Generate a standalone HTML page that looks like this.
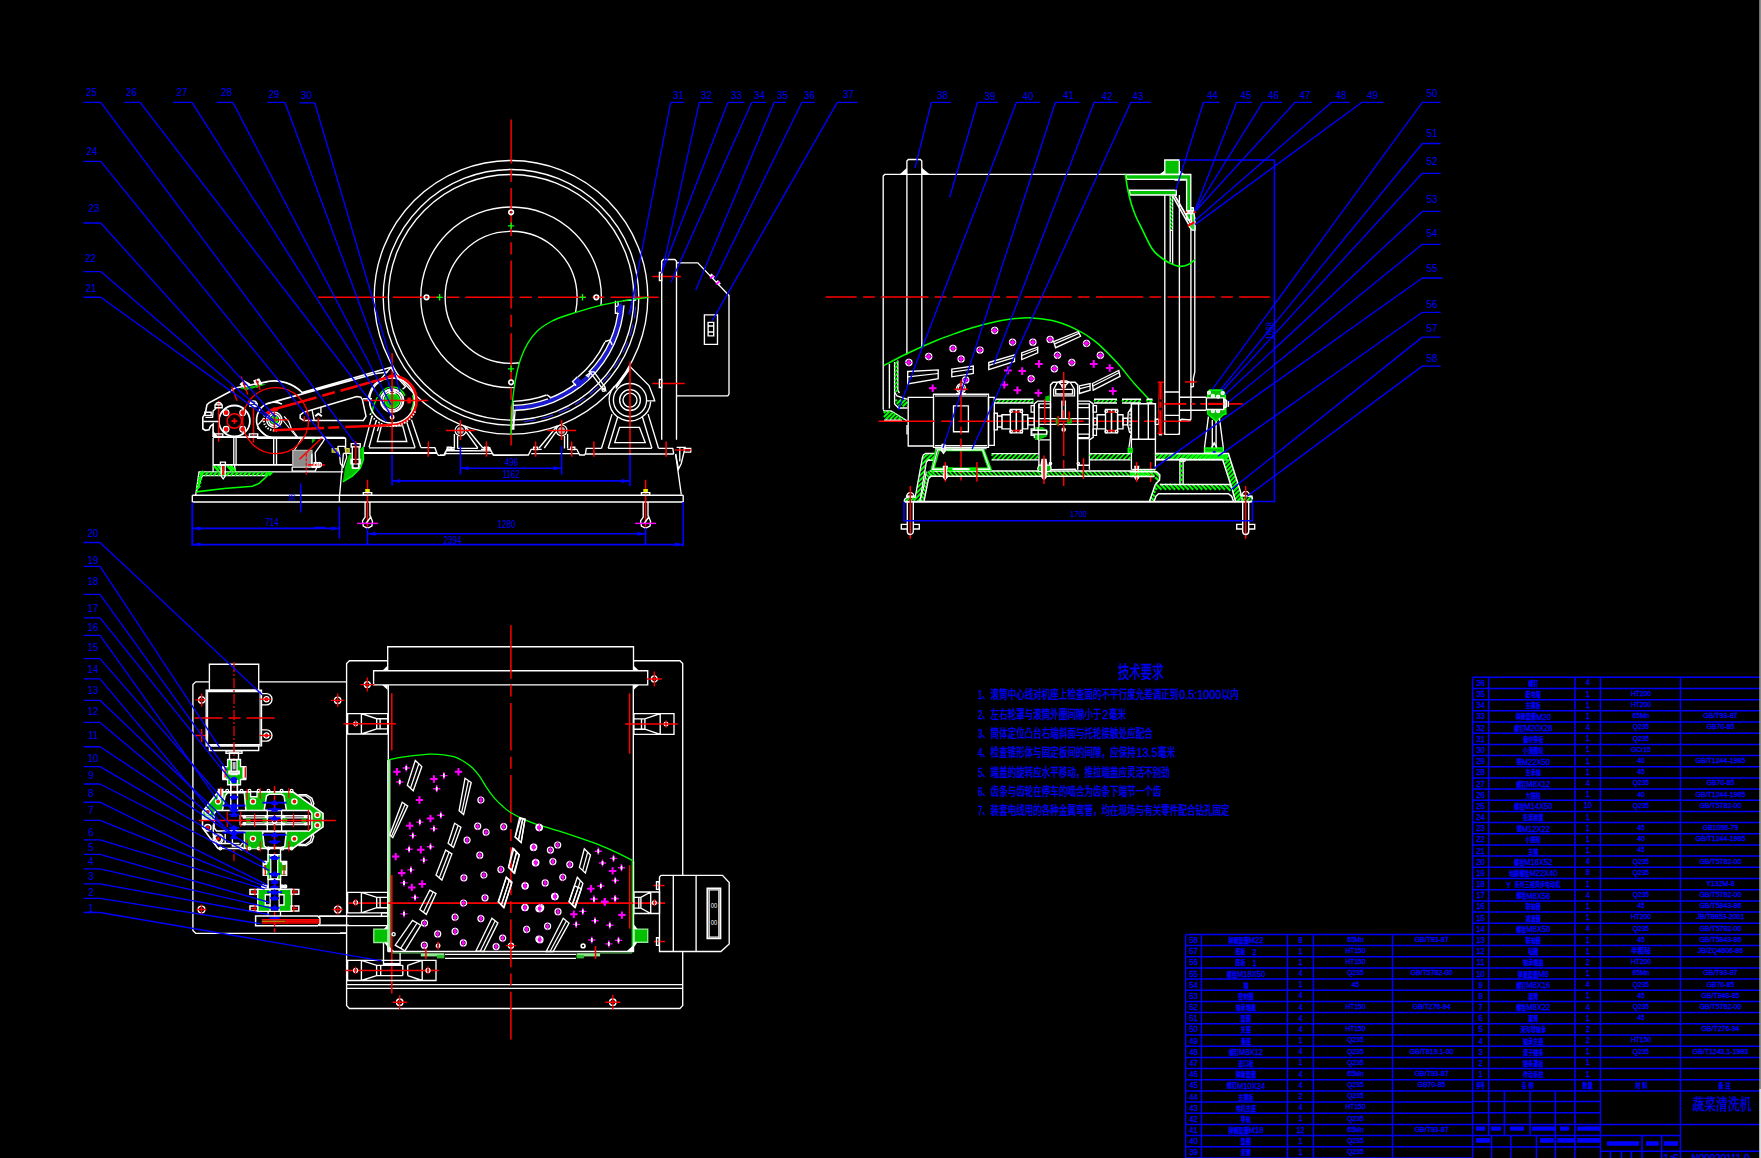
<!DOCTYPE html>
<html lang="zh"><head><meta charset="utf-8"><title>蔬菜清洗机 装配图</title>
<style>
html,body{margin:0;padding:0;background:#000;overflow:hidden}
svg{display:block}
text{font-family:"Liberation Sans","Noto Sans CJK SC",sans-serif}
text.m{font-family:"Liberation Mono","Noto Sans CJK SC",monospace}
text.f{font-family:"Liberation Serif","Noto Serif CJK SC",serif}
text.b{stroke:#00f;stroke-width:.3px}
</style></head>
<body>
<svg width="1761" height="1158" viewBox="0 0 1761 1158">
<rect width="1761" height="1158" fill="#000"/>
<g fill="none">
<path stroke="#ffffff" stroke-width="1.35" d="M374.2 297.3a136.8 136.8 0 1 0 273.6 0a136.8 136.8 0 1 0 -273.6 0M383.2 297.3a127.8 127.8 0 1 0 255.6 0a127.8 127.8 0 1 0 -255.6 0M388.4 297.3a122.7 122.7 0 1 0 245.4 0a122.7 122.7 0 1 0 -245.4 0M420.8 297.3a90.3 90.3 0 1 0 180.6 0a90.3 90.3 0 1 0 -180.6 0M445.1 297.3a66 66 0 1 0 132 0a66 66 0 1 0 -132 0"/>
<path stroke="#ff0000" stroke-width="1.49" d="M318.2 297.3L386.7 297.3"/>
<path stroke="#ff0000" stroke-width="1.49" stroke-dasharray="48 6.2 12.3 6.1" d="M392.8 297.3L658.6 297.3"/>
<path stroke="#ff0000" stroke-width="1.49" d="M511.1 119.5L511.1 163.5"/>
<path stroke="#ff0000" stroke-width="1.49" stroke-dasharray="12.3 6.1 48 6.2" d="M511.1 169.6L511.1 445.5"/>
<path stroke="#ffffff" stroke-width="1.62" d="M508.8 212.3a2.3 2.3 0 1 0 4.6 0a2.3 2.3 0 1 0 -4.6 0M508.8 382.3a2.3 2.3 0 1 0 4.6 0a2.3 2.3 0 1 0 -4.6 0M424.2 297.3a2.3 2.3 0 1 0 4.6 0a2.3 2.3 0 1 0 -4.6 0M594 297.3a2.3 2.3 0 1 0 4.6 0a2.3 2.3 0 1 0 -4.6 0"/>
<path stroke="#00ff00" stroke-width="1.35" d="M507.9 225.8L514.2 225.8M511.1 222.6L511.1 229M507.9 368.8L514.2 368.8M511.1 365.6L511.1 372M436.4 297.3L442.8 297.3M439.6 294.1L439.6 300.5M579.3 297.3L585.8 297.3M582.5 294.1L582.5 300.5"/>
<path stroke-width="1.35" fill="#000" d="M624.4 300.7L596.7 306.3L569.1 314.5L551.1 321.5L537.3 331.1L527.6 343.6L520.7 358.8L516.6 374L513.8 390.5L512.2 404.4L511.4 420L511.1 433.4L511.1 418.7L521.6 418.2L532.1 416.9L542.5 414.6L552.6 411.4L562.4 407.3L571.8 402.4L580.7 396.7L589.1 390.3L596.9 383.1L604 375.3L610.5 366.9L616.2 358L621.1 348.6L625.1 338.8L628.3 328.7L630.6 318.4L632 307.9L632.5 297.3Z"/>
<path stroke-width="1.35" fill="#1a1ad0" d="M623.6 305.2L623 311L622.1 316.9L621 322.7L619.5 328.4L617.7 334L615.6 339.6L613.3 345L610.6 350.3L607.7 355.4L604.6 360.4L601.1 365.2L597.5 369.8L593.5 374.2L589.4 378.4L585.1 382.4L580.5 386.2L575.7 389.7L570.8 393L565.7 396L560.5 398.7L555.1 401.1L549.6 403.3L544 405.2L538.3 406.7L532.6 408L526.7 409L520.9 409.7L515 410L514.8 405.8L520.5 405.5L526.2 404.8L531.8 403.9L537.3 402.7L542.8 401.2L548.2 399.4L553.5 397.3L558.7 394.9L563.7 392.3L568.6 389.4L573.3 386.3L577.9 382.9L582.3 379.3L586.5 375.4L590.5 371.4L594.2 367.1L597.8 362.7L601.1 358L604.1 353.2L606.9 348.3L609.5 343.2L611.7 338L613.7 332.7L615.4 327.2L616.9 321.7L618 316.2L618.8 310.5L619.4 304.9Z"/>
<path stroke="#ffffff" stroke-width="1.35" d="M624 305.2A113.2 113.2 0 0 1 514 410.5M618.8 304.8A108 108 0 0 1 588.7 372.3M577.5 382.4A108 108 0 0 1 549.8 398.1M604.9 342.1A104 104 0 0 1 577.9 377M546.6 395A104 104 0 0 1 512.9 401.3M548 398.8A108 108 0 0 1 512.9 405.3"/>
<path stroke="#2828f0" stroke-width="1.08" stroke-dasharray="12 6" d="M635.7 288.6A125 125 0 0 1 519.8 422"/>
<path stroke="#ffffff" stroke-width="1.35" d="M605 341.5L609.8 340.1L612.2 344.9M547 394.7L550.4 397.4M615.4 300.7L615.4 313.2L619.1 313.2M615.4 306.3L618.1 306.3L618.1 300.7"/>
<path stroke-width="1.35" fill="#1a1ad0" d="M616.8 307.6L621.6 302.1L621.6 314.5L617.4 312.5ZM572.5 381.6L577.4 376.7L581.5 380.9L586.4 376.7L588.4 379.5L579.4 387.1Z"/>
<path stroke="#ffffff" stroke-width="1.35" d="M577.4 376.7L572.5 381.6L576 385.7M589.8 371.9L602.9 389.2L605.7 390.5L605 387.1L594 371.9ZM586.4 375.3L590.5 372.6L588.4 376.7ZM602 389.8a1.6 1.6 0 1 0 3.2 0a1.6 1.6 0 1 0 -3.2 0M513.1 402.3L513.1 428.5L511.3 429.2M515.2 409.9L513.8 425.1M511.6 425.1L513.8 425.1L513.8 429.1L511.6 429.1ZM623 300.7L636.1 300"/>
<path stroke="#3030ff" stroke-width="1.35" d="M632.6 300.7L629.2 314.5"/>
<path stroke="#00ff00" stroke-width="1.35" d="M648.5 297.3C644.5 297.9 633 299.2 624.4 300.7C615.8 302.2 605.9 304 596.7 306.3C587.5 308.6 576.7 312 569.1 314.5C561.5 317 556.4 318.7 551.1 321.5C545.8 324.3 541.2 327.4 537.3 331.1C533.4 334.8 530.4 339 527.6 343.6C524.8 348.2 522.5 353.7 520.7 358.8C518.9 363.9 517.8 368.7 516.6 374C515.5 379.3 514.5 385.4 513.8 390.5C513.1 395.6 512.6 399.5 512.2 404.4C511.8 409.3 511.6 415.2 511.4 420C511.2 424.8 511.1 431.2 511.1 433.4"/>
<path stroke="#00ff00" stroke-width="1.62" d="M511.1 433L511.1 434.8"/>
<path stroke="#ffffff" stroke-width="1.35" d="M623 400.1a7 7 0 1 0 14 0a7 7 0 1 0 -14 0M619.6 400.1a10.4 10.4 0 1 0 20.8 0a10.4 10.4 0 1 0 -20.8 0M613.4 400.1a16.6 16.6 0 1 0 33.2 0a16.6 16.6 0 1 0 -33.2 0M650.7 401.9A20.8 20.8 0 1 1 614.5 386.2M615.8 386.6L630 366.6L649 385.6L653.8 398L654.7 400.8L646.2 400.8M630 368.5L615.8 388.5"/>
<path stroke="#ff0000" stroke-width="1.49" d="M630 361.5L630 455"/>
<path stroke="#ffffff" stroke-width="1.35" d="M612 414.1L601.5 448.3M617.7 417L608.2 448.3M642.4 417L651.9 448.3M648.1 414.1L658.5 448.3M619.6 427.4L639.5 427.4L645.2 442.6L614.8 442.6ZM585.4 454L586.3 448.3L601.5 448.3M608.2 448.3L651.9 448.3M658.5 448.3L672.8 448.3L673.7 454"/>
<path stroke="#00ff00" stroke-width="1.35" fill="#00c000" d="M384.9 400.5a7.2 7.2 0 1 0 14.4 0a7.2 7.2 0 1 0 -14.4 0"/>
<path stroke="#ffffff" stroke-width="1.35" d="M382.9 400.5a9.2 9.2 0 1 0 18.4 0a9.2 9.2 0 1 0 -18.4 0"/>
<path stroke="#ffffff" stroke-width="1.89" d="M380.8 400.5a11.3 11.3 0 1 0 22.6 0a11.3 11.3 0 1 0 -22.6 0"/>
<path stroke="#00ff00" stroke-width="1.35" d="M379 397A13.6 13.6 0 0 1 404.9 395.8M412.7 395A21.3 21.3 0 0 1 411.1 410.2M371.8 413.6L373.6 405.5L377.4 396.9"/>
<path stroke="#ffffff" stroke-width="1.62" d="M369.5 400.5a22.6 22.6 0 1 0 45.2 0a22.6 22.6 0 1 0 -45.2 0"/>
<path stroke="#ff0000" stroke-width="2.56" d="M388.7 376A24.7 24.7 0 1 1 389.9 425.1"/>
<path stroke="#ffffff" stroke-width="1.76" stroke-dasharray="1.5 1.5" d="M415.3 411.3A25.6 25.6 0 0 1 369.9 413.3"/>
<path stroke="#ffffff" stroke-width="1.35" d="M389.3 389.8L394.9 389.8L394.9 393.6L389.3 393.6ZM390.3 417.2a1.8 1.8 0 1 0 3.6 0a1.8 1.8 0 1 0 -3.6 0"/>
<path stroke="#ff0000" stroke-width="1.49" d="M363.8 400.5L427.8 400.5M392.1 353.2L392.1 453"/>
<path stroke="#ff0000" stroke-width="1.35" fill="#ff0000" d="M408 398.2L410.2 398.2L410.2 402.8L408 402.8Z"/>
<path stroke="#ffffff" stroke-width="1.35" d="M368.4 401.3A23.7 23.7 0 0 1 379.5 380.4M379.8 380.2L391 367.3L396.5 376.5L405.6 386.7L402.5 389.3M372 398.7L363 398.7M372.1 415.5L363.8 447.2M376.2 420.7L369 447.2M406.8 422.3L415.1 447.7M411.5 419.7L420.8 447.2M381.4 425.9L402.7 425.9L406.8 441.5L377.3 441.5ZM369 447.9L415.1 447.9M420.8 447.5L434.8 447.7L436.9 453.1M379.9 423.6L377.3 431.1M343.3 453.4L436.9 453.4L438.4 455.4L443.6 455.4L446.2 450.5L448.3 447.7L454.5 447.7M362.8 452.6L436.5 452.6M457.6 448.3L477.8 448.3M483 447.7L489.7 447.7L490.8 450.8L493.9 455.4L528.4 455L531.2 449.3L541.7 449.3M446.2 450.5L490.8 450.8M531.2 453.6L579.7 453.6M567.3 449.3L576.8 449.3L579.7 455L584.4 455L585.4 454L673.7 454M440 455L444.8 455L446.7 449.3L454.8 449.3M480.9 449.3L490.4 449.3L493.2 455L528.4 455M445.7 453.6L492.3 453.6"/>
<path stroke="#ffffff" stroke-width="1.22" d="M455.1 430.4a5.4 5.4 0 1 0 10.8 0a5.4 5.4 0 1 0 -10.8 0"/>
<path stroke-width="1.35" fill="#b4bcbc" d="M456.9 430.4a3.5 3.5 0 1 0 7 0a3.5 3.5 0 1 0 -7 0"/>
<path stroke="#ffffff" stroke-width="1.35" d="M454.4 433.9L454.4 448.5M457.6 435.9L457.6 448.5M464.8 426L482.9 448M466.3 432.2L477.8 448"/>
<path stroke="#ff0000" stroke-width="1.49" d="M445.9 430.4L474.9 430.4M460.4 419.9L460.4 439.9"/>
<path stroke="#ffffff" stroke-width="1.35" d="M447.2 447.2L451.2 447.2L451.2 449.6L447.2 449.6ZM484.4 447.2L488.4 447.2L488.4 449.6L484.4 449.6Z"/>
<path stroke="#ffffff" stroke-width="1.22" d="M556.2 430.4a5.4 5.4 0 1 0 10.8 0a5.4 5.4 0 1 0 -10.8 0"/>
<path stroke-width="1.35" fill="#b4bcbc" d="M558.1 430.4a3.5 3.5 0 1 0 7 0a3.5 3.5 0 1 0 -7 0"/>
<path stroke="#ffffff" stroke-width="1.35" d="M567.6 433.9L567.6 448.5M564.5 435.9L564.5 448.5M557.2 426L539.1 448M555.7 432.2L544.3 448"/>
<path stroke="#ff0000" stroke-width="1.49" d="M547.1 430.4L576.1 430.4M561.6 419.9L561.6 439.9"/>
<path stroke="#ffffff" stroke-width="1.35" d="M574.8 447.2L570.8 447.2L570.8 449.6L574.8 449.6ZM537.6 447.2L533.6 447.2L533.6 449.6L537.6 449.6Z"/>
<path stroke="#ff0000" stroke-width="1.49" d="M428.3 441.5L428.3 456.8M486.4 441.5L486.4 456.8M535.6 441.5L535.6 456.8M571.7 441.5L571.7 456.8M593.9 441.5L593.9 456.8M666.1 441.5L666.1 456.8"/>
<path stroke="#ffffff" stroke-width="1.62" d="M192.3 495.3L683.2 495.3M192.3 502L683.2 502"/>
<path stroke="#ffffff" stroke-width="1.35" d="M192.3 495.3L192.3 502M683.2 495.3L683.2 502M339.4 495.3L339.4 502M339.6 495.3L343.4 453.4M675.6 454L681.3 494.5M661.7 439.7L661.7 261.2L663.3 259.5L674.8 259.5L676.5 261.2L676.5 439.7M676.5 262.8L697.8 262.8L729 295.6L729 394.1L727.8 395.8L676.5 395.8M704.4 314.8L717.5 314.8L717.5 344.4L704.4 344.4ZM708.1 322.4L713.7 322.4L713.7 335.9L708.1 335.9ZM708.1 326L713.7 326M708.1 332L713.7 332"/>
<path stroke="#ff0000" stroke-width="1.49" d="M652.3 276.4L680.9 276.4M652.3 383.5L684.7 383.5"/>
<path stroke="#ffffff" stroke-width="1.35" d="M659.4 272.5L661.7 272.5L661.7 280.5L659.4 280.5ZM659.4 379.5L661.7 379.5L661.7 387.5L659.4 387.5Z"/>
<path stroke="#ffffff" stroke-width="3.24" d="M710.4 274.6L713.7 277.9M716.7 280.9L719.6 284.5"/>
<path stroke="#ff00ff" stroke-width="1.76" d="M710.1 278.4L713.7 275.6M716 284.2L719.6 281.4"/>
<path stroke="#ffffff" stroke-width="1.35" d="M676.6 447.4L685.1 447.4L681.3 463.5L678.5 469.2L675.6 454M679.8 448.3L679.8 461.6M684.2 448.3L690.7 448.3L690.7 452.1L684.2 452.1Z"/>
<path stroke="#ff0000" stroke-width="1.35" d="M674.7 450L691.2 450"/>
<path stroke="#ff0000" stroke-width="1.49" d="M367.5 479.8L367.5 528"/>
<path stroke-width="1.35" fill="#e8e800" d="M365.2 489L369.8 489L369.8 492.9L365.2 492.9Z"/>
<path stroke="#ffffff" stroke-width="1.35" d="M363.3 492.6L371.7 492.6L371.7 495.2L363.3 495.2ZM365.1 502L365.1 517L362.5 521L363.3 526L367.5 528.3L371.9 526L372.5 521.5L370.7 517L366 523.5M369.9 502L369.9 516.5"/>
<path stroke="#ff00ff" stroke-width="1.49" d="M357.1 523.4L377.9 523.4"/>
<path stroke="#ff0000" stroke-width="1.49" d="M645.6 479.8L645.6 528"/>
<path stroke-width="1.35" fill="#e8e800" d="M643.3 489L647.9 489L647.9 492.9L643.3 492.9Z"/>
<path stroke="#ffffff" stroke-width="1.35" d="M641.4 492.6L649.8 492.6L649.8 495.2L641.4 495.2ZM643.2 502L643.2 517L640.6 521L641.4 526L645.6 528.3L650 526L650.6 521.5L648.8 517L644.1 523.5M648 502L648 516.5"/>
<path stroke="#ff00ff" stroke-width="1.49" d="M635.2 523.4L656 523.4"/>
<path stroke="#ffffff" stroke-width="1.35" d="M195.7 495L199 471.9L343.3 471.9M196.2 491.9L202.4 475.6L268.1 475.6"/>
<path stroke="#00ff00" stroke-width="2.16" d="M200.7 475.5L204.1 472M205 475.5L208.4 472M209.3 475.5L212.6 472M213.5 475.5L216.9 472M217.8 475.5L221.2 472M222.1 475.5L225.4 472M226.3 475.5L229.7 472M230.6 475.5L234 472M234.9 475.5L238.2 472M239.1 475.5L242.5 472M243.4 475.5L246.8 472M247.7 475.5L251 472M251.9 475.5L255.3 472M256.2 475.5L259.6 472M260.5 475.5L263.8 472M264.7 475.5L268.1 472M269 475.5L272.4 472M196.2 489.6L200.2 485.7M197 485.9L200.9 482M197.8 482.2L201.7 478.3M198.6 478.5L202.5 474.6M199.4 474.8L203.3 470.9"/>
<path stroke="#00ff00" stroke-width="1.62" d="M196.2 491.9L224.3 488.5L252.4 486.2L259.1 483.4L265.8 477.3L270.3 471.9"/>
<path stroke="#ffffff" stroke-width="1.35" d="M213.1 464.9L213.1 471.7M234.4 464.9L235.5 471.7"/>
<path stroke="#00ff00" stroke-width="2.43" d="M213.6 465.5L218.7 471.1M217.6 465.5L222.6 471.1M227.1 465.5L232.2 471.1M230.5 465.5L235.5 471.1"/>
<path stroke="#ffffff" stroke-width="1.35" d="M220.4 462.1L225.4 462.1L225.4 465.1L220.4 465.1ZM221.2 464.9L221.2 476.1L223.2 478.9L225.2 476.1L225.2 464.9"/>
<path stroke="#ff0000" stroke-width="1.89" d="M223.2 466L223.2 475"/>
<path stroke="#ffffff" stroke-width="1.35" d="M213.1 438L213.1 464.9"/>
<path stroke="#ffffff" stroke-width="1.89" d="M213.1 464.9L292.2 464.9"/>
<path stroke="#ffffff" stroke-width="1.35" d="M233.8 438L233.8 464.9M236.1 438L236.1 464.9M273.7 438L273.7 464.9M276.5 438L276.5 464.9"/>
<path stroke="#ffffff" stroke-width="1.76" d="M256.9 438L345.6 438"/>
<path stroke="#ffffff" stroke-width="1.35" d="M345.6 438L345.6 452.6"/>
<path stroke="#ffffff" stroke-width="1.08" d="M282.7 420L297.3 438M301.8 438L294.5 450.3"/>
<path stroke="#bbbbbb" stroke-width="1.35" fill="#8c8c8c" d="M292.8 450.3L311.9 450.3L311.9 467.2L292.8 467.2Z"/>
<path stroke="#ffffff" stroke-width="1.35" d="M292.2 467.2L292.2 471.1L315.2 471.1L316.9 467.2L311.9 467.2M311.9 453.7L311.9 466L315.8 466L315.2 452.6L322.5 442.5L324.8 438.5L321.4 436.8"/>
<path stroke="#ff0000" stroke-width="1.55" d="M299.5 459.3L323.1 436.8"/>
<path stroke-width="1.35" fill="#00c000" d="M311.9 439.1L311.9 443.6L315.8 439.6Z"/>
<path stroke="#ff0000" stroke-width="1.22" stroke-dasharray="3 1.5" d="M306.3 453.7L306.3 476.1"/>
<path stroke="#ff0000" stroke-width="1.62" d="M308 464.9L324.8 464.9"/>
<path stroke="#ffffff" stroke-width="1.35" d="M314.1 462.7L319.1 462.7L319.1 467.2L314.1 467.2ZM317 464.7a2.2 2.2 0 1 0 4.4 0a2.2 2.2 0 1 0 -4.4 0M337.7 446.4L345 446.4L346.7 457.1L343.3 467.2L340.5 463.8L339.4 453.7L337.7 446.4"/>
<path stroke="#d8d860" stroke-width="1.08" fill="#909000" d="M332.1 448.6L337.7 448.6L337.7 452.2L332.1 452.2ZM345.6 448.6L349.2 448.6L349.2 452.2L345.6 452.2Z"/>
<path stroke-width="1.35" fill="#00c000" d="M348.9 454.8L363 446.9L363.5 459.3L360.2 468.3L352.3 476.1L342.8 481.8L345 467.2Z"/>
<path stroke="#00ff00" stroke-width="1.49" d="M363 446.9L363.5 459.3L360.2 468.3L352.3 476.1L342.8 481.8"/>
<path stroke="#ffffff" stroke-width="1.35" d="M351.2 443.6L360.2 443.6L360.2 447.1L351.2 447.1Z"/>
<path stroke="#ffffff" stroke-width="1.35" fill="#000" d="M352.3 446.9L359.1 446.9L359.1 467.9L352.3 467.9ZM351 459.3L360.4 459.3L360.4 463.8L351 463.8ZM352.9 463.8L358.5 463.8L358.5 468.3L352.9 468.3Z"/>
<path stroke="#d00000" stroke-width="1.89" d="M355.7 441.3L355.7 463.8"/>
<path stroke="#ffffff" stroke-width="1.76" d="M218.9 421a15.5 15.5 0 1 0 31 0a15.5 15.5 0 1 0 -31 0"/>
<path stroke="#ff0000" stroke-width="1.55" d="M227.1 421a7.3 7.3 0 1 0 14.6 0a7.3 7.3 0 1 0 -14.6 0"/>
<path stroke="#ff0000" stroke-width="1.76" d="M231.6 421L237.2 421M234.4 418.2L234.4 423.8"/>
<path stroke="#ff0000" stroke-width="1.62" fill="#ff0000" d="M224.5 412.7a1.6 1.6 0 1 0 3.2 0a1.6 1.6 0 1 0 -3.2 0"/>
<path stroke="#ffffff" stroke-width="1.08" d="M223.2 412.7a2.9 2.9 0 1 0 5.8 0a2.9 2.9 0 1 0 -5.8 0"/>
<path stroke="#ff0000" stroke-width="1.62" fill="#ff0000" d="M224.5 429.3a1.6 1.6 0 1 0 3.2 0a1.6 1.6 0 1 0 -3.2 0"/>
<path stroke="#ffffff" stroke-width="1.08" d="M223.2 429.3a2.9 2.9 0 1 0 5.8 0a2.9 2.9 0 1 0 -5.8 0"/>
<path stroke="#ff0000" stroke-width="1.62" fill="#ff0000" d="M241.1 412.7a1.6 1.6 0 1 0 3.2 0a1.6 1.6 0 1 0 -3.2 0"/>
<path stroke="#ffffff" stroke-width="1.08" d="M239.8 412.7a2.9 2.9 0 1 0 5.8 0a2.9 2.9 0 1 0 -5.8 0"/>
<path stroke="#ff0000" stroke-width="1.62" fill="#ff0000" d="M241.1 429.3a1.6 1.6 0 1 0 3.2 0a1.6 1.6 0 1 0 -3.2 0"/>
<path stroke="#ffffff" stroke-width="1.08" d="M239.8 429.3a2.9 2.9 0 1 0 5.8 0a2.9 2.9 0 1 0 -5.8 0"/>
<path stroke="#ff0000" stroke-width="1.49" d="M218.6 400.8L218.6 441.7M253.5 404.9L253.5 442.7"/>
<path stroke="#ffffff" stroke-width="1.62" d="M230.2 391.5L209 402.8L206.9 404.9L205.4 413.2L202.8 417.4L202.8 428.8L205.4 430.3L209 429.8L210.5 426.2L213.1 424.1L213.1 437"/>
<path stroke="#ffffff" stroke-width="1.35" d="M205.4 417.4L212.6 417.4L213.1 411.1L216.2 408M203.3 421.5L218.3 421.5"/>
<path stroke="#ffffff" stroke-width="1.76" d="M213.1 437L344.2 437.6"/>
<path stroke="#ffffff" stroke-width="1.35" d="M213.1 431.9L217.3 437M215 404.9L222.2 404.9L222.2 407.7L215 407.7ZM215.6 405.5A3 3 0 0 1 221.6 405.5M249.9 403.4L257.1 403.4L257.1 406.2L249.9 406.2ZM250.5 403.9A3 3 0 0 1 256.5 403.9M214.5 433.9L222.8 433.9L222.8 436.5L214.5 436.5ZM249.4 433.9L257.7 433.9L257.7 436.5L249.4 436.5ZM204.8 412.2L211.2 412.2L211.2 415.4L204.8 415.4Z"/>
<path stroke="#ffffff" stroke-width="1.62" d="M230.2 391.5L234.4 388.3L267.5 381.6"/>
<path stroke="#ffffff" stroke-width="2.16" d="M241.1 384.2L244.2 381.6L248.9 384.2L245.8 388.9ZM254.6 381.1L258.7 379.5L261.3 384.2L257.2 386.3Z"/>
<path stroke-width="1.35" fill="#00c000" d="M239.6 388.3L266.5 383.7L262.4 385.8L246.8 389.9Z"/>
<path stroke="#ff0000" stroke-width="1.35" d="M241.1 376.4L247.8 394.6M231.8 386.8L237 400.8M256.1 379.5L260.3 389.9"/>
<path stroke="#ffffff" stroke-width="1.62" d="M266.2 381.8A39 39 0 0 1 302.4 392.8M271.2 437.2A17.6 17.6 0 1 1 282 404.1M302.2 392.5L391 367.3M266.5 403.9L375 373.8L387.4 372"/>
<path stroke="#ffffff" stroke-width="1.35" d="M257.2 427.7L267.5 437"/>
<path stroke="#ffffff" stroke-width="1.49" d="M303.8 412.2L356.7 396.6L360.8 397.2L362.4 399.7L366 416.3L363.4 420.5L303.8 420.5L300.2 418.4L300.2 414.8Z"/>
<path stroke="#ffffff" stroke-width="1.35" d="M312.1 410.1L314.2 420.5M320.9 407.5L320.9 413.2"/>
<path stroke="#ffffff" stroke-width="2.03" d="M315.2 416.3L318.3 413.7L321.9 416.3"/>
<path stroke="#ff0000" stroke-width="1.49" d="M304.3 416.3L304.3 421.5M318.3 417.4L318.3 427.7"/>
<path stroke="#ffffff" stroke-width="1.35" d="M258.2 424.6L263.4 418.9"/>
<path stroke="#ffffff" stroke-width="1.22" d="M284.1 416.3L288.8 421.5L291.4 428.8L297.6 437"/>
<path stroke="#ffffff" stroke-width="2.43" d="M251 406L257.2 406"/>
<path stroke="#ff0000" stroke-width="1.35" d="M242.6 420.6a33 33 0 1 0 66 0a33 33 0 1 0 -66 0"/>
<path stroke="#00ff00" stroke-width="1.35" fill="#00c000" d="M270.9 419.9a3.4 3.4 0 1 0 6.8 0a3.4 3.4 0 1 0 -6.8 0"/>
<path stroke="#ffffff" stroke-width="1.49" d="M268.7 419.9a5.6 5.6 0 1 0 11.2 0a5.6 5.6 0 1 0 -11.2 0M266.7 419.9a7.6 7.6 0 1 0 15.2 0a7.6 7.6 0 1 0 -15.2 0"/>
<path stroke="#ffffff" stroke-width="2.16" stroke-dasharray="1.4 1.4" d="M277 430.1A10.6 10.6 0 0 1 265.6 413.8"/>
<path stroke="#ff0000" stroke-width="2.29" d="M265.9 414A10.3 10.3 0 0 1 277.8 410.2"/>
<path stroke="#ff0000" stroke-width="1.35" d="M262.8 419.9L288.8 419.9M274.3 406.9L274.3 431.9"/>
<path stroke="#ff0000" stroke-width="2.56" d="M268 414.3L271.2 410.1"/>
<path stroke="#ff0000" stroke-width="2.56" stroke-dasharray="47 6 13 6 200" d="M271.2 410.1L393 376"/>
<path stroke="#ff0000" stroke-width="2.56" stroke-dasharray="50 4 11 6 200" d="M274.3 430.2L392 425"/>
<path stroke="#0000ff" stroke-width="1.62" d="M460.4 446.2L460.4 474.5M561.6 446.2L561.6 474.5M460.4 468.2L561.6 468.2"/>
<path stroke-width="1.35" fill="#0000ff" d="M460.4 468.2L468.6 466.2L468.6 470.2ZM561.6 468.2L553.4 470.2L553.4 466.2Z"/>
<text transform="translate(511.5 466) scale(0.8 1)" text-anchor="middle" font-size="10" fill="#0000ff">496</text>
<path stroke="#0000ff" stroke-width="1.62" d="M392.1 455L392.1 485.5M630 455L630 486.3M392.1 480.9L630 480.9"/>
<path stroke-width="1.35" fill="#0000ff" d="M392.1 480.9L400.3 478.9L400.3 482.9ZM630 480.9L621.8 482.9L621.8 478.9Z"/>
<text transform="translate(511 478.2) scale(0.8 1)" text-anchor="middle" font-size="10" fill="#0000ff">1162</text>
<path stroke="#0000ff" stroke-width="1.89" d="M192.3 502.5L192.3 546"/>
<path stroke="#0000ff" stroke-width="1.62" d="M339.4 506.5L339.4 538.5M192.3 528.4L339.4 528.4"/>
<path stroke-width="1.35" fill="#0000ff" d="M192.3 528.4L200.5 526.4L200.5 530.4ZM339.4 528.4L331.2 530.4L331.2 526.4Z"/>
<text transform="translate(272 526) scale(0.8 1)" text-anchor="middle" font-size="10" fill="#0000ff">714</text>
<path stroke="#0000ff" stroke-width="1.62" d="M314 527.6L325 527.6M367.5 533.8L645.6 533.8"/>
<path stroke-width="1.35" fill="#0000ff" d="M367.5 533.8L375.7 531.8L375.7 535.8ZM645.6 533.8L637.4 535.8L637.4 531.8Z"/>
<text transform="translate(506.5 528.2) scale(0.8 1)" text-anchor="middle" font-size="10" fill="#0000ff">1280</text>
<path stroke="#0000ff" stroke-width="1.62" d="M367.5 528L367.5 544.6M645.6 528L645.6 544.6M192.3 544.6L683.2 544.6"/>
<path stroke-width="1.35" fill="#0000ff" d="M192.3 544.6L200.5 542.6L200.5 546.6ZM683.2 544.6L675 546.6L675 542.6Z"/>
<text transform="translate(452.5 544) scale(0.8 1)" text-anchor="middle" font-size="10" fill="#0000ff">2394</text>
<path stroke="#0000ff" stroke-width="1.62" d="M683.2 502L683.2 546.2"/>
<path stroke="#0000ff" stroke-width="1.49" d="M300.7 483.4L300.7 512.6"/>
<path stroke-width="1.35" fill="#0000ff" d="M300.7 495.3L299.5 490.8L301.9 490.8ZM300.7 502L301.9 506.5L299.5 506.5Z"/>
<text transform="translate(294.6 501.6) rotate(-90) scale(0.78 1)" font-size="8.6" fill="#0000ff">38</text>
<path stroke="#ffffff" stroke-width="1.35" d="M883.2 409.5L883.2 176L884.8 174.4L1125.3 174.4M906.9 354.5L906.9 161L908.3 159.5L920.4 159.5L921.8 161L921.8 348.2"/>
<path stroke-width="1.35" fill="#ffffff" d="M899.8 174.3L906.9 167.8L906.9 174.3ZM921.8 167.8L929.6 174.3L921.8 174.3Z"/>
<path stroke="#ff0000" stroke-width="1.49" d="M825.7 297L856.6 297"/>
<path stroke="#ff0000" stroke-width="1.49" stroke-dasharray="11.7 6.4 47.3 6.2" d="M863.1 297L1269.8 297"/>
<path stroke="#ffffff" stroke-width="1.35" fill="#00c000" d="M1164.8 160L1179.3 160L1179.3 174.5L1164.8 174.5Z"/>
<path stroke-width="1.35" fill="#ffffff" d="M1159.3 174.5L1164.8 170.2L1164.8 174.5ZM1179.3 170.2L1184.7 174.5L1179.3 174.5Z"/>
<path stroke="#ffffff" stroke-width="1.35" fill="#00c000" d="M1125.3 174.5L1190.8 174.5L1190.8 219.8L1186.6 219.8L1186.6 179.3L1127 179.3ZM1129.2 190.2L1176.3 190.2L1176.3 195L1130.2 195Z"/>
<path stroke="#ffffff" stroke-width="1.35" d="M1174.5 180L1186 180M1164.8 195L1164.8 434.7M1179.4 195L1179.4 434.7M1170.2 195.6L1170.2 262M1172.6 195.6L1172.6 264"/>
<path stroke="#00ff00" stroke-width="1.22" d="M1170.2 197.9L1171.5 196M1170.2 201.8L1172.6 198.3M1170.2 205.6L1172.6 202.2M1170.2 209.4L1172.6 206M1170.2 213.3L1172.6 209.8M1170.2 217.1L1172.6 213.7M1170.2 220.9L1172.6 217.5M1170.2 224.8L1172.6 221.3M1170.2 228.6L1172.6 225.2M1171.9 230L1172.6 229"/>
<path stroke="#ffffff" stroke-width="1.35" d="M1170.2 230.3L1172.6 230.3M1190.9 229L1190.9 419.8M1194.8 224.5L1194.8 372L1193.4 378L1193.4 386.5L1191.2 387.2M1179.4 419.8L1190.9 419.8"/>
<path stroke="#ff0000" stroke-width="1.49" d="M1185 381.9L1196.7 381.9"/>
<path stroke="#ffffff" stroke-width="1.62" d="M1172.6 195.9L1191.4 229.2M1174.5 195L1193.2 227.7"/>
<path stroke="#ffffff" stroke-width="1.35" fill="#30d030" d="M1190.8 207.7L1193.2 207.7L1195 219.8L1195 230.1L1192 230.1L1189 226.5L1191.4 223.4Z"/>
<path stroke="#ff0000" stroke-width="1.62" d="M1185.3 212.2L1196.2 212.2"/>
<path stroke="#ff0000" stroke-width="2.16" d="M1187.8 225.9L1194.4 222.2"/>
<path stroke="#ffffff" stroke-width="1.35" fill="#ddd" d="M1187.8 210.7L1192.6 210.7L1192.6 213.6L1187.8 213.6Z"/>
<path stroke="#00ff00" stroke-width="1.62" d="M1125.3 174.4C1125.7 176.7 1126.6 183.3 1127.5 188C1128.4 192.7 1129.6 197.9 1130.9 202.5C1132.2 207.1 1133.7 211.2 1135.5 215.5C1137.3 219.8 1138.9 222.8 1141.7 228.4C1144.5 234 1148.9 244 1152.1 248.8C1155.3 253.7 1158 255.1 1161 257.5C1164 259.9 1167 261.8 1170.2 263.3C1173.4 264.8 1176.9 266.2 1179.9 266.4C1182.9 266.6 1185.9 265.6 1188.4 264.5C1190.9 263.4 1193.9 260.5 1195 259.7"/>
<path stroke="#0000ff" stroke-width="1.62" d="M1179.3 160L1274.4 160L1274.4 501.5L1251.8 501.5"/>
<text transform="translate(1273.6 339.8) rotate(-90) scale(0.8 1)" font-size="10" fill="#0000ff">1668</text>
<path stroke="#00ff00" stroke-width="1.49" d="M883.8 365.6C886.7 364.1 895 359.5 901 356.5C907 353.5 913.6 350.4 919.6 347.7C925.6 345 931 342.6 937 340.2C943 337.8 949.4 335.5 955.4 333.4C961.4 331.3 967 329.3 973 327.5C979 325.7 986.2 323.9 991.2 322.7C996.2 321.5 999 320.9 1003 320.2C1007 319.5 1010.2 319 1015 318.6C1019.8 318.2 1025.7 317.6 1031.7 317.9C1037.7 318.2 1045.6 319.3 1050.8 320.3C1056 321.3 1059 322.4 1063 323.8C1067 325.2 1070.6 326.7 1074.6 328.6C1078.6 330.6 1083 332.9 1087 335.5C1091 338.1 1093.4 339.5 1098.5 344.1C1103.6 348.7 1111.6 356.6 1117.6 363.2C1123.6 369.8 1128.5 376.9 1134.3 383.5C1140.1 390.1 1149.2 399.4 1152.2 402.6"/>
<path stroke="#ffffff" stroke-width="1.22" d="M991.6 330.5a3.1 3.1 0 1 0 6.2 0a3.1 3.1 0 1 0 -6.2 0"/>
<path stroke-width="1.35" fill="#ff00ff" d="M992.8 330.5a1.9 1.9 0 1 0 3.8 0a1.9 1.9 0 1 0 -3.8 0"/>
<path stroke="#ff00ff" stroke-width="0.945" d="M990.7 330.5L998.7 330.5M994.7 326.5L994.7 334.5"/>
<path stroke="#ffffff" stroke-width="1.22" d="M1009.5 342.2a3.1 3.1 0 1 0 6.2 0a3.1 3.1 0 1 0 -6.2 0"/>
<path stroke-width="1.35" fill="#ff00ff" d="M1010.7 342.2a1.9 1.9 0 1 0 3.8 0a1.9 1.9 0 1 0 -3.8 0"/>
<path stroke="#ff00ff" stroke-width="0.945" d="M1008.6 342.2L1016.6 342.2M1012.6 338.2L1012.6 346.2"/>
<path stroke="#ffffff" stroke-width="1.22" d="M1029.8 342.2a3.1 3.1 0 1 0 6.2 0a3.1 3.1 0 1 0 -6.2 0"/>
<path stroke-width="1.35" fill="#ff00ff" d="M1031 342.2a1.9 1.9 0 1 0 3.8 0a1.9 1.9 0 1 0 -3.8 0"/>
<path stroke="#ff00ff" stroke-width="0.945" d="M1028.9 342.2L1036.9 342.2M1032.9 338.2L1032.9 346.2"/>
<path stroke="#ffffff" stroke-width="1.22" d="M1047 339.4a3.1 3.1 0 1 0 6.2 0a3.1 3.1 0 1 0 -6.2 0"/>
<path stroke-width="1.35" fill="#ff00ff" d="M1048.2 339.4a1.9 1.9 0 1 0 3.8 0a1.9 1.9 0 1 0 -3.8 0"/>
<path stroke="#ff00ff" stroke-width="0.945" d="M1046.1 339.4L1054.1 339.4M1050.1 335.4L1050.1 343.4"/>
<path stroke="#ffffff" stroke-width="1.22" d="M1083.5 343.4a3.1 3.1 0 1 0 6.2 0a3.1 3.1 0 1 0 -6.2 0"/>
<path stroke-width="1.35" fill="#ff00ff" d="M1084.7 343.4a1.9 1.9 0 1 0 3.8 0a1.9 1.9 0 1 0 -3.8 0"/>
<path stroke="#ff00ff" stroke-width="0.945" d="M1082.6 343.4L1090.6 343.4M1086.6 339.4L1086.6 347.4"/>
<path stroke="#ffffff" stroke-width="1.22" d="M949.9 348.4a3.1 3.1 0 1 0 6.2 0a3.1 3.1 0 1 0 -6.2 0"/>
<path stroke-width="1.35" fill="#ff00ff" d="M951.1 348.4a1.9 1.9 0 1 0 3.8 0a1.9 1.9 0 1 0 -3.8 0"/>
<path stroke="#ff00ff" stroke-width="0.945" d="M949 348.4L957 348.4M953 344.4L953 352.4"/>
<path stroke="#ffffff" stroke-width="1.22" d="M976.9 350.1a3.1 3.1 0 1 0 6.2 0a3.1 3.1 0 1 0 -6.2 0"/>
<path stroke-width="1.35" fill="#ff00ff" d="M978.1 350.1a1.9 1.9 0 1 0 3.8 0a1.9 1.9 0 1 0 -3.8 0"/>
<path stroke="#ff00ff" stroke-width="0.945" d="M976 350.1L984 350.1M980 346.1L980 354.1"/>
<path stroke="#ffffff" stroke-width="1.22" d="M925.6 356.5a3.1 3.1 0 1 0 6.2 0a3.1 3.1 0 1 0 -6.2 0"/>
<path stroke-width="1.35" fill="#ff00ff" d="M926.8 356.5a1.9 1.9 0 1 0 3.8 0a1.9 1.9 0 1 0 -3.8 0"/>
<path stroke="#ff00ff" stroke-width="0.945" d="M924.7 356.5L932.7 356.5M928.7 352.5L928.7 360.5"/>
<path stroke="#ffffff" stroke-width="1.22" d="M958 358.9a3.1 3.1 0 1 0 6.2 0a3.1 3.1 0 1 0 -6.2 0"/>
<path stroke-width="1.35" fill="#ff00ff" d="M959.2 358.9a1.9 1.9 0 1 0 3.8 0a1.9 1.9 0 1 0 -3.8 0"/>
<path stroke="#ff00ff" stroke-width="0.945" d="M957.1 358.9L965.1 358.9M961.1 354.9L961.1 362.9"/>
<path stroke="#ffffff" stroke-width="1.22" d="M905.8 362.5a3.1 3.1 0 1 0 6.2 0a3.1 3.1 0 1 0 -6.2 0"/>
<path stroke-width="1.35" fill="#ff00ff" d="M907 362.5a1.9 1.9 0 1 0 3.8 0a1.9 1.9 0 1 0 -3.8 0"/>
<path stroke="#ff00ff" stroke-width="0.945" d="M904.9 362.5L912.9 362.5M908.9 358.5L908.9 366.5"/>
<path stroke="#ffffff" stroke-width="1.22" d="M1054.4 355.3a3.1 3.1 0 1 0 6.2 0a3.1 3.1 0 1 0 -6.2 0"/>
<path stroke-width="1.35" fill="#ff00ff" d="M1055.6 355.3a1.9 1.9 0 1 0 3.8 0a1.9 1.9 0 1 0 -3.8 0"/>
<path stroke="#ff00ff" stroke-width="0.945" d="M1053.5 355.3L1061.5 355.3M1057.5 351.3L1057.5 359.3"/>
<path stroke="#ffffff" stroke-width="1.22" d="M1068.7 362.5a3.1 3.1 0 1 0 6.2 0a3.1 3.1 0 1 0 -6.2 0"/>
<path stroke-width="1.35" fill="#ff00ff" d="M1069.9 362.5a1.9 1.9 0 1 0 3.8 0a1.9 1.9 0 1 0 -3.8 0"/>
<path stroke="#ff00ff" stroke-width="0.945" d="M1067.8 362.5L1075.8 362.5M1071.8 358.5L1071.8 366.5"/>
<path stroke="#ffffff" stroke-width="1.22" d="M1097.3 355.3a3.1 3.1 0 1 0 6.2 0a3.1 3.1 0 1 0 -6.2 0"/>
<path stroke-width="1.35" fill="#ff00ff" d="M1098.5 355.3a1.9 1.9 0 1 0 3.8 0a1.9 1.9 0 1 0 -3.8 0"/>
<path stroke="#ff00ff" stroke-width="0.945" d="M1096.4 355.3L1104.4 355.3M1100.4 351.3L1100.4 359.3"/>
<path stroke="#ffffff" stroke-width="1.22" d="M1051.3 368.7a3.1 3.1 0 1 0 6.2 0a3.1 3.1 0 1 0 -6.2 0"/>
<path stroke-width="1.35" fill="#ff00ff" d="M1052.5 368.7a1.9 1.9 0 1 0 3.8 0a1.9 1.9 0 1 0 -3.8 0"/>
<path stroke="#ff00ff" stroke-width="0.945" d="M1050.4 368.7L1058.4 368.7M1054.4 364.7L1054.4 372.7"/>
<path stroke="#ffffff" stroke-width="1.22" d="M1028.1 378.7a3.1 3.1 0 1 0 6.2 0a3.1 3.1 0 1 0 -6.2 0"/>
<path stroke-width="1.35" fill="#ff00ff" d="M1029.3 378.7a1.9 1.9 0 1 0 3.8 0a1.9 1.9 0 1 0 -3.8 0"/>
<path stroke="#ff00ff" stroke-width="0.945" d="M1027.2 378.7L1035.2 378.7M1031.2 374.7L1031.2 382.7"/>
<path stroke="#ffffff" stroke-width="1.22" d="M962.6 379.9a3.1 3.1 0 1 0 6.2 0a3.1 3.1 0 1 0 -6.2 0"/>
<path stroke-width="1.35" fill="#ff00ff" d="M963.8 379.9a1.9 1.9 0 1 0 3.8 0a1.9 1.9 0 1 0 -3.8 0"/>
<path stroke="#ff00ff" stroke-width="0.945" d="M961.7 379.9L969.7 379.9M965.7 375.9L965.7 383.9"/>
<path stroke="#ff00ff" stroke-width="2.03" d="M1035.1 363.9L1042.7 363.9M1038.9 360.1L1038.9 367.7M1089.9 363.9L1097.5 363.9M1093.7 360.1L1093.7 367.7M1105.9 368L1113.5 368M1109.7 364.2L1109.7 371.8M1004.1 370.4L1011.7 370.4M1007.9 366.6L1007.9 374.2M1018.4 371.1L1026 371.1M1022.2 367.3L1022.2 374.9M928.9 388.2L936.5 388.2M932.7 384.4L932.7 392M1000.5 384.7L1008.1 384.7M1004.3 380.9L1004.3 388.5M1013.6 390.2L1021.2 390.2M1017.4 386.4L1017.4 394M1034.6 393L1042.2 393M1038.4 389.2L1038.4 396.8M1109 391.1L1116.6 391.1M1112.8 387.3L1112.8 394.9"/>
<path stroke="#ffffff" stroke-width="1.35" d="M907.7 371.5L938.2 369.9L938.2 378.7L907.7 383.9Z"/>
<path stroke="#ffffff" stroke-width="1.22" d="M907.7 376.9L938.2 373.5"/>
<path stroke="#ffffff" stroke-width="1.35" d="M951.8 369.2L973.3 366.1L973.3 373.5L951.8 376.8Z"/>
<path stroke="#ffffff" stroke-width="1.22" d="M951.8 372.2L973.3 369"/>
<path stroke="#ffffff" stroke-width="1.35" d="M988.8 362.5L1014.5 354.9L1014.5 361.5L988.8 369.6Z"/>
<path stroke="#ffffff" stroke-width="1.22" d="M988.8 365.3L1014.5 357.4"/>
<path stroke="#ffffff" stroke-width="1.35" d="M1021.7 352.9L1037.7 347.2L1037.7 352.9L1021.7 359.6Z"/>
<path stroke="#ffffff" stroke-width="1.22" d="M1021.7 355.5L1037.7 349.3"/>
<path stroke="#ffffff" stroke-width="1.35" d="M1053.7 341.7L1078.2 331.5L1080.6 336.3L1055.6 347.7Z"/>
<path stroke="#ffffff" stroke-width="1.22" d="M1054.6 343.9L1079.4 333.1"/>
<path stroke="#ffffff" stroke-width="1.35" d="M1079.4 385.9L1090.1 383.5L1090.1 390.2L1079.4 393.5Z"/>
<path stroke="#ffffff" stroke-width="1.22" d="M1079.4 388.9L1090.1 386"/>
<path stroke="#ffffff" stroke-width="1.35" d="M1092.5 383.5L1118.8 370.4L1120 376.3L1093.2 390.2Z"/>
<path stroke="#ffffff" stroke-width="1.22" d="M1092.9 386L1119.4 372.5"/>
<path stroke="#ffffff" stroke-width="1.35" d="M883.2 409.5L884.2 411L891 411L905 419.5L907.5 421.4M889.4 364L889.4 408.4M894.6 362L894.6 392L897 396L907.5 399.3M897.8 360.5L897.8 390.5L899.5 393"/>
<path stroke="#00ff00" stroke-width="1.62" d="M894.8 364.5L897.6 361.2M894.8 368.6L897.6 365.2M894.8 372.6L897.6 369.3M894.8 376.7L897.6 373.3M894.8 380.7L897.6 377.4M894.8 384.7L897.6 381.4M894.8 388.8L897.6 385.5M895.2 392.3L897.6 389.5M897.4 393.8L897.6 393.5"/>
<path stroke="#00ff00" stroke-width="2.03" d="M895.5 401L896.9 399.6M896.8 403.9L901.2 399.6M898.5 406.5L905.4 399.6M902.7 406.5L907.5 401.7M907 406.5L907.5 406M883.8 412.9L885.9 410.9M883.9 417L890 411M885.7 419.5L893 412.2M889.9 419.5L895.6 413.8M894.2 419.5L898.3 415.4M898.4 419.5L900.9 417M902.7 419.5L903.6 418.6"/>
<path stroke="#ffffff" stroke-width="1.35" d="M884 420.2L902 420.2M894.6 392L894.6 404L898.5 408L907.5 408"/>
<path stroke="#00ff00" stroke-width="1.76" d="M994.5 401.3L996.6 399.2M997.1 403L1000.9 399.2M1001.3 403L1005.1 399.2M1005.5 403L1009.3 399.2M1009.8 403L1013.6 399.2M1014 403L1017.8 399.2M1018.3 403L1022.1 399.2M1022.5 403L1026.3 399.2M1026.8 403L1030.6 399.2M1031 403L1033.5 400.5"/>
<path stroke="#ffffff" stroke-width="1.35" d="M994.5 399.2L1033.5 399.2M994.5 403L1033.5 403"/>
<path stroke="#00ff00" stroke-width="1.76" d="M1094 401.3L1096.1 399.2M1096.6 403L1100.4 399.2M1100.8 403L1104.6 399.2M1105 403L1108.8 399.2M1109.3 403L1113.1 399.2M1113.5 403L1117 399.5"/>
<path stroke="#ffffff" stroke-width="1.35" d="M1094 399.2L1117 399.2M1094 403L1117 403"/>
<path stroke="#00ff00" stroke-width="1.76" d="M1122 401.3L1124.1 399.2M1124.6 403L1128.4 399.2M1128.8 403L1132.6 399.2M1133 403L1136.8 399.2M1137.3 403L1141 399.3"/>
<path stroke="#ffffff" stroke-width="1.35" d="M1122 399.2L1141 399.2M1122 403L1141 403"/>
<path stroke="#00ff00" stroke-width="1.76" d="M1146.5 401.3L1148.6 399.2M1149.1 403L1152.5 399.6"/>
<path stroke="#ffffff" stroke-width="1.35" d="M1146.5 399.2L1152.5 399.2M1146.5 403L1152.5 403M908.2 397.4L933.5 397.4L933.5 446L908.2 446ZM933.5 394.2L988.5 394.2L988.5 447.3L933.5 447.3Z"/>
<path stroke="#ffffff" stroke-width="1.22" d="M935 396L987 396M935 445.5L987 445.5"/>
<path stroke="#ffffff" stroke-width="1.35" d="M988.5 397.4L994.3 397.4L994.3 445.3L988.5 445.3ZM953.5 405.8L968.4 405.8L968.4 431.7L953.5 431.7ZM907 425L907 434.5M956.6 388.3a4.4 4.4 0 1 0 8.8 0a4.4 4.4 0 1 0 -8.8 0"/>
<path stroke="#ffffff" stroke-width="1.22" d="M958.2 388.3a2.8 2.8 0 1 0 5.6 0a2.8 2.8 0 1 0 -5.6 0"/>
<path stroke="#ff0000" stroke-width="1.76" d="M954.5 389.3L967.5 389.3"/>
<path stroke="#ffffff" stroke-width="1.35" d="M956 393.6L966 393.6"/>
<path stroke="#ff0000" stroke-width="1.49" d="M878.6 421.3L934.7 421.3M941.2 421.3L953.1 421.3M958.5 421.3L1083.6 421.3M1092.3 421.3L1137.6 421.3M1144 421.3L1157 421.3M1163.5 421.3L1190.5 421.3"/>
<path stroke="#ff0000" stroke-width="1.49" stroke-dasharray="42 4 8 4" d="M961 380.6L961 481.5"/>
<path stroke="#ffffff" stroke-width="1.35" d="M994.3 413.2L997.3 413.2L997.3 429.8L994.3 429.8ZM997.3 416L1002.1 416L1002.1 427L997.3 427ZM1001.9 414.7L1010.4 414.7L1010.4 428.9L1001.9 428.9ZM1010.4 409.5L1016.2 409.5L1016.2 432.8L1010.4 432.8ZM1016.4 409.5L1022.3 409.5L1022.3 432.8L1016.4 432.8ZM1022.7 414.7L1027.8 414.7L1027.8 428.9L1022.7 428.9Z"/>
<path stroke="#ff0000" stroke-width="1.49" d="M1013 412.1L1021.4 412.1"/>
<path stroke="#ff0000" stroke-width="1.76" d="M1013 430.6L1021.4 430.6"/>
<path stroke="#ffffff" stroke-width="1.22" d="M1009.7 411.2a1.3 1.3 0 1 0 2.6 0a1.3 1.3 0 1 0 -2.6 0M1009.7 431.5a1.3 1.3 0 1 0 2.6 0a1.3 1.3 0 1 0 -2.6 0M1020.1 411.2a1.3 1.3 0 1 0 2.6 0a1.3 1.3 0 1 0 -2.6 0M1020.1 431.5a1.3 1.3 0 1 0 2.6 0a1.3 1.3 0 1 0 -2.6 0"/>
<path stroke="#ffffff" stroke-width="1.35" d="M1027.8 418.2L1034.3 418.2L1034.3 424.9L1027.8 424.9ZM1097.1 414.7L1105.5 414.7L1105.5 428.9L1097.1 428.9ZM1105.5 409.5L1111.4 409.5L1111.4 432.8L1105.5 432.8ZM1111.6 409.5L1117.5 409.5L1117.5 432.8L1111.6 432.8ZM1117.8 414.7L1123 414.7L1123 428.9L1117.8 428.9Z"/>
<path stroke="#ff0000" stroke-width="1.49" d="M1108.1 412.1L1116.6 412.1"/>
<path stroke="#ff0000" stroke-width="1.76" d="M1108.1 430.6L1116.6 430.6"/>
<path stroke="#ffffff" stroke-width="1.22" d="M1104.9 411.2a1.3 1.3 0 1 0 2.6 0a1.3 1.3 0 1 0 -2.6 0M1104.9 431.5a1.3 1.3 0 1 0 2.6 0a1.3 1.3 0 1 0 -2.6 0M1115.3 411.2a1.3 1.3 0 1 0 2.6 0a1.3 1.3 0 1 0 -2.6 0M1115.3 431.5a1.3 1.3 0 1 0 2.6 0a1.3 1.3 0 1 0 -2.6 0"/>
<path stroke="#ffffff" stroke-width="1.35" d="M1093.5 418.2L1097.1 418.2L1097.1 424.9L1093.5 424.9ZM1123 418.2L1127.6 418.2L1127.6 424.9L1123 424.9Z"/>
<path stroke="#ffffff" stroke-width="1.49" d="M1050.5 469.7L1050.5 384.9L1053.1 382.3L1075.1 382.3L1077.7 384.9L1077.7 469.7"/>
<path stroke="#ffffff" stroke-width="1.35" d="M1038.9 468.4L1038.9 439.9L1034.3 437.3L1034.3 403.9L1037.6 401.1L1050.5 401.1M1077.7 401.1L1089.4 401.1L1093.2 403.9L1093.2 437.3L1089.4 439.9L1089.4 469.7M1077.7 438.6L1089.4 438.6M1038.9 439.9L1050.5 439.9M1038.9 403.9L1038.9 437.3M1089.4 403.9L1089.4 437.3M1077.7 465.2L1089.4 465.2M1050.5 469.7L1075.1 469.1L1076.4 471"/>
<path stroke="#ffffff" stroke-width="1.22" d="M1038.9 403.9L1050.5 403.9L1050.5 407.6L1038.9 407.6ZM1077.7 403.9L1089.4 403.9L1089.4 407.6L1077.7 407.6ZM1077.7 434.1L1089.4 434.1L1089.4 437.7L1077.7 437.7ZM1031.1 405.6L1034.3 405.6L1034.3 412.1L1031.1 412.1ZM1093.2 405.6L1096.5 405.6L1096.5 412.1L1093.2 412.1ZM1031.1 428.9L1034.3 428.9L1034.3 435.4L1031.1 435.4ZM1093.2 428.9L1096.5 428.9L1096.5 435.4L1093.2 435.4Z"/>
<path stroke="#ffffff" stroke-width="1.35" d="M1053.7 395.9L1053.7 389.4L1057 383L1060.9 381L1066.7 381L1070.6 383L1074.5 389.4L1074.5 395.9ZM1055.7 389.4L1072.5 389.4L1072.5 394L1055.7 394ZM1058.9 382.3L1063.5 387.5L1068.6 382.3"/>
<path stroke="#ffffff" stroke-width="1.35" fill="#ddd" d="M1061.9 386.2a1.8 1.8 0 1 0 3.6 0a1.8 1.8 0 1 0 -3.6 0"/>
<path stroke="#ffffff" stroke-width="1.35" d="M1038.9 418.6L1089.4 418.6M1038.9 424.4L1089.4 424.4M1061.9 400.4L1061.9 417.9M1065.4 400.4L1065.4 417.9"/>
<path stroke-width="1.35" fill="#00c000" d="M1055.7 418.6L1058.9 416.6L1058.9 425.7L1055.7 424.4ZM1067.3 418.6L1071.9 418.6L1071.9 423.1L1067.3 424.4Z"/>
<path stroke="#ff0000" stroke-width="1.62" d="M1058.3 416L1058.3 426.3M1069.3 411.4L1069.3 421.8"/>
<path stroke="#ffffff" stroke-width="1.35" fill="#fff" d="M1062.1 429.6a1.6 1.6 0 1 0 3.2 0a1.6 1.6 0 1 0 -3.2 0"/>
<path stroke="#ff0000" stroke-width="1.49" d="M1044.7 399.1L1044.7 424.4"/>
<path stroke-width="1.35" fill="#00c000" d="M1035 427L1042.7 427L1048.6 431.5L1046.6 436.7L1038.9 439.9L1035 439.9Z"/>
<path stroke="#ffffff" stroke-width="1.35" fill="#000" d="M1031.7 430.2L1046.6 430.2L1046.6 434.1L1031.7 434.1Z"/>
<path stroke="#ffffff" stroke-width="1.35" d="M1038.2 427L1038.2 439.9"/>
<path stroke-width="1.35" fill="#00c000" d="M1045.3 396.5L1049.9 395.3L1049.9 401.1L1045.3 401.1Z"/>
<path stroke="#ff0000" stroke-width="1.49" stroke-dasharray="34 4 8 4" d="M1063.7 371.9L1063.7 485.9"/>
<path stroke="#ffffff" stroke-width="1.49" d="M1131.4 403.7L1155.4 403.7L1155.4 439.3L1131.4 439.3Z"/>
<path stroke="#ffffff" stroke-width="1.35" d="M1138.6 403.7L1138.6 439.3M1148.3 403.7L1148.3 439.3M1131.4 439.3L1131.4 469.7M1155.4 439.3L1155.4 468.4M1131.4 407.6L1128.2 412.7L1127.6 424.4L1129.5 432.2L1131.4 433.5"/>
<path stroke="#ffffff" stroke-width="1.22" stroke-dasharray="2 1.5" d="M1130.1 410.1L1130.1 432.8"/>
<path stroke="#ffffff" stroke-width="1.22" d="M1130.8 434.8L1128.9 447.7"/>
<path stroke="#00ff00" stroke-width="1.35" fill="#00c000" d="M1128.2 448.3L1132.1 448.3L1132.1 452.2L1128.2 452.2Z"/>
<path stroke="#ffffff" stroke-width="1.35" d="M1155.4 419.2L1158.6 419.2L1158.6 424.4L1155.4 424.4Z"/>
<path stroke="#ff0000" stroke-width="0.81" d="M1159.1 382.3L1158.5 408.9L1159.1 433.5M1161.7 382.3L1162.4 408.9L1161.7 433.5"/>
<path stroke="#ff0000" stroke-width="2.03" stroke-dasharray="17 2.5 6 2.5 40" d="M1160.4 382.3L1160.4 433.5"/>
<path stroke="#ff0000" stroke-width="1.49" d="M1157.8 382.3L1163.7 382.3M1157.8 433.5L1163.7 433.5"/>
<path stroke="#ffffff" stroke-width="1.22" d="M1158.8 434.8L1162.1 434.8"/>
<path stroke="#ffffff" stroke-width="1.35" d="M1164.3 392L1179.2 392M1164.3 415.3L1179.2 415.3M1164.3 433.5L1165.2 434.4L1178.3 434.4L1179.2 433.5"/>
<path stroke="#ffffff" stroke-width="1.62" d="M1179.2 397.2L1206.4 397.2M1179.2 410.2L1206.4 410.2"/>
<path stroke="#ffffff" stroke-width="1.35" d="M1179.2 421.2L1181.6 419.2L1190.9 419.9"/>
<path stroke="#ff0000" stroke-width="1.89" stroke-dasharray="22 5 4 5" d="M1164.3 403.9L1223.3 403.9"/>
<path stroke="#ff0000" stroke-width="1.62" d="M1228.4 403.9L1242.7 403.9"/>
<path stroke="#00ff00" stroke-width="1.49" fill="#00c000" d="M1207.7 394L1209.7 390.1L1222.6 390.1L1225.2 394L1225.9 414L1223.3 414.7L1220.7 417.3L1216.1 421.2L1212.3 417.9L1207.7 414Z"/>
<path stroke="#ffffff" stroke-width="1.35" fill="#000" d="M1206.4 397.8L1223.9 397.8L1223.9 409.5L1206.4 409.5Z"/>
<path stroke="#ffffff" stroke-width="1.35" fill="#ccc" d="M1223.9 399.1L1226.5 400.4L1226.5 406.9L1223.9 408.2Z"/>
<path stroke="#ffffff" stroke-width="1.35" d="M1228.4 401.1L1228.4 406.9"/>
<path stroke="#ffffff" stroke-width="1.22" fill="#ddd" d="M1211.4 395.9a1.5 1.5 0 1 0 3 0a1.5 1.5 0 1 0 -3 0M1216.6 396.6a1.5 1.5 0 1 0 3 0a1.5 1.5 0 1 0 -3 0M1211.4 411.2a1.5 1.5 0 1 0 3 0a1.5 1.5 0 1 0 -3 0M1216.6 411.2a1.5 1.5 0 1 0 3 0a1.5 1.5 0 1 0 -3 0M1207.5 392.7a1.5 1.5 0 1 0 3 0a1.5 1.5 0 1 0 -3 0M1221.1 393.1a1.5 1.5 0 1 0 3 0a1.5 1.5 0 1 0 -3 0"/>
<path stroke="#ff0000" stroke-width="2.16" d="M1207.7 403.9L1223.3 403.9"/>
<path stroke="#ffffff" stroke-width="1.35" d="M1208.4 416.6L1204.5 447.7L1204.5 452.9L1223.3 452.9L1223.3 447.7L1219.4 417.9M1212.3 419.9L1212.3 447.7M1216.1 421.2L1216.1 447.7"/>
<path stroke="#00ff00" stroke-width="1.35" fill="#00c000" d="M1205.1 448L1223 448L1223 451.9L1205.1 451.9Z"/>
<path stroke="#ffffff" stroke-width="1.62" d="M1211.6 447.7L1214.2 443.2L1216.8 447.7"/>
<path stroke="#0000ff" stroke-width="1.35" fill="#0000ff" d="M1213.5 451.6L1215 451.6L1215 453.6L1213.5 453.6Z"/>
<path stroke="#00ff00" stroke-width="1.76" d="M926 455.9L928.3 453.6M926.8 459.8L933 453.6M931.5 459.8L933.8 457.5"/>
<path stroke="#ffffff" stroke-width="1.35" d="M926 453.6L933.8 453.6M926 459.8L933.8 459.8"/>
<path stroke="#00ff00" stroke-width="1.76" d="M991.5 455.9L993.8 453.6M992.3 459.8L998.5 453.6M997 459.8L1003.2 453.6M1001.6 459.8L1007.8 453.6M1006.3 459.8L1012.5 453.6M1011 459.8L1017.2 453.6M1015.6 459.8L1021.8 453.6M1020.3 459.8L1026.5 453.6M1025 459.8L1031.2 453.6M1029.6 459.8L1035.8 453.6M1034.3 459.8L1038.6 455.5"/>
<path stroke="#ffffff" stroke-width="1.35" d="M991.5 453.6L1038.6 453.6M991.5 459.8L1038.6 459.8"/>
<path stroke="#00ff00" stroke-width="1.76" d="M1089.6 455.9L1091.9 453.6M1090.4 459.8L1096.6 453.6M1095.1 459.8L1101.3 453.6M1099.7 459.8L1105.9 453.6M1104.4 459.8L1110.6 453.6M1109.1 459.8L1115.3 453.6M1113.7 459.8L1119.9 453.6M1118.4 459.8L1124.6 453.6M1123.1 459.8L1129.3 453.6M1127.7 459.8L1130.6 456.9"/>
<path stroke="#ffffff" stroke-width="1.35" d="M1089.6 453.6L1130.6 453.6M1089.6 459.8L1130.6 459.8"/>
<path stroke="#00ff00" stroke-width="1.76" d="M1156.2 455.9L1158.5 453.6M1157 459.8L1163.2 453.6M1161.7 459.8L1167.9 453.6M1166.3 459.8L1172.5 453.6M1171 459.8L1177.2 453.6M1175.7 459.8L1181.9 453.6M1180.3 459.8L1186.5 453.6M1185 459.8L1191.2 453.6M1189.7 459.8L1195.9 453.6M1194.3 459.8L1200.5 453.6M1199 459.8L1205.2 453.6M1203.7 459.8L1209.9 453.6M1208.3 459.8L1214.5 453.6M1213 459.8L1219.2 453.6M1217.7 459.8L1223.9 453.6M1222.3 459.8L1227.5 454.6M1227 459.8L1227.5 459.3"/>
<path stroke="#ffffff" stroke-width="1.35" d="M1156.2 453.6L1227.5 453.6M1156.2 459.8L1227.5 459.8"/>
<path stroke="#00ff00" stroke-width="1.76" d="M1150.3 471L1152.5 473.2M1145.9 471L1151.1 476.2M1141.5 471L1146.7 476.2M1137.2 471L1142.4 476.2M1132.8 471L1138 476.2M1128.4 471L1133.6 476.2M1124 471L1129.2 476.2M1119.6 471L1124.8 476.2M1115.2 471L1120.4 476.2M1110.9 471L1116.1 476.2M1106.5 471L1111.7 476.2M1102.1 471L1107.3 476.2M1097.7 471L1102.9 476.2M1093.3 471L1098.5 476.2M1088.9 471L1094.1 476.2M1084.5 471L1089.7 476.2M1080.2 471L1085.4 476.2M1075.8 471L1081 476.2M1071.4 471L1076.6 476.2M1067 471L1072.2 476.2M1062.6 471L1067.8 476.2M1058.2 471L1063.4 476.2M1053.9 471L1059.1 476.2M1049.5 471L1054.7 476.2M1045.1 471L1050.3 476.2M1040.7 471L1045.9 476.2M1036.3 471L1041.5 476.2M1031.9 471L1037.1 476.2M1027.6 471L1032.8 476.2M1023.2 471L1028.4 476.2M1018.8 471L1024 476.2M1014.4 471L1019.6 476.2M1010 471L1015.2 476.2M1005.6 471L1010.8 476.2M1001.2 471L1006.4 476.2M996.9 471L1002.1 476.2M992.5 471L997.7 476.2M988.1 471L993.3 476.2M983.7 471L988.9 476.2M979.3 471L984.5 476.2M974.9 471L980.1 476.2M970.6 471L975.8 476.2M966.2 471L971.4 476.2M961.8 471L967 476.2M957.4 471L962.6 476.2M953 471L958.2 476.2M948.6 471L953.8 476.2M944.3 471L949.5 476.2M939.9 471L945.1 476.2M935.5 471L940.7 476.2M931.1 471L936.3 476.2M929.5 473.8L931.9 476.2"/>
<path stroke="#ffffff" stroke-width="1.35" d="M929.5 471L1152.5 471M929.5 476.2L1152.5 476.2"/>
<path stroke="#00ff00" stroke-width="2.03" d="M922.1 459.5L927.9 453.6M921.1 465.1L932.6 453.6M920.2 470.7L925.6 465.3M930.7 460.2L934.2 456.7M919.2 476.4L924.7 470.8M918.2 482L923.9 476.4M917.2 487.6L923 481.9M916.3 493.3L922.1 487.4M913.6 500.6L921.2 493M917.4 501.5L920.4 498.5"/>
<path stroke="#ffffff" stroke-width="1.35" d="M904 501.5L904.9 498.9L907.2 497.4L915.2 497.4L922.5 457.2L923.3 454.9L925.6 453.4L934.9 453.4M933.4 460.3L928.2 460.3L926.3 462.1L919.9 501.5"/>
<path stroke="#00ff00" stroke-width="2.03" d="M931.8 471.1L933.9 473.2M927.6 471.4L932.4 476.1M925.6 473.7L929.5 477.6M924.9 477.4L928.1 480.6M924.1 481L927.4 484.3M923.4 484.6L926.7 488M922.6 488.3L926 491.6M921.9 491.9L925.3 495.3M921.1 495.5L924.5 499M920.4 499.2L922.7 501.5"/>
<path stroke="#ffffff" stroke-width="1.08" d="M926.3 471.5L923.5 488L919.9 501.5"/>
<path stroke="#ffffff" stroke-width="1.35" d="M924 501.5L928.5 478.7L930.8 476.2L933.9 476.2M906.7 496.3A3.6 3.6 0 0 1 913.9 496.3"/>
<path stroke="#ffffff" stroke-width="1.76" d="M905.9 496.3L914.7 496.3"/>
<path stroke="#00ff00" stroke-width="1.76" d="M905.6 501.5L909.3 497.9M909.9 501.5L913.5 497.9"/>
<path stroke="#00ff00" stroke-width="1.49" d="M936 449.2L983.6 449.2L991.4 469.9L931.3 469.9ZM939.1 450.4L982.1 450.4L988.3 468.3L933.9 468.3Z"/>
<path stroke="#ffffff" stroke-width="1.35" d="M937.5 449.8L982.8 449.8L989.8 469.2L932.6 469.2Z"/>
<path stroke="#ffffff" stroke-width="1.08" d="M934.9 447.2L986.7 447.2M934.9 448.7L986.7 448.7"/>
<path stroke="#00ff00" stroke-width="1.35" fill="#00c000" d="M946.3 468.1L952.8 468.1L952.8 470.7L946.3 470.7ZM970.2 468.5L976.7 468.5L976.7 470.3L970.2 470.3Z"/>
<path stroke="#ffffff" stroke-width="2.03" d="M952.5 469L969.1 469"/>
<path stroke="#ffffff" stroke-width="1.22" d="M951.5 449.7L971.2 449.7"/>
<path stroke="#ff0000" stroke-width="1.49" d="M945.3 462.1L945.3 481.8M976.9 462.1L976.9 481.8"/>
<path stroke="#ffffff" stroke-width="1.35" fill="#ddd" d="M943.4 466.3L947.2 466.3L946.3 470.9L947.2 477.2L945.3 479.2L943.4 477.2L944.2 470.9ZM942.2 444.5L944.8 444.5L945.3 450.7L943.4 453.3L941.7 450.7Z"/>
<path stroke="#ff0000" stroke-width="1.35" d="M945.3 466.3L945.3 479.2"/>
<path stroke-width="1.35" fill="#00c000" d="M1038.9 465.2L1050.5 465.2L1051.2 469.7L1049.2 471.7L1038.9 471.7L1037.6 468.4Z"/>
<path stroke="#ffffff" stroke-width="1.22" d="M1038.9 465.2L1050.5 465.2L1051.2 469.7L1049.2 471.7L1038.9 471.7L1037.6 468.4Z"/>
<path stroke="#ffffff" stroke-width="1.35" fill="#ddd" d="M1042.1 459.4L1046 459.4L1046.6 463.2L1046 477.5L1044 479.4L1042.1 477.5L1041.4 463.2Z"/>
<path stroke="#ff0000" stroke-width="1.49" d="M1044 455.5L1044 484"/>
<path stroke="#ffffff" stroke-width="1.22" d="M1049.3 463.5a1.2 1.2 0 1 0 2.4 0a1.2 1.2 0 1 0 -2.4 0M1077.1 463.5a1.2 1.2 0 1 0 2.4 0a1.2 1.2 0 1 0 -2.4 0"/>
<path stroke="#ff0000" stroke-width="1.49" d="M1083.5 458.1L1083.5 478.8"/>
<path stroke="#ffffff" stroke-width="1.35" fill="#ddd" d="M1134.9 466.5L1138.6 466.5L1137.9 472.3L1138.6 477.5L1136.6 480.1L1134.9 477.5L1135.6 472.3Z"/>
<path stroke="#ff0000" stroke-width="1.49" d="M1136.6 461.9L1136.6 482M1150.6 461.9L1150.6 482"/>
<path stroke="#00ff00" stroke-width="1.62" d="M1139.2 470.9L1141.1 469.1M1142.1 471.7L1144.7 469.1M1145.8 471.7L1148.4 469.1M1149.5 471.7L1152.1 469.1M1153.2 471.7L1155.4 469.4"/>
<path stroke="#ffffff" stroke-width="1.35" d="M1132.1 469.5L1155.4 469.5"/>
<path stroke="#00ff00" stroke-width="2.16" d="M1155.9 456.1L1158.2 453.8M1157.1 459.4L1162.7 453.8M1161.7 459.4L1167.2 453.8M1166.2 459.4L1171.7 453.8M1170.7 459.4L1176.3 453.8M1175.2 459.4L1180.8 453.8M1179.8 459.4L1185.3 453.8M1184.3 459.4L1189.8 453.8M1188.8 459.4L1194.4 453.8M1193.3 459.4L1198.9 453.8M1197.9 459.4L1203.4 453.8M1202.4 459.4L1207.9 453.8M1206.9 459.4L1212.5 453.8M1211.4 459.4L1217 453.8M1216 459.4L1221.5 453.8M1220.5 459.4L1226.1 453.8M1225 459.4L1229 455.4M1229.5 459.4L1230.2 458.7M1223.1 461.1L1224.9 459.4M1224.2 464.6L1229.4 459.4M1225.3 468L1231.2 462.1M1226.3 471.5L1232.2 465.6M1227.4 475L1233.2 469.1M1228.5 478.4L1234.3 472.6M1229.5 481.9L1235.3 476.1M1230.6 485.3L1236.3 479.6M1231.7 488.8L1237.3 483.1M1232.7 492.3L1238.4 486.6M1233.8 495.7L1239.4 490.1M1234.9 499.2L1240.4 493.6M1237.1 501.5L1241.4 497.1M1241.6 501.5L1242.4 500.6M1228.8 484.6L1232.2 488M1224.2 484.6L1230.4 490.8M1219.6 484.5L1224.9 489.8M1215.1 484.5L1220.4 489.8M1210.5 484.5L1215.9 489.8M1205.9 484.4L1211.3 489.8M1201.4 484.4L1206.8 489.8M1196.8 484.3L1202.3 489.8M1192.2 484.3L1197.8 489.8M1187.7 484.3L1193.2 489.8M1183.1 484.2L1188.7 489.8M1178.5 484.2L1184.2 489.8M1174 484.1L1179.6 489.8M1169.4 484.1L1175.1 489.8M1164.9 484.1L1170.6 489.8M1160.3 484L1166.1 489.8M1155.7 484L1161.5 489.8M1154.2 487L1157 489.8M1153.1 490.4L1155.4 492.7M1152 493.8L1154.8 496.6M1150.8 497.2L1154.1 500.5M1149.7 500.6L1150.6 501.5M1154.3 471.7L1159.7 477.1M1149.8 471.7L1154.3 476.2M1155.3 477.3L1158.9 480.8M1145.2 471.7L1149.8 476.2M1155.8 482.2L1156.7 483.1M1140.7 471.7L1145.2 476.2M1136.2 471.7L1140.7 476.2M1131.7 471.7L1136.2 476.2M1130 474.5L1131.7 476.2"/>
<path stroke="#ffffff" stroke-width="1.49" d="M1155.9 453.5L1228.4 453.5L1240.1 490.5L1242.7 501.5M1155.9 459.4L1222.6 459.4L1232.3 489.8L1235.6 501.5"/>
<path stroke="#ffffff" stroke-width="1.35" d="M1183.1 459.4L1183.1 484.6M1179.9 459.4L1179.9 484.6"/>
<path stroke="#00ff00" stroke-width="1.89" d="M1180.1 462.9L1182.4 460.7M1180.1 467.5L1182.8 464.7M1180.1 472L1182.8 469.3M1180.1 476.5L1182.8 473.8M1180.1 481L1182.8 478.3M1181.7 484L1182.8 482.8"/>
<path stroke="#ffffff" stroke-width="1.49" d="M1159.8 484.6L1231 484.6M1154 501.5L1155.9 496.3L1158.5 493.7L1228.4 493.7L1231.7 496.3L1233.6 501.5M1130 471.7L1156.6 471.7L1159.8 474.9L1159.5 480.1L1155.3 484.6L1149.4 501.5M1130 476.5L1154.6 476.5"/>
<path stroke="#ffffff" stroke-width="1.22" d="M1179.9 460a1.3 1.3 0 1 0 2.6 0a1.3 1.3 0 1 0 -2.6 0M1182.8 460a1.3 1.3 0 1 0 2.6 0a1.3 1.3 0 1 0 -2.6 0"/>
<path stroke="#00ff00" stroke-width="1.89" d="M1241.4 497.8L1244.4 494.8M1242.3 501.1L1247.8 495.6M1246.6 501.1L1250.7 496.9M1250.8 501.1L1251.9 499.9"/>
<path stroke="#ffffff" stroke-width="1.35" d="M1242.1 495A3.6 3.6 0 0 1 1249.3 495"/>
<path stroke="#ffffff" stroke-width="1.76" d="M1240.1 495.4L1251.8 496.3L1252.4 499.5"/>
<path stroke="#ffffff" stroke-width="1.89" d="M904 501.7L1252.3 501.7"/>
<path stroke="#ff0000" stroke-width="1.49" d="M910.3 486L910.3 538.8"/>
<path stroke="#ffffff" stroke-width="1.35" d="M907.3 501.7L907.3 532M913.3 501.7L913.3 532M913.3 531.5A3 3 0 0 1 907.3 531.5M901.3 524.3L907.3 524.3L907.3 529L901.3 529ZM913.3 524.3L919.3 524.3L919.3 529L913.3 529Z"/>
<path stroke="#ff0000" stroke-width="1.49" d="M1245.7 486L1245.7 538.8"/>
<path stroke="#ffffff" stroke-width="1.35" d="M1242.7 501.7L1242.7 532M1248.7 501.7L1248.7 532M1248.7 531.5A3 3 0 0 1 1242.7 531.5M1236.7 524.3L1242.7 524.3L1242.7 529L1236.7 529ZM1248.7 524.3L1254.7 524.3L1254.7 529L1248.7 529Z"/>
<path stroke="#0000ff" stroke-width="1.62" d="M904 501.7L904 520.7L1252.4 520.7L1252.4 501.7"/>
<text transform="translate(1078.4 517) scale(0.78 1)" text-anchor="middle" font-size="9.8" fill="#0000ff">1700</text>
<path stroke="#ffffff" stroke-width="1.35" d="M346.6 875L346.6 663.5L349.4 660.7L387.7 660.7M633.5 660.7L679.9 660.7L682.7 663.5L682.7 875.4M346.6 875L346.6 1005.6L349.4 1008.5L679.9 1008.5L682.7 1005.6L682.7 951.5M346.6 984.6L682.7 984.6M346.6 988.3L682.7 988.3M387.7 670.7L387.7 646.7L633.5 646.7L633.5 670.7M373.6 670.7L647.7 670.7L647.7 684.9L373.6 684.9Z"/>
<path stroke-width="1.35" fill="#ffffff" d="M387.7 670.7L387.7 665.5L382.2 670.7ZM387.7 684.9L387.7 690L382.2 684.9ZM633.5 670.7L633.5 665.5L639 670.7ZM633.5 684.9L633.5 690L639 684.9Z"/>
<path stroke="#ffffff" stroke-width="1.35" d="M388.3 684.9L388.3 760M633.3 684.9L633.3 860.5"/>
<path stroke-width="1.35" fill="#90e890" d="M387.7 760L390.5 760L390.5 951.5L387.7 951.5Z"/>
<path stroke="#ffffff" stroke-width="1.08" d="M387.7 760L387.7 951.5"/>
<path stroke="#00ff00" stroke-width="1.22" d="M632.3 860.5L632.3 951.9"/>
<path stroke="#ffffff" stroke-width="1.22" d="M633.6 860.5L633.6 951.9"/>
<path stroke="#ffffff" stroke-width="1.62" d="M387.7 951.5L634 951.5"/>
<path stroke="#60d060" stroke-width="1.08" d="M391 953L420.8 953M600.1 953L632 953"/>
<path stroke="#ffffff" stroke-width="1.35" d="M445 954.3L576 954.3M445 958.4L576 958.4"/>
<path stroke-width="1.35" fill="#90e890" d="M420.8 953.2L444.3 953.2L444.3 956.4L420.8 956.4Z"/>
<path stroke-width="1.35" fill="#30c030" d="M437 955L444.3 955L444.3 958.4L437 958.4Z"/>
<path stroke-width="1.35" fill="#90e890" d="M576.6 953.2L600.1 953.2L600.1 956.4L576.6 956.4Z"/>
<path stroke-width="1.35" fill="#30c030" d="M576.6 955L583.9 955L583.9 958.4L576.6 958.4Z"/>
<path stroke="#ff0000" stroke-width="1.49" d="M425.9 947L425.9 959M595.5 946L595.5 959"/>
<path stroke-width="1.35" fill="#ffffff" d="M388.5 951L388.5 946L394 951ZM633 951L633 945.5L627 951Z"/>
<path stroke="#90e890" stroke-width="1.35" fill="#00c000" d="M373.8 929.1L387.7 929.1L387.7 942.5L373.8 942.5ZM634.3 929.1L647.7 929.1L647.7 942.2L634.3 942.2Z"/>
<path stroke-width="1.35" fill="#ffffff" d="M387.7 929L384 929L387.7 924.5ZM387.7 942.5L384 942.5L387.7 947ZM634 929L637.5 929L634 924.5ZM634 942.3L637.5 942.3L634 947Z"/>
<path stroke="#ff0000" stroke-width="1.49" d="M510.9 625.2L510.9 678.7"/>
<path stroke="#ff0000" stroke-width="1.49" stroke-dasharray="11.9 6.4 47.7 6.2" d="M510.9 684.6L510.9 1044.7"/>
<path stroke="#ff0000" stroke-width="1.76" d="M349 903.1L665 903.1"/>
<path stroke="#ff0000" stroke-width="1.49" d="M391.8 693.2L391.8 750.5M629.6 693.2L629.6 753.7M391.8 875L391.8 993.6M629.7 865.3L629.7 928.7"/>
<path stroke="#ffffff" stroke-width="1.35" d="M364.3 684.6a3 3 0 1 0 6 0a3 3 0 1 0 -6 0"/>
<path stroke="#ff0000" stroke-width="1.35" d="M360.3 684.6L374.3 684.6M367.3 677.6L367.3 691.6"/>
<path stroke="#ffffff" stroke-width="1.35" d="M651.3 679a3 3 0 1 0 6 0a3 3 0 1 0 -6 0"/>
<path stroke="#ff0000" stroke-width="1.35" d="M646.8 679L661.8 679M654.3 671.5L654.3 686.5"/>
<path stroke="#ffffff" stroke-width="1.35" d="M396.5 1002.2a3.2 3.2 0 1 0 6.4 0a3.2 3.2 0 1 0 -6.4 0"/>
<path stroke="#ff0000" stroke-width="1.35" d="M392.7 1002.2L406.7 1002.2M399.7 995.2L399.7 1009.2"/>
<path stroke="#ffffff" stroke-width="1.35" d="M609.6 1002.2a3.2 3.2 0 1 0 6.4 0a3.2 3.2 0 1 0 -6.4 0"/>
<path stroke="#ff0000" stroke-width="1.35" d="M605.3 1002.2L620.3 1002.2M612.8 994.7L612.8 1009.7"/>
<path stroke="#ffffff" stroke-width="1.35" d="M347.6 713.6L387.7 713.6L387.7 734L347.6 734ZM361.4 713.6L361.4 734M361.4 713.6L376.7 718.7L387.7 718.7M361.4 734L376.7 728.9L387.7 728.9M376.7 718.7L376.7 728.9M380.1 718.7L380.1 728.9"/>
<path stroke="#ffffff" stroke-width="1.22" d="M353.7 723.8a1.9 1.9 0 1 0 3.8 0a1.9 1.9 0 1 0 -3.8 0"/>
<path stroke="#ff0000" stroke-width="1.35" d="M355.6 720.4L355.6 727.2"/>
<path stroke="#ff0000" stroke-width="1.49" d="M343.5 723.8L395.9 723.8"/>
<path stroke="#ffffff" stroke-width="1.35" d="M633.9 713.6L674 713.6L674 734.4L633.9 734.4ZM660.2 713.6L660.2 734.4M660.2 713.6L644.9 718.8L633.9 718.8M660.2 734.4L644.9 729.2L633.9 729.2M644.9 718.8L644.9 729.2M641.5 718.8L641.5 729.2"/>
<path stroke="#ffffff" stroke-width="1.22" d="M664.1 724a1.9 1.9 0 1 0 3.8 0a1.9 1.9 0 1 0 -3.8 0"/>
<path stroke="#ff0000" stroke-width="1.35" d="M666 720.6L666 727.4"/>
<path stroke="#ff0000" stroke-width="1.49" d="M625.2 724L677.7 724"/>
<path stroke="#ffffff" stroke-width="1.35" d="M347.6 892.3L387.7 892.3L387.7 912.8L347.6 912.8ZM361.4 892.3L361.4 912.8M361.4 892.3L376.7 897.4L387.7 897.4M361.4 912.8L376.7 907.7L387.7 907.7M376.7 897.4L376.7 907.7M380.1 897.4L380.1 907.7"/>
<path stroke="#ffffff" stroke-width="1.22" d="M353.7 902.5a1.9 1.9 0 1 0 3.8 0a1.9 1.9 0 1 0 -3.8 0"/>
<path stroke="#ff0000" stroke-width="1.35" d="M355.6 899.1L355.6 905.9"/>
<path stroke="#ffffff" stroke-width="1.35" d="M633.9 892L659.5 892L659.5 913.5L633.9 913.5ZM650.7 892L650.7 913.5M650.7 892L640.9 897.4L633.9 897.4M650.7 913.5L640.9 908.1L633.9 908.1M640.9 897.4L640.9 908.1M638.8 897.4L638.8 908.1"/>
<path stroke="#ffffff" stroke-width="1.22" d="M652.5 902.8a1.9 1.9 0 1 0 3.8 0a1.9 1.9 0 1 0 -3.8 0"/>
<path stroke="#ff0000" stroke-width="1.35" d="M654.4 899.4L654.4 906.1"/>
<path stroke="#ffffff" stroke-width="1.35" d="M347.6 960.4L436 960.4L436 980.5L347.6 980.5ZM361.4 960.4L361.4 980.5M376.6 965.3L376.6 975.6M380.7 965.3L380.7 975.6M402.8 965.3L402.8 975.6M407.7 965.3L407.7 975.6M422.2 960.4L422.2 980.5M361.4 960.4L376.6 965.3L402.8 965.3M361.4 980.5L376.6 975.6L402.8 975.6M422.2 960.4L407.7 965.3M422.2 980.5L407.7 975.6"/>
<path stroke="#ff0000" stroke-width="1.49" d="M345.5 970.4L438.8 970.4"/>
<path stroke="#ffffff" stroke-width="1.22" d="M353.6 970.4a2 2 0 1 0 4 0a2 2 0 1 0 -4 0"/>
<path stroke="#ff0000" stroke-width="1.35" d="M355.6 966.6L355.6 974.2"/>
<path stroke="#ffffff" stroke-width="1.22" d="M426 970.4a2 2 0 1 0 4 0a2 2 0 1 0 -4 0"/>
<path stroke="#ff0000" stroke-width="1.35" d="M428 966.6L428 974.2"/>
<path stroke="#ffffff" stroke-width="1.35" d="M383.5 943L383.5 965.3M400.1 953L400.1 965.3"/>
<path stroke="#ffffff" stroke-width="2.16" d="M383.5 964L400.1 964"/>
<path stroke="#ffffff" stroke-width="1.35" d="M319 916.2L387.7 916.2M319 925.6L387.7 925.6M340 933L346.6 933M381.5 912.8L387.7 912.8L387.7 916.2L381.5 916.2Z"/>
<path stroke="#00ff00" stroke-width="1.28" d="M388.3 759.7C391.8 759.1 402.2 757.1 409.1 756.2C416 755.3 424.1 754.3 429.8 754.1C435.6 753.9 439.5 754.3 443.6 754.8C447.7 755.3 451.2 755.8 454.6 756.9C458.1 758 461.3 759.9 464.3 761.7C467.3 763.6 470.1 765.6 472.6 768C475.1 770.4 477.2 773 479.5 776.2C481.8 779.4 483.9 783.6 486.4 787.3C488.9 791 491.9 795.1 494.7 798.3C497.5 801.5 500.3 804.2 503 806.6C505.7 809 507.4 810.6 511 812.8C514.6 815 519.4 817.5 524.9 819.8C530.4 822.1 536.8 824.3 544.2 826.7C551.6 829.1 560.4 831.4 569.1 834.3C577.9 837.2 588.7 840.8 596.7 843.9C604.8 847 611.4 850.1 617.4 852.9C623.4 855.7 630.1 859.2 632.6 860.5"/>
<path stroke="#ffffff" stroke-width="1.22" d="M477.9 800a3 3 0 1 0 6 0a3 3 0 1 0 -6 0"/>
<path stroke-width="1.35" fill="#ff00ff" d="M479.1 800a1.8 1.8 0 1 0 3.6 0a1.8 1.8 0 1 0 -3.6 0"/>
<path stroke="#ff00ff" stroke-width="0.945" d="M480.9 795.8L480.9 804.2"/>
<path stroke="#ffffff" stroke-width="1.22" d="M474.7 826.2a3 3 0 1 0 6 0a3 3 0 1 0 -6 0"/>
<path stroke-width="1.35" fill="#ff00ff" d="M475.9 826.2a1.8 1.8 0 1 0 3.6 0a1.8 1.8 0 1 0 -3.6 0"/>
<path stroke="#ff00ff" stroke-width="0.945" d="M477.7 822L477.7 830.4"/>
<path stroke="#ffffff" stroke-width="1.22" d="M483.1 832.2a3 3 0 1 0 6 0a3 3 0 1 0 -6 0"/>
<path stroke-width="1.35" fill="#ff00ff" d="M484.3 832.2a1.8 1.8 0 1 0 3.6 0a1.8 1.8 0 1 0 -3.6 0"/>
<path stroke="#ff00ff" stroke-width="0.945" d="M486.1 828L486.1 836.4"/>
<path stroke="#ffffff" stroke-width="1.22" d="M464.1 840.1a3 3 0 1 0 6 0a3 3 0 1 0 -6 0"/>
<path stroke-width="1.35" fill="#ff00ff" d="M465.3 840.1a1.8 1.8 0 1 0 3.6 0a1.8 1.8 0 1 0 -3.6 0"/>
<path stroke="#ff00ff" stroke-width="0.945" d="M467.1 835.9L467.1 844.3"/>
<path stroke="#ffffff" stroke-width="1.22" d="M500.7 826.7a3 3 0 1 0 6 0a3 3 0 1 0 -6 0"/>
<path stroke-width="1.35" fill="#ff00ff" d="M501.9 826.7a1.8 1.8 0 1 0 3.6 0a1.8 1.8 0 1 0 -3.6 0"/>
<path stroke="#ff00ff" stroke-width="0.945" d="M503.7 822.5L503.7 830.9"/>
<path stroke="#ffffff" stroke-width="1.22" d="M476.8 855.2a3 3 0 1 0 6 0a3 3 0 1 0 -6 0"/>
<path stroke-width="1.35" fill="#ff00ff" d="M478 855.2a1.8 1.8 0 1 0 3.6 0a1.8 1.8 0 1 0 -3.6 0"/>
<path stroke="#ff00ff" stroke-width="0.945" d="M479.8 851L479.8 859.4"/>
<path stroke="#ffffff" stroke-width="1.22" d="M497.9 869.5a3 3 0 1 0 6 0a3 3 0 1 0 -6 0"/>
<path stroke-width="1.35" fill="#ff00ff" d="M499.1 869.5a1.8 1.8 0 1 0 3.6 0a1.8 1.8 0 1 0 -3.6 0"/>
<path stroke="#ff00ff" stroke-width="0.945" d="M500.9 865.3L500.9 873.7"/>
<path stroke="#ffffff" stroke-width="1.22" d="M480.9 875a3 3 0 1 0 6 0a3 3 0 1 0 -6 0"/>
<path stroke-width="1.35" fill="#ff00ff" d="M482.1 875a1.8 1.8 0 1 0 3.6 0a1.8 1.8 0 1 0 -3.6 0"/>
<path stroke="#ff00ff" stroke-width="0.945" d="M483.9 870.8L483.9 879.2"/>
<path stroke="#ffffff" stroke-width="1.22" d="M460.9 877.8a3 3 0 1 0 6 0a3 3 0 1 0 -6 0"/>
<path stroke-width="1.35" fill="#ff00ff" d="M462.1 877.8a1.8 1.8 0 1 0 3.6 0a1.8 1.8 0 1 0 -3.6 0"/>
<path stroke="#ff00ff" stroke-width="0.945" d="M463.9 873.6L463.9 882"/>
<path stroke="#ffffff" stroke-width="1.22" d="M482 897.8a3 3 0 1 0 6 0a3 3 0 1 0 -6 0"/>
<path stroke-width="1.35" fill="#ff00ff" d="M483.2 897.8a1.8 1.8 0 1 0 3.6 0a1.8 1.8 0 1 0 -3.6 0"/>
<path stroke="#ff00ff" stroke-width="0.945" d="M485 893.6L485 902"/>
<path stroke="#ffffff" stroke-width="1.22" d="M460.6 903a3 3 0 1 0 6 0a3 3 0 1 0 -6 0"/>
<path stroke-width="1.35" fill="#ff00ff" d="M461.8 903a1.8 1.8 0 1 0 3.6 0a1.8 1.8 0 1 0 -3.6 0"/>
<path stroke="#ff00ff" stroke-width="0.945" d="M463.6 898.8L463.6 907.2"/>
<path stroke="#ffffff" stroke-width="1.22" d="M522.1 885.8a3 3 0 1 0 6 0a3 3 0 1 0 -6 0"/>
<path stroke-width="1.35" fill="#ff00ff" d="M523.3 885.8a1.8 1.8 0 1 0 3.6 0a1.8 1.8 0 1 0 -3.6 0"/>
<path stroke="#ff00ff" stroke-width="0.945" d="M525.1 881.6L525.1 890"/>
<path stroke="#ffffff" stroke-width="1.22" d="M530.4 847.4a3 3 0 1 0 6 0a3 3 0 1 0 -6 0"/>
<path stroke-width="1.35" fill="#ff00ff" d="M531.6 847.4a1.8 1.8 0 1 0 3.6 0a1.8 1.8 0 1 0 -3.6 0"/>
<path stroke="#ff00ff" stroke-width="0.945" d="M533.4 843.2L533.4 851.6"/>
<path stroke="#ffffff" stroke-width="1.22" d="M532.4 862.8a3 3 0 1 0 6 0a3 3 0 1 0 -6 0"/>
<path stroke-width="1.35" fill="#ff00ff" d="M533.6 862.8a1.8 1.8 0 1 0 3.6 0a1.8 1.8 0 1 0 -3.6 0"/>
<path stroke="#ff00ff" stroke-width="0.945" d="M535.4 858.6L535.4 867"/>
<path stroke="#ffffff" stroke-width="1.22" d="M535.9 827.3a3 3 0 1 0 6 0a3 3 0 1 0 -6 0"/>
<path stroke-width="1.35" fill="#ff00ff" d="M537.1 827.3a1.8 1.8 0 1 0 3.6 0a1.8 1.8 0 1 0 -3.6 0"/>
<path stroke="#ff00ff" stroke-width="0.945" d="M538.9 823.1L538.9 831.5"/>
<path stroke="#ffffff" stroke-width="1.22" d="M522.1 907.5a3 3 0 1 0 6 0a3 3 0 1 0 -6 0"/>
<path stroke-width="1.35" fill="#ff00ff" d="M523.3 907.5a1.8 1.8 0 1 0 3.6 0a1.8 1.8 0 1 0 -3.6 0"/>
<path stroke="#ff00ff" stroke-width="0.945" d="M525.1 903.3L525.1 911.7"/>
<path stroke="#ffffff" stroke-width="1.22" d="M536.4 827.6a3 3 0 1 0 6 0a3 3 0 1 0 -6 0"/>
<path stroke-width="1.35" fill="#ff00ff" d="M537.6 827.6a1.8 1.8 0 1 0 3.6 0a1.8 1.8 0 1 0 -3.6 0"/>
<path stroke="#ff00ff" stroke-width="0.945" d="M539.4 823.4L539.4 831.8"/>
<path stroke="#ffffff" stroke-width="1.22" d="M530.8 847.1a3 3 0 1 0 6 0a3 3 0 1 0 -6 0"/>
<path stroke-width="1.35" fill="#ff00ff" d="M532 847.1a1.8 1.8 0 1 0 3.6 0a1.8 1.8 0 1 0 -3.6 0"/>
<path stroke="#ff00ff" stroke-width="0.945" d="M533.8 842.9L533.8 851.3"/>
<path stroke="#ffffff" stroke-width="1.22" d="M554.7 845a3 3 0 1 0 6 0a3 3 0 1 0 -6 0"/>
<path stroke-width="1.35" fill="#ff00ff" d="M555.9 845a1.8 1.8 0 1 0 3.6 0a1.8 1.8 0 1 0 -3.6 0"/>
<path stroke="#ff00ff" stroke-width="0.945" d="M557.7 840.8L557.7 849.2"/>
<path stroke="#ffffff" stroke-width="1.22" d="M547.4 850.1a3 3 0 1 0 6 0a3 3 0 1 0 -6 0"/>
<path stroke-width="1.35" fill="#ff00ff" d="M548.6 850.1a1.8 1.8 0 1 0 3.6 0a1.8 1.8 0 1 0 -3.6 0"/>
<path stroke="#ff00ff" stroke-width="0.945" d="M550.4 845.9L550.4 854.3"/>
<path stroke="#ffffff" stroke-width="1.22" d="M532.9 862.6a3 3 0 1 0 6 0a3 3 0 1 0 -6 0"/>
<path stroke-width="1.35" fill="#ff00ff" d="M534.1 862.6a1.8 1.8 0 1 0 3.6 0a1.8 1.8 0 1 0 -3.6 0"/>
<path stroke="#ff00ff" stroke-width="0.945" d="M535.9 858.4L535.9 866.8"/>
<path stroke="#ffffff" stroke-width="1.22" d="M549.9 861.6a3 3 0 1 0 6 0a3 3 0 1 0 -6 0"/>
<path stroke-width="1.35" fill="#ff00ff" d="M551.1 861.6a1.8 1.8 0 1 0 3.6 0a1.8 1.8 0 1 0 -3.6 0"/>
<path stroke="#ff00ff" stroke-width="0.945" d="M552.9 857.4L552.9 865.8"/>
<path stroke="#ffffff" stroke-width="1.22" d="M566.8 864.6a3 3 0 1 0 6 0a3 3 0 1 0 -6 0"/>
<path stroke-width="1.35" fill="#ff00ff" d="M568 864.6a1.8 1.8 0 1 0 3.6 0a1.8 1.8 0 1 0 -3.6 0"/>
<path stroke="#ff00ff" stroke-width="0.945" d="M569.8 860.4L569.8 868.8"/>
<path stroke="#ffffff" stroke-width="1.22" d="M559.8 877.3a3 3 0 1 0 6 0a3 3 0 1 0 -6 0"/>
<path stroke-width="1.35" fill="#ff00ff" d="M561 877.3a1.8 1.8 0 1 0 3.6 0a1.8 1.8 0 1 0 -3.6 0"/>
<path stroke="#ff00ff" stroke-width="0.945" d="M562.8 873.1L562.8 881.5"/>
<path stroke="#ffffff" stroke-width="1.22" d="M542.2 882.9a3 3 0 1 0 6 0a3 3 0 1 0 -6 0"/>
<path stroke-width="1.35" fill="#ff00ff" d="M543.4 882.9a1.8 1.8 0 1 0 3.6 0a1.8 1.8 0 1 0 -3.6 0"/>
<path stroke="#ff00ff" stroke-width="0.945" d="M545.2 878.7L545.2 887.1"/>
<path stroke="#ffffff" stroke-width="1.22" d="M522.1 885.8a3 3 0 1 0 6 0a3 3 0 1 0 -6 0"/>
<path stroke-width="1.35" fill="#ff00ff" d="M523.3 885.8a1.8 1.8 0 1 0 3.6 0a1.8 1.8 0 1 0 -3.6 0"/>
<path stroke="#ff00ff" stroke-width="0.945" d="M525.1 881.6L525.1 890"/>
<path stroke="#ffffff" stroke-width="1.22" d="M551.6 896.4a3 3 0 1 0 6 0a3 3 0 1 0 -6 0"/>
<path stroke-width="1.35" fill="#ff00ff" d="M552.8 896.4a1.8 1.8 0 1 0 3.6 0a1.8 1.8 0 1 0 -3.6 0"/>
<path stroke="#ff00ff" stroke-width="0.945" d="M554.6 892.2L554.6 900.6"/>
<path stroke="#ffffff" stroke-width="1.22" d="M521.9 907.5a3 3 0 1 0 6 0a3 3 0 1 0 -6 0"/>
<path stroke-width="1.35" fill="#ff00ff" d="M523.1 907.5a1.8 1.8 0 1 0 3.6 0a1.8 1.8 0 1 0 -3.6 0"/>
<path stroke="#ff00ff" stroke-width="0.945" d="M524.9 903.3L524.9 911.7"/>
<path stroke="#ffffff" stroke-width="1.22" d="M537.7 907.5a3 3 0 1 0 6 0a3 3 0 1 0 -6 0"/>
<path stroke-width="1.35" fill="#ff00ff" d="M538.9 907.5a1.8 1.8 0 1 0 3.6 0a1.8 1.8 0 1 0 -3.6 0"/>
<path stroke="#ff00ff" stroke-width="0.945" d="M540.7 903.3L540.7 911.7"/>
<path stroke="#ffffff" stroke-width="1.22" d="M452.1 917.2a3 3 0 1 0 6 0a3 3 0 1 0 -6 0"/>
<path stroke-width="1.35" fill="#ff00ff" d="M453.3 917.2a1.8 1.8 0 1 0 3.6 0a1.8 1.8 0 1 0 -3.6 0"/>
<path stroke="#ff00ff" stroke-width="0.945" d="M455.1 913L455.1 921.4"/>
<path stroke="#ffffff" stroke-width="1.22" d="M477.9 918.6a3 3 0 1 0 6 0a3 3 0 1 0 -6 0"/>
<path stroke-width="1.35" fill="#ff00ff" d="M479.1 918.6a1.8 1.8 0 1 0 3.6 0a1.8 1.8 0 1 0 -3.6 0"/>
<path stroke="#ff00ff" stroke-width="0.945" d="M480.9 914.4L480.9 922.8"/>
<path stroke="#ffffff" stroke-width="1.22" d="M421.5 923.1a3 3 0 1 0 6 0a3 3 0 1 0 -6 0"/>
<path stroke-width="1.35" fill="#ff00ff" d="M422.7 923.1a1.8 1.8 0 1 0 3.6 0a1.8 1.8 0 1 0 -3.6 0"/>
<path stroke="#ff00ff" stroke-width="0.945" d="M424.5 918.9L424.5 927.3"/>
<path stroke="#ffffff" stroke-width="1.22" d="M434.7 933.9a3 3 0 1 0 6 0a3 3 0 1 0 -6 0"/>
<path stroke-width="1.35" fill="#ff00ff" d="M435.9 933.9a1.8 1.8 0 1 0 3.6 0a1.8 1.8 0 1 0 -3.6 0"/>
<path stroke="#ff00ff" stroke-width="0.945" d="M437.7 929.7L437.7 938.1"/>
<path stroke="#ffffff" stroke-width="1.22" d="M452.1 931.4a3 3 0 1 0 6 0a3 3 0 1 0 -6 0"/>
<path stroke-width="1.35" fill="#ff00ff" d="M453.3 931.4a1.8 1.8 0 1 0 3.6 0a1.8 1.8 0 1 0 -3.6 0"/>
<path stroke="#ff00ff" stroke-width="0.945" d="M455.1 927.2L455.1 935.6"/>
<path stroke="#ffffff" stroke-width="1.22" d="M523.7 929.4a3 3 0 1 0 6 0a3 3 0 1 0 -6 0"/>
<path stroke-width="1.35" fill="#ff00ff" d="M524.9 929.4a1.8 1.8 0 1 0 3.6 0a1.8 1.8 0 1 0 -3.6 0"/>
<path stroke="#ff00ff" stroke-width="0.945" d="M526.7 925.2L526.7 933.6"/>
<path stroke="#ffffff" stroke-width="1.22" d="M499.7 938.1a3 3 0 1 0 6 0a3 3 0 1 0 -6 0"/>
<path stroke-width="1.35" fill="#ff00ff" d="M500.9 938.1a1.8 1.8 0 1 0 3.6 0a1.8 1.8 0 1 0 -3.6 0"/>
<path stroke="#ff00ff" stroke-width="0.945" d="M502.7 933.9L502.7 942.3"/>
<path stroke="#ffffff" stroke-width="1.22" d="M535.9 939a3 3 0 1 0 6 0a3 3 0 1 0 -6 0"/>
<path stroke-width="1.35" fill="#ff00ff" d="M537.1 939a1.8 1.8 0 1 0 3.6 0a1.8 1.8 0 1 0 -3.6 0"/>
<path stroke="#ff00ff" stroke-width="0.945" d="M538.9 934.8L538.9 943.2"/>
<path stroke="#ffffff" stroke-width="1.22" d="M460.3 942.9a3 3 0 1 0 6 0a3 3 0 1 0 -6 0"/>
<path stroke-width="1.35" fill="#ff00ff" d="M461.5 942.9a1.8 1.8 0 1 0 3.6 0a1.8 1.8 0 1 0 -3.6 0"/>
<path stroke="#ff00ff" stroke-width="0.945" d="M463.3 938.7L463.3 947.1"/>
<path stroke="#ffffff" stroke-width="1.22" d="M421.3 945.2a3 3 0 1 0 6 0a3 3 0 1 0 -6 0"/>
<path stroke-width="1.35" fill="#ff00ff" d="M422.5 945.2a1.8 1.8 0 1 0 3.6 0a1.8 1.8 0 1 0 -3.6 0"/>
<path stroke="#ff00ff" stroke-width="0.945" d="M424.3 941L424.3 949.4"/>
<path stroke="#ffffff" stroke-width="1.22" d="M493.1 946.6a3 3 0 1 0 6 0a3 3 0 1 0 -6 0"/>
<path stroke-width="1.35" fill="#ff00ff" d="M494.3 946.6a1.8 1.8 0 1 0 3.6 0a1.8 1.8 0 1 0 -3.6 0"/>
<path stroke="#ff00ff" stroke-width="0.945" d="M496.1 942.4L496.1 950.8"/>
<path stroke="#ffffff" stroke-width="1.22" d="M535.9 908.6a3 3 0 1 0 6 0a3 3 0 1 0 -6 0"/>
<path stroke-width="1.35" fill="#ff00ff" d="M537.1 908.6a1.8 1.8 0 1 0 3.6 0a1.8 1.8 0 1 0 -3.6 0"/>
<path stroke="#ff00ff" stroke-width="0.945" d="M538.9 904.4L538.9 912.8"/>
<path stroke="#ffffff" stroke-width="1.22" d="M552.2 896.6a3 3 0 1 0 6 0a3 3 0 1 0 -6 0"/>
<path stroke-width="1.35" fill="#ff00ff" d="M553.4 896.6a1.8 1.8 0 1 0 3.6 0a1.8 1.8 0 1 0 -3.6 0"/>
<path stroke="#ff00ff" stroke-width="0.945" d="M555.2 892.4L555.2 900.8"/>
<path stroke="#ffffff" stroke-width="1.22" d="M555 911.7a3 3 0 1 0 6 0a3 3 0 1 0 -6 0"/>
<path stroke-width="1.35" fill="#ff00ff" d="M556.2 911.7a1.8 1.8 0 1 0 3.6 0a1.8 1.8 0 1 0 -3.6 0"/>
<path stroke="#ff00ff" stroke-width="0.945" d="M558 907.5L558 915.9"/>
<path stroke="#ffffff" stroke-width="1.22" d="M544.6 926.2a3 3 0 1 0 6 0a3 3 0 1 0 -6 0"/>
<path stroke-width="1.35" fill="#ff00ff" d="M545.8 926.2a1.8 1.8 0 1 0 3.6 0a1.8 1.8 0 1 0 -3.6 0"/>
<path stroke="#ff00ff" stroke-width="0.945" d="M547.6 922L547.6 930.4"/>
<path stroke="#ffffff" stroke-width="1.22" d="M537 908.6a3 3 0 1 0 6 0a3 3 0 1 0 -6 0"/>
<path stroke-width="1.35" fill="#ff00ff" d="M538.2 908.6a1.8 1.8 0 1 0 3.6 0a1.8 1.8 0 1 0 -3.6 0"/>
<path stroke="#ff00ff" stroke-width="0.945" d="M540 904.4L540 912.8"/>
<path stroke="#ffffff" stroke-width="1.22" d="M537 939.7a3 3 0 1 0 6 0a3 3 0 1 0 -6 0"/>
<path stroke-width="1.35" fill="#ff00ff" d="M538.2 939.7a1.8 1.8 0 1 0 3.6 0a1.8 1.8 0 1 0 -3.6 0"/>
<path stroke="#ff00ff" stroke-width="0.945" d="M540 935.5L540 943.9"/>
<path stroke="#ffffff" stroke-width="1.35" d="M508.3 945.7a2.6 2.6 0 1 0 5.2 0a2.6 2.6 0 1 0 -5.2 0"/>
<path stroke="#ff0000" stroke-width="1.22" d="M505.9 945.7L515.9 945.7M510.9 940.7L510.9 950.7"/>
<path stroke="#ff00ff" stroke-width="2.03" d="M393.2 771.8L400.6 771.8M396.9 768.1L396.9 775.5M430.2 779L437.6 779M433.9 775.3L433.9 782.7M454.8 771.8L462.2 771.8M458.5 768.1L458.5 775.5M415.7 800L423.1 800M419.4 796.3L419.4 803.7M426.8 818.6L434.2 818.6M430.5 814.9L430.5 822.3M406.1 825.7L413.5 825.7M409.8 822L409.8 829.4M417.1 849.7L424.5 849.7M420.8 846L420.8 853.4M392 856.6L399.4 856.6M395.7 852.9L395.7 860.3M398 872.9L405.4 872.9M401.7 869.2L401.7 876.6M418.5 884L425.9 884M422.2 880.3L422.2 887.7M408.1 887.4L415.5 887.4M411.8 883.7L411.8 891.1"/>
<path stroke="#ff00ff" stroke-width="1.35" d="M402.7 768L409.9 768M406.3 764.4L406.3 771.6"/>
<path stroke-width="1.35" fill="#ffffff" d="M405.4 766L407.2 766L407.2 770L405.4 770Z"/>
<path stroke="#ff00ff" stroke-width="1.35" d="M396.1 782L403.3 782M399.7 778.4L399.7 785.6"/>
<path stroke-width="1.35" fill="#ffffff" d="M398.8 780L400.6 780L400.6 784L398.8 784Z"/>
<path stroke="#ff00ff" stroke-width="1.35" d="M440.3 775.6L447.5 775.6M443.9 772L443.9 779.2"/>
<path stroke-width="1.35" fill="#ffffff" d="M443 773.6L444.8 773.6L444.8 777.6L443 777.6Z"/>
<path stroke="#ff00ff" stroke-width="1.35" d="M433.1 788.7L440.3 788.7M436.7 785.1L436.7 792.3"/>
<path stroke-width="1.35" fill="#ffffff" d="M435.8 786.7L437.6 786.7L437.6 790.7L435.8 790.7Z"/>
<path stroke="#ff00ff" stroke-width="1.35" d="M437.2 815.2L444.4 815.2M440.8 811.6L440.8 818.8"/>
<path stroke-width="1.35" fill="#ffffff" d="M439.9 813.2L441.7 813.2L441.7 817.2L439.9 817.2Z"/>
<path stroke="#ff00ff" stroke-width="1.35" d="M416.2 822.1L423.4 822.1M419.8 818.5L419.8 825.7"/>
<path stroke-width="1.35" fill="#ffffff" d="M418.9 820.1L420.7 820.1L420.7 824.1L418.9 824.1Z"/>
<path stroke="#ff00ff" stroke-width="1.35" d="M430.3 828.7L437.5 828.7M433.9 825.1L433.9 832.3"/>
<path stroke-width="1.35" fill="#ffffff" d="M433 826.7L434.8 826.7L434.8 830.7L433 830.7Z"/>
<path stroke="#ff00ff" stroke-width="1.35" d="M409.2 835.6L416.4 835.6M412.8 832L412.8 839.2"/>
<path stroke-width="1.35" fill="#ffffff" d="M411.9 833.6L413.7 833.6L413.7 837.6L411.9 837.6Z"/>
<path stroke="#ff00ff" stroke-width="1.35" d="M405.5 849.2L412.7 849.2M409.1 845.6L409.1 852.8"/>
<path stroke-width="1.35" fill="#ffffff" d="M408.2 847.2L410 847.2L410 851.2L408.2 851.2Z"/>
<path stroke="#ff00ff" stroke-width="1.35" d="M426.9 846.7L434.1 846.7M430.5 843.1L430.5 850.3"/>
<path stroke-width="1.35" fill="#ffffff" d="M429.6 844.7L431.4 844.7L431.4 848.7L429.6 848.7Z"/>
<path stroke="#ff00ff" stroke-width="1.35" d="M420.2 860.1L427.4 860.1M423.8 856.5L423.8 863.7"/>
<path stroke-width="1.35" fill="#ffffff" d="M422.9 858.1L424.7 858.1L424.7 862.1L422.9 862.1Z"/>
<path stroke="#ff00ff" stroke-width="1.35" d="M407.3 869.8L414.5 869.8M410.9 866.2L410.9 873.4"/>
<path stroke-width="1.35" fill="#ffffff" d="M410 867.8L411.8 867.8L411.8 871.8L410 871.8Z"/>
<path stroke="#ff00ff" stroke-width="1.35" d="M400.4 882.9L407.6 882.9M404 879.3L404 886.5"/>
<path stroke-width="1.35" fill="#ffffff" d="M403.1 880.9L404.9 880.9L404.9 884.9L403.1 884.9Z"/>
<path stroke="#ff00ff" stroke-width="1.35" d="M411.4 897.5L418.6 897.5M415 893.9L415 901.1"/>
<path stroke-width="1.35" fill="#ffffff" d="M414.1 895.5L415.9 895.5L415.9 899.5L414.1 899.5Z"/>
<path stroke="#ff00ff" stroke-width="1.35" d="M594.7 851.2L601.9 851.2M598.3 847.6L598.3 854.8"/>
<path stroke-width="1.35" fill="#ffffff" d="M597.4 849.2L599.2 849.2L599.2 853.2L597.4 853.2Z"/>
<path stroke="#ff00ff" stroke-width="1.35" d="M609.9 858.4L617.1 858.4M613.5 854.8L613.5 862"/>
<path stroke-width="1.35" fill="#ffffff" d="M612.6 856.4L614.4 856.4L614.4 860.4L612.6 860.4Z"/>
<path stroke="#ff00ff" stroke-width="1.35" d="M598.9 863L606.1 863M602.5 859.4L602.5 866.6"/>
<path stroke-width="1.35" fill="#ffffff" d="M601.6 861L603.4 861L603.4 865L601.6 865Z"/>
<path stroke="#ff00ff" stroke-width="1.35" d="M617.9 867.7L625.1 867.7M621.5 864.1L621.5 871.3"/>
<path stroke-width="1.35" fill="#ffffff" d="M620.6 865.7L622.4 865.7L622.4 869.7L620.6 869.7Z"/>
<path stroke="#ff00ff" stroke-width="1.35" d="M611.7 880.5L618.9 880.5M615.3 876.9L615.3 884.1"/>
<path stroke-width="1.35" fill="#ffffff" d="M614.4 878.5L616.2 878.5L616.2 882.5L614.4 882.5Z"/>
<path stroke="#ff00ff" stroke-width="1.35" d="M597.2 886L604.4 886M600.8 882.4L600.8 889.6"/>
<path stroke-width="1.35" fill="#ffffff" d="M599.9 884L601.7 884L601.7 888L599.9 888Z"/>
<path stroke="#ff00ff" stroke-width="1.35" d="M590.3 898.9L597.5 898.9M593.9 895.3L593.9 902.5"/>
<path stroke-width="1.35" fill="#ffffff" d="M593 896.9L594.8 896.9L594.8 900.9L593 900.9Z"/>
<path stroke="#ff00ff" stroke-width="1.35" d="M611.3 898.5L618.5 898.5M614.9 894.9L614.9 902.1"/>
<path stroke-width="1.35" fill="#ffffff" d="M614 896.5L615.8 896.5L615.8 900.5L614 900.5Z"/>
<path stroke="#ff00ff" stroke-width="2.03" d="M608.9 870.9L616.3 870.9M612.6 867.2L612.6 874.6M587.2 888.8L594.6 888.8M590.9 885.1L590.9 892.5M601 901.7L608.4 901.7M604.7 898L604.7 905.4"/>
<path stroke="#ff00ff" stroke-width="1.35" d="M400.4 913.8L407.6 913.8M404 910.2L404 917.4"/>
<path stroke-width="1.35" fill="#ffffff" d="M403.1 911.8L404.9 911.8L404.9 915.8L403.1 915.8Z"/>
<path stroke="#ff00ff" stroke-width="1.35" d="M590.3 899.4L597.5 899.4M593.9 895.8L593.9 903"/>
<path stroke-width="1.35" fill="#ffffff" d="M593 897.4L594.8 897.4L594.8 901.4L593 901.4Z"/>
<path stroke="#ff00ff" stroke-width="1.35" d="M611.7 898.6L618.9 898.6M615.3 895L615.3 902.2"/>
<path stroke-width="1.35" fill="#ffffff" d="M614.4 896.6L616.2 896.6L616.2 900.6L614.4 900.6Z"/>
<path stroke="#ff00ff" stroke-width="1.35" d="M579.2 911.4L586.4 911.4M582.8 907.8L582.8 915"/>
<path stroke-width="1.35" fill="#ffffff" d="M581.9 909.4L583.7 909.4L583.7 913.4L581.9 913.4Z"/>
<path stroke="#ff00ff" stroke-width="1.35" d="M591.4 920.7L598.6 920.7M595 917.1L595 924.3"/>
<path stroke-width="1.35" fill="#ffffff" d="M594.1 918.7L595.9 918.7L595.9 922.7L594.1 922.7Z"/>
<path stroke="#ff00ff" stroke-width="1.35" d="M606.2 925.2L613.4 925.2M609.8 921.6L609.8 928.8"/>
<path stroke-width="1.35" fill="#ffffff" d="M608.9 923.2L610.7 923.2L610.7 927.2L608.9 927.2Z"/>
<path stroke="#ff00ff" stroke-width="1.35" d="M572.6 924.3L579.8 924.3M576.2 920.7L576.2 927.9"/>
<path stroke-width="1.35" fill="#ffffff" d="M575.3 922.3L577.1 922.3L577.1 926.3L575.3 926.3Z"/>
<path stroke="#ff00ff" stroke-width="1.35" d="M588.2 940L595.4 940M591.8 936.4L591.8 943.6"/>
<path stroke-width="1.35" fill="#ffffff" d="M590.9 938L592.7 938L592.7 942L590.9 942Z"/>
<path stroke="#ff00ff" stroke-width="1.35" d="M605.2 943.9L612.4 943.9M608.8 940.3L608.8 947.5"/>
<path stroke-width="1.35" fill="#ffffff" d="M607.9 941.9L609.7 941.9L609.7 945.9L607.9 945.9Z"/>
<path stroke="#ff00ff" stroke-width="1.35" d="M614.9 940.4L622.1 940.4M618.5 936.8L618.5 944"/>
<path stroke-width="1.35" fill="#ffffff" d="M617.6 938.4L619.4 938.4L619.4 942.4L617.6 942.4Z"/>
<path stroke="#ff00ff" stroke-width="2.03" d="M601.2 901.7L608.6 901.7M604.9 898L604.9 905.4M570.1 914.2L577.5 914.2M573.8 910.5L573.8 917.9M618.2 915.1L625.6 915.1M621.9 911.4L621.9 918.8"/>
<path stroke="#ffffff" stroke-width="1.35" d="M392 934.2a1.6 1.6 0 1 0 3.2 0a1.6 1.6 0 1 0 -3.2 0M436.3 945.7a1.8 1.8 0 1 0 3.6 0a1.8 1.8 0 1 0 -3.6 0"/>
<path stroke="#ff0000" stroke-width="1.62" d="M438.1 941.8L438.1 949.4"/>
<path stroke="#ffffff" stroke-width="1.62" d="M581.2 945.9a1.9 1.9 0 1 0 3.8 0a1.9 1.9 0 1 0 -3.8 0"/>
<path stroke="#ffffff" stroke-width="1.35" d="M415.3 760.4L421.8 766.6L413.2 790.7L407.3 785.2Z"/>
<path stroke="#ffffff" stroke-width="1.22" d="M418.8 763.8L410.5 788.3"/>
<path stroke="#ffffff" stroke-width="1.35" d="M402.2 802.2L407.7 805.9L392.8 837.7L389.7 834.9Z"/>
<path stroke="#ffffff" stroke-width="1.22" d="M405.2 804.3L391.4 836.5"/>
<path stroke="#ffffff" stroke-width="1.35" d="M465 778.3L471.2 782.5L463.6 814.6L459.1 810.8Z"/>
<path stroke="#ffffff" stroke-width="1.22" d="M468.4 780.6L461.6 812.9"/>
<path stroke="#ffffff" stroke-width="1.35" d="M454.6 823.2L460.9 827.3L453.5 847.4L448.1 843.2Z"/>
<path stroke="#ffffff" stroke-width="1.22" d="M458.1 825.5L451.1 845.5"/>
<path stroke="#ffffff" stroke-width="1.35" d="M445.7 850.1L451.9 853.9L441.9 880.1L436 875Z"/>
<path stroke="#ffffff" stroke-width="1.22" d="M449.1 852.2L439.3 877.8"/>
<path stroke="#ffffff" stroke-width="1.35" d="M429.8 890.2L436 893.6L426.3 914.4L419.8 909.5Z"/>
<path stroke="#ffffff" stroke-width="1.22" d="M433.2 892.1L423.4 912.2"/>
<path stroke="#ffffff" stroke-width="1.35" d="M519.6 817.7L525.1 819.1L521.2 842.5L515.1 837Z"/>
<path stroke="#ffffff" stroke-width="1.22" d="M522.6 818.4L518.5 840.1"/>
<path stroke="#ffffff" stroke-width="1.35" d="M512.7 848.3L519.3 855L514.7 873.3L508.5 867.4Z"/>
<path stroke="#ffffff" stroke-width="1.22" d="M516.3 852L511.9 870.7"/>
<path stroke="#ffffff" stroke-width="1.35" d="M506.4 877.3L512 881.9L504.1 907.5L498.1 901.9Z"/>
<path stroke="#ffffff" stroke-width="1.22" d="M509.5 879.9L501.4 905"/>
<path stroke="#ffffff" stroke-width="1.35" d="M520.7 818.4L524.9 819.8L521 842.5L515.2 837Z"/>
<path stroke="#ffffff" stroke-width="1.22" d="M523 819.1L518.4 840.1"/>
<path stroke="#ffffff" stroke-width="1.35" d="M513.8 848.8L519.3 855L513.8 872.9L508.6 867.4Z"/>
<path stroke="#ffffff" stroke-width="1.22" d="M516.9 852.2L511.5 870.4"/>
<path stroke="#ffffff" stroke-width="1.35" d="M506.2 877.3L511.7 883.3L503.5 907.5L498.6 901.9Z"/>
<path stroke="#ffffff" stroke-width="1.22" d="M509.3 880.6L501.3 905"/>
<path stroke="#ffffff" stroke-width="1.35" d="M584.3 848.8L590.5 855L585.4 872.9L579.4 867.4Z"/>
<path stroke="#ffffff" stroke-width="1.22" d="M587.7 852.2L582.7 870.4"/>
<path stroke="#ffffff" stroke-width="1.35" d="M577.3 877.3L582.9 883.3L575.3 907.5L569.1 901.9Z"/>
<path stroke="#ffffff" stroke-width="1.22" d="M580.4 880.6L572.5 905"/>
<path stroke="#ffffff" stroke-width="1.35" d="M412.5 920.4L420.8 925.2L404.9 950.8L395.2 945.2Z"/>
<path stroke="#ffffff" stroke-width="1.22" d="M417.1 923L400.6 948.3"/>
<path stroke="#ffffff" stroke-width="1.35" d="M491.9 918.3L497.9 922.9L483.6 951.5L476 950.8Z"/>
<path stroke="#ffffff" stroke-width="1.22" d="M495.2 920.8L480.2 951.2"/>
<path stroke="#ffffff" stroke-width="1.35" d="M574.5 885.9L581.4 888.6L574.5 907.3L569 901.7Z"/>
<path stroke="#ffffff" stroke-width="1.22" d="M578.3 887.4L572 904.8"/>
<path stroke="#ffffff" stroke-width="1.35" d="M563.2 918.3L569 923.1L553.1 951.5L546.2 951.5Z"/>
<path stroke="#ffffff" stroke-width="1.22" d="M566.4 921L550 951.5"/>
<path stroke="#ffffff" stroke-width="1.35" d="M659.5 951.5L659.5 877L661 875.4L722.5 875.4L729.2 882.5L729.2 943.9L720.9 951.5ZM673.3 875.4L673.3 951.5M696.1 875.4L696.1 951.5"/>
<path stroke="#ffffff" stroke-width="1.89" d="M707.4 888.5L720.4 888.5L720.4 938.4L707.4 938.4Z"/>
<path stroke="#ffffff" stroke-width="1.08" d="M709.2 890L718.8 890L718.8 937L709.2 937Z"/>
<text transform="translate(714 907.5) scale(0.8 1)" text-anchor="middle" font-size="7.2" fill="#ffffff">00</text><text transform="translate(714 924.5) scale(0.8 1)" text-anchor="middle" font-size="7.2" fill="#ffffff">00</text>
<path stroke="#ff0000" stroke-width="1.49" d="M653.5 885.5L664.5 885.5M654 941.5L665 941.5"/>
<path stroke="#ffffff" stroke-width="1.35" d="M656.5 881.7L659.1 881.7L659.1 889.3L656.5 889.3ZM656.5 937.7L659.1 937.7L659.1 945.3L656.5 945.3ZM346.6 681.8L258.7 681.8M209.4 681.8L195.7 681.8L192.9 684.6L192.9 930.5L195.7 933.3L346.6 933.3M198.5 699.9a3.2 3.2 0 1 0 6.4 0a3.2 3.2 0 1 0 -6.4 0"/>
<path stroke="#ff0000" stroke-width="1.35" d="M195.2 699.9L208.2 699.9M201.7 693.4L201.7 706.4M195.2 735.5L208.2 735.5M201.7 729L201.7 742"/>
<path stroke="#ffffff" stroke-width="1.35" d="M334.5 700.3a3.2 3.2 0 1 0 6.4 0a3.2 3.2 0 1 0 -6.4 0"/>
<path stroke="#ff0000" stroke-width="1.35" d="M330.9 700.3L344.5 700.3M337.7 693.5L337.7 707.1"/>
<path stroke="#ffffff" stroke-width="1.35" d="M198.1 909.5a3.4 3.4 0 1 0 6.8 0a3.4 3.4 0 1 0 -6.8 0"/>
<path stroke="#ff0000" stroke-width="1.35" d="M196.5 909.5L206.5 909.5M201.5 904.5L201.5 914.5"/>
<path stroke="#ffffff" stroke-width="1.35" d="M334.4 909.5a3.4 3.4 0 1 0 6.8 0a3.4 3.4 0 1 0 -6.8 0"/>
<path stroke="#ff0000" stroke-width="1.35" d="M332.8 909.5L342.8 909.5M337.8 904.5L337.8 914.5"/>
<path stroke="#ffffff" stroke-width="1.35" d="M209.4 664.2L258.7 664.2L258.7 689.8L209.4 689.8ZM206.2 690.2L261.5 690.2L261.5 745.9L206.2 745.9Z"/>
<path stroke="#ffffff" stroke-width="1.08" d="M207.6 691.6L260.1 691.6L260.1 744.5L207.6 744.5Z"/>
<path stroke="#ffffff" stroke-width="1.35" d="M209.4 745.9L258.7 745.9L258.7 750.5L209.4 750.5ZM226 751L242 751L242 753.2L226 753.2ZM261.5 693.6L266.4 693.6M261.5 704.8L266.4 704.8M266.4 693.6A5.6 5.6 0 0 1 266.4 704.8M263.8 699.2a2.6 2.6 0 1 0 5.2 0a2.6 2.6 0 1 0 -5.2 0"/>
<path stroke="#ff0000" stroke-width="1.35" fill="#ff0000" d="M265.2 699.2a1.2 1.2 0 1 0 2.4 0a1.2 1.2 0 1 0 -2.4 0"/>
<path stroke="#ff0000" stroke-width="1.22" d="M259.5 699.2L271 699.2"/>
<path stroke="#ffffff" stroke-width="1.35" d="M261.5 729.9L266.4 729.9M261.5 741.1L266.4 741.1M266.4 729.9A5.6 5.6 0 0 1 266.4 741.1M263.8 735.5a2.6 2.6 0 1 0 5.2 0a2.6 2.6 0 1 0 -5.2 0"/>
<path stroke="#ff0000" stroke-width="1.35" fill="#ff0000" d="M265.2 735.5a1.2 1.2 0 1 0 2.4 0a1.2 1.2 0 1 0 -2.4 0"/>
<path stroke="#ff0000" stroke-width="1.22" d="M259.5 735.5L271 735.5"/>
<path stroke="#e00000" stroke-width="1.35" stroke-dasharray="10 2 2 2" d="M234 662L234 861"/>
<path stroke="#ff0000" stroke-width="1.49" stroke-dasharray="28 6 12 6" d="M194.5 718L275 718"/>
<path stroke="#ffffff" stroke-width="1.35" d="M229.5 753L238.5 753L238.5 760L229.5 760Z"/>
<path stroke="#ffffff" stroke-width="1.35" fill="#00c000" d="M227.6 759.5L240.5 759.5L240.5 766.6L245.7 766.6L245.7 779.5L240.5 779.5L240.5 784.7L227.6 784.7L227.6 779.5L223 779.5L223 766.6L227.6 766.6Z"/>
<path stroke="#ffffff" stroke-width="1.35" fill="#000" d="M231.2 760.1L237 760.1L237 774.6L231.2 774.6Z"/>
<path stroke-width="1.35" fill="#bbb" d="M232.5 762L235.7 762L235.7 769.5L232.5 769.5Z"/>
<path stroke="#ffffff" stroke-width="1.35" fill="#ddd" d="M228.9 771.1L239.3 771.1L239.3 773.9L228.9 773.9ZM222.9 767.2L225.5 767.2L225.5 778.7L222.9 778.7Z"/>
<path stroke="#ff0000" stroke-width="1.35" d="M225.2 767.2L225.2 777.6"/>
<path stroke="#ffffff" stroke-width="1.35" fill="#ddd" d="M243.1 767.2L245.7 767.2L245.7 778.7L243.1 778.7Z"/>
<path stroke="#ff0000" stroke-width="1.35" d="M245.4 767.2L245.4 777.6"/>
<path stroke="#0000ff" stroke-width="1.35" fill="#0000ff" d="M231.4 780.2a2.6 2.6 0 1 0 5.2 0a2.6 2.6 0 1 0 -5.2 0"/>
<path stroke="#ffffff" stroke-width="1.35" d="M230.8 784.7L237.3 784.7L237.3 793.2L230.8 793.2Z"/>
<path stroke="#ffffff" stroke-width="1.62" fill="#00c000" d="M202.6 811.8L218.1 791.9L292.8 791.9L323 813.4L323 826.9L292.8 848.4L218.1 848.4L202.6 827.7Z"/>
<path stroke="#ffffff" stroke-width="1.35" fill="#000" d="M202.6 819.7L244.3 819.7L244.3 848.4L218.1 848.4L202.6 827.7Z"/>
<path stroke="#ffffff" stroke-width="1.49" fill="#000" d="M216.5 810.6L309.5 810.6L311.9 813.4L311.9 828.5L309.5 830.9L216.5 830.9L214.1 827.7L214.1 813.4ZM264.2 810.2L266.5 795.9L268.9 794.3L281.6 794.3L284 795.9L286.4 810.2ZM262.6 831.7L286.4 831.7L284.8 846L282.4 847.6L266.5 847.6L264.2 846ZM222.4 810.6L225.2 795.9L227.6 792.7L244.3 792.7L245.9 810.6Z"/>
<path stroke="#ffffff" stroke-width="1.35" fill="#000" d="M250.6 791.9L257 791.9L257 796.7L250.6 796.7ZM250.6 843.6L257 843.6L257 848.4L250.6 848.4Z"/>
<path stroke="#ffffff" stroke-width="1.35" d="M230.8 780L230.8 810.6M237.5 780L237.5 810.6"/>
<path stroke-width="1.35" fill="#00c000" d="M245.9 831.7L261.8 831.7L261.8 848.4L245.9 848.4Z"/>
<path stroke="#ffffff" stroke-width="1.49" d="M240.3 815.8L309.5 815.8L309.5 824.5L240.3 824.5Z"/>
<path stroke="#ffffff" stroke-width="1.22" d="M242.7 817.8L307.9 817.8M242.7 822.9L307.9 822.9"/>
<path stroke="#ffffff" stroke-width="1.22" fill="#fff" d="M243 816.7a1.3 1.3 0 1 0 2.6 0a1.3 1.3 0 1 0 -2.6 0M243 823.6a1.3 1.3 0 1 0 2.6 0a1.3 1.3 0 1 0 -2.6 0M265.2 816.7a1.3 1.3 0 1 0 2.6 0a1.3 1.3 0 1 0 -2.6 0M265.2 823.6a1.3 1.3 0 1 0 2.6 0a1.3 1.3 0 1 0 -2.6 0M282.3 816.7a1.3 1.3 0 1 0 2.6 0a1.3 1.3 0 1 0 -2.6 0M282.3 823.6a1.3 1.3 0 1 0 2.6 0a1.3 1.3 0 1 0 -2.6 0M304.2 816.7a1.3 1.3 0 1 0 2.6 0a1.3 1.3 0 1 0 -2.6 0M304.2 823.6a1.3 1.3 0 1 0 2.6 0a1.3 1.3 0 1 0 -2.6 0"/>
<path stroke-width="1.35" fill="#00c000" d="M245.9 818.2L250.6 818.2L250.6 822.5L245.9 822.5ZM262.6 818.2L267.3 818.2L267.3 822.5L262.6 822.5ZM282.4 818.2L287.2 818.2L287.2 822.5L282.4 822.5ZM301.5 818.2L306.3 818.2L306.3 822.5L301.5 822.5Z"/>
<path stroke="#ffffff" stroke-width="1.35" d="M267.3 810.6L267.3 830.9M281.6 810.6L281.6 830.9M272.1 819L272.5 822.1L274.5 824.1L276.5 822.1L276.9 819"/>
<path stroke="#ffffff" stroke-width="1.49" d="M213.3 824.5L213.3 835.6L218.8 843.6L239.5 843.6"/>
<path stroke="#ffffff" stroke-width="1.35" d="M225.2 834.1L225.2 843.6M232.4 837.2L232.4 846L240.3 846L242.7 842.8"/>
<path stroke="#ffffff" stroke-width="1.49" d="M204.4 827.7a3.3 3.3 0 1 0 6.6 0a3.3 3.3 0 1 0 -6.6 0M214.5 838.8a3.6 3.6 0 1 0 7.2 0a3.6 3.6 0 1 0 -7.2 0"/>
<path stroke="#ffffff" stroke-width="1.22" d="M213.1 838.8a5 5 0 1 0 10 0a5 5 0 1 0 -10 0M203.7 816.2L211.7 816.2L211.7 818.2L203.7 818.2Z"/>
<path stroke="#ffffff" stroke-width="1.49" d="M298.3 794.7L306.3 794.7L311.9 798.3L313.8 803.8L312.6 806.2"/>
<path stroke="#ffffff" stroke-width="1.22" d="M299.1 795.9L305.5 795.9L310.3 799.5L311.9 804.6"/>
<path stroke="#ffffff" stroke-width="1.49" d="M298.3 845.6L306.3 845.6L311.9 842L313.8 836.4L312.6 834.1"/>
<path stroke="#ffffff" stroke-width="1.22" d="M299.1 844.4L305.5 844.4L310.3 840.8L311.9 835.6"/>
<path stroke="#ffffff" stroke-width="1.35" d="M215.5 801.5a2.6 2.6 0 1 0 5.2 0a2.6 2.6 0 1 0 -5.2 0"/>
<path stroke="#ff0000" stroke-width="1.35" fill="#ff0000" d="M217 801.5a1.1 1.1 0 1 0 2.2 0a1.1 1.1 0 1 0 -2.2 0"/>
<path stroke="#ffffff" stroke-width="1.35" d="M205.1 811.8a2.6 2.6 0 1 0 5.2 0a2.6 2.6 0 1 0 -5.2 0"/>
<path stroke="#ff0000" stroke-width="1.35" fill="#ff0000" d="M206.6 811.8a1.1 1.1 0 1 0 2.2 0a1.1 1.1 0 1 0 -2.2 0"/>
<path stroke="#ffffff" stroke-width="1.35" d="M250.4 801.5a2.6 2.6 0 1 0 5.2 0a2.6 2.6 0 1 0 -5.2 0"/>
<path stroke="#ff0000" stroke-width="1.35" fill="#ff0000" d="M251.9 801.5a1.1 1.1 0 1 0 2.2 0a1.1 1.1 0 1 0 -2.2 0"/>
<path stroke="#ffffff" stroke-width="1.35" d="M291.8 801.5a2.6 2.6 0 1 0 5.2 0a2.6 2.6 0 1 0 -5.2 0"/>
<path stroke="#ff0000" stroke-width="1.35" fill="#ff0000" d="M293.3 801.5a1.1 1.1 0 1 0 2.2 0a1.1 1.1 0 1 0 -2.2 0"/>
<path stroke="#ffffff" stroke-width="1.35" d="M314.8 815a2.6 2.6 0 1 0 5.2 0a2.6 2.6 0 1 0 -5.2 0"/>
<path stroke="#ff0000" stroke-width="1.35" fill="#ff0000" d="M316.3 815a1.1 1.1 0 1 0 2.2 0a1.1 1.1 0 1 0 -2.2 0"/>
<path stroke="#ffffff" stroke-width="1.35" d="M314.8 825.3a2.6 2.6 0 1 0 5.2 0a2.6 2.6 0 1 0 -5.2 0"/>
<path stroke="#ff0000" stroke-width="1.35" fill="#ff0000" d="M316.3 825.3a1.1 1.1 0 1 0 2.2 0a1.1 1.1 0 1 0 -2.2 0"/>
<path stroke="#ffffff" stroke-width="1.35" d="M291.8 838.8a2.6 2.6 0 1 0 5.2 0a2.6 2.6 0 1 0 -5.2 0"/>
<path stroke="#ff0000" stroke-width="1.35" fill="#ff0000" d="M293.3 838.8a1.1 1.1 0 1 0 2.2 0a1.1 1.1 0 1 0 -2.2 0"/>
<path stroke="#ffffff" stroke-width="1.35" d="M250.4 838.8a2.6 2.6 0 1 0 5.2 0a2.6 2.6 0 1 0 -5.2 0"/>
<path stroke="#ff0000" stroke-width="1.35" fill="#ff0000" d="M251.9 838.8a1.1 1.1 0 1 0 2.2 0a1.1 1.1 0 1 0 -2.2 0M206.6 827.7a1.1 1.1 0 1 0 2.2 0a1.1 1.1 0 1 0 -2.2 0M217 838.8a1.1 1.1 0 1 0 2.2 0a1.1 1.1 0 1 0 -2.2 0"/>
<path stroke="#ffffff" stroke-width="1.22" d="M225.8 790.7a1.4 1.4 0 1 0 2.8 0a1.4 1.4 0 1 0 -2.8 0M240.1 790.7a1.4 1.4 0 1 0 2.8 0a1.4 1.4 0 1 0 -2.8 0M248.1 790.7a1.4 1.4 0 1 0 2.8 0a1.4 1.4 0 1 0 -2.8 0M257.2 790.7a1.4 1.4 0 1 0 2.8 0a1.4 1.4 0 1 0 -2.8 0M267.1 790.7a1.4 1.4 0 1 0 2.8 0a1.4 1.4 0 1 0 -2.8 0M280.2 790.7a1.4 1.4 0 1 0 2.8 0a1.4 1.4 0 1 0 -2.8 0M290.2 790.7a1.4 1.4 0 1 0 2.8 0a1.4 1.4 0 1 0 -2.8 0M219 848.5a1.4 1.4 0 1 0 2.8 0a1.4 1.4 0 1 0 -2.8 0M240.1 848.5a1.4 1.4 0 1 0 2.8 0a1.4 1.4 0 1 0 -2.8 0M248.1 848.5a1.4 1.4 0 1 0 2.8 0a1.4 1.4 0 1 0 -2.8 0M257.2 848.5a1.4 1.4 0 1 0 2.8 0a1.4 1.4 0 1 0 -2.8 0M267.1 848.5a1.4 1.4 0 1 0 2.8 0a1.4 1.4 0 1 0 -2.8 0M281 848.5a1.4 1.4 0 1 0 2.8 0a1.4 1.4 0 1 0 -2.8 0M290.2 848.5a1.4 1.4 0 1 0 2.8 0a1.4 1.4 0 1 0 -2.8 0"/>
<path stroke="#ffffff" stroke-width="1.35" fill="#eee" d="M218.4 789.5L222.8 789.5L222.8 798.3L218.4 798.3Z"/>
<path stroke="#ff0000" stroke-width="1.15" d="M247.1 788.7L247.1 799.9M260.2 787.9L260.2 799.1M288.8 787.9L288.8 798.3M247.1 839.6L247.1 852.3M260.2 841.2L260.2 851.5M288.8 841.2L288.8 851.5M227.2 811.8L227.2 826.9M240.7 811.8L240.7 826.9M254.6 813.4L254.6 826.9M293.6 813.4L293.6 826.9M308.3 809.4L308.3 830.9M220.8 787.2L220.8 795.9"/>
<path stroke="#ff0000" stroke-width="1.49" d="M199 820.5L335.8 820.5"/>
<path stroke="#ff0000" stroke-width="1.49" stroke-dasharray="7 2.5" d="M274.5 786L274.5 932"/>
<path stroke="#0000ff" stroke-width="1.89" d="M230 797.1L238 797.1"/>
<path stroke-width="1.35" fill="#0000ff" d="M230.6 797.7L234 793.9L237.4 797.7ZM230.8 797.1L237.2 797.1L237.2 799.5L230.8 799.5Z"/>
<path stroke="#0000ff" stroke-width="1.89" d="M222.5 805.6L245.5 805.6"/>
<path stroke-width="1.35" fill="#0000ff" d="M230.6 806.2L234 802.4L237.4 806.2ZM230.8 805.6L237.2 805.6L237.2 808L230.8 808Z"/>
<path stroke="#0000ff" stroke-width="1.89" d="M229.5 809.8L238.5 809.8"/>
<path stroke-width="1.35" fill="#0000ff" d="M230.6 810.4L234 806.6L237.4 810.4ZM230.8 809.8L237.2 809.8L237.2 812.2L230.8 812.2Z"/>
<path stroke="#0000ff" stroke-width="1.89" d="M229 814.6L239 814.6"/>
<path stroke-width="1.35" fill="#0000ff" d="M230.6 815.2L234 811.4L237.4 815.2ZM230.8 814.6L237.2 814.6L237.2 817L230.8 817Z"/>
<path stroke="#0000ff" stroke-width="1.89" d="M229 827.7L239 827.7"/>
<path stroke-width="1.35" fill="#0000ff" d="M230.6 828.3L234 824.5L237.4 828.3ZM230.8 827.7L237.2 827.7L237.2 830.1L230.8 830.1Z"/>
<path stroke="#0000ff" stroke-width="1.89" d="M222.5 832.5L245.5 832.5"/>
<path stroke-width="1.35" fill="#0000ff" d="M230.6 833.1L234 829.3L237.4 833.1ZM230.8 832.5L237.2 832.5L237.2 834.9L230.8 834.9Z"/>
<path stroke="#0000ff" stroke-width="1.89" d="M231 836.8L237 836.8"/>
<path stroke-width="1.35" fill="#0000ff" d="M230.6 837.4L234 833.6L237.4 837.4ZM230.8 836.8L237.2 836.8L237.2 839.2L230.8 839.2Z"/>
<path stroke="#0000ff" stroke-width="1.89" d="M262.5 802.7L286.5 802.7"/>
<path stroke-width="1.35" fill="#0000ff" d="M271.1 803.3L274.5 799.5L277.9 803.3ZM271.3 802.7L277.7 802.7L277.7 805.1L271.3 805.1Z"/>
<path stroke="#0000ff" stroke-width="1.89" d="M267.5 809.4L281.5 809.4"/>
<path stroke-width="1.35" fill="#0000ff" d="M271.1 810L274.5 806.2L277.9 810ZM271.3 809.4L277.7 809.4L277.7 811.8L271.3 811.8Z"/>
<path stroke="#0000ff" stroke-width="1.89" d="M268.5 818.2L280.5 818.2"/>
<path stroke-width="1.35" fill="#0000ff" d="M271.1 818.8L274.5 815L277.9 818.8ZM271.3 818.2L277.7 818.2L277.7 820.6L271.3 820.6Z"/>
<path stroke="#0000ff" stroke-width="1.89" d="M262.5 834.8L286.5 834.8"/>
<path stroke-width="1.35" fill="#0000ff" d="M271.1 835.4L274.5 831.6L277.9 835.4ZM271.3 834.8L277.7 834.8L277.7 837.2L271.3 837.2Z"/>
<path stroke="#0000ff" stroke-width="1.89" d="M268.5 841.6L280.5 841.6"/>
<path stroke-width="1.35" fill="#0000ff" d="M271.1 842.2L274.5 838.4L277.9 842.2ZM271.3 841.6L277.7 841.6L277.7 844L271.3 844Z"/>
<path stroke="#ffffff" stroke-width="1.35" d="M268.1 847.7L268.1 916.1M280.5 847.7L280.5 916.1"/>
<path stroke="#ffffff" stroke-width="1.35" fill="#00c000" d="M268.1 854.6L280.5 854.6L280.5 861.5L286.7 861.5L286.7 875.3L280.5 875.3L280.5 879.5L268.1 879.5L268.1 875.3L263.2 875.3L263.2 861.5L268.1 861.5Z"/>
<path stroke="#ffffff" stroke-width="1.22" fill="#000" d="M270.8 855.3L277.7 855.3L277.7 878.8L270.8 878.8Z"/>
<path stroke="#ffffff" stroke-width="1.35" fill="#eee" d="M263.7 862.9a1.6 1.6 0 1 0 3.2 0a1.6 1.6 0 1 0 -3.2 0M263.7 872.3a1.6 1.6 0 1 0 3.2 0a1.6 1.6 0 1 0 -3.2 0"/>
<path stroke="#ff0000" stroke-width="1.35" d="M265.3 865L265.3 875.3"/>
<path stroke="#ffffff" stroke-width="1.35" fill="#eee" d="M282.4 862.9a1.6 1.6 0 1 0 3.2 0a1.6 1.6 0 1 0 -3.2 0M282.4 872.3a1.6 1.6 0 1 0 3.2 0a1.6 1.6 0 1 0 -3.2 0"/>
<path stroke="#ff0000" stroke-width="1.35" d="M284 865L284 875.3"/>
<path stroke="#0000ff" stroke-width="1.89" d="M269.6 857.7L279.6 857.7"/>
<path stroke-width="1.35" fill="#0000ff" d="M271.2 858.3L274.6 854.5L278 858.3ZM271.4 857.7L277.8 857.7L277.8 860.1L271.4 860.1Z"/>
<path stroke="#0000ff" stroke-width="1.89" d="M269.1 874L280.1 874"/>
<path stroke-width="1.35" fill="#0000ff" d="M271.2 874.6L274.6 870.8L278 874.6ZM271.4 874L277.8 874L277.8 876.4L271.4 876.4Z"/>
<path stroke="#0000ff" stroke-width="1.89" d="M271.1 881.6L278.1 881.6"/>
<path stroke-width="1.35" fill="#0000ff" d="M271.2 882.2L274.6 878.4L278 882.2ZM271.4 881.6L277.8 881.6L277.8 884L271.4 884Z"/>
<path stroke="#0000ff" stroke-width="1.89" d="M270.6 887.1L278.6 887.1"/>
<path stroke-width="1.35" fill="#0000ff" d="M271.2 887.7L274.6 883.9L278 887.7ZM271.4 887.1L277.8 887.1L277.8 889.5L271.4 889.5Z"/>
<path stroke="#ffffff" stroke-width="1.35" fill="#00c000" d="M257.7 889.2L291.6 889.2L291.6 911.3L257.7 911.3Z"/>
<path stroke="#ffffff" stroke-width="1.35" fill="#000" d="M265.3 894.7L284 894.7L284 905L265.3 905Z"/>
<path stroke="#ffffff" stroke-width="1.22" fill="#000" d="M270.1 889.2L279.1 889.2L279.1 911.3L270.1 911.3Z"/>
<path stroke="#ffffff" stroke-width="1.49" fill="#000" d="M250 889.5L257.6 889.5L257.6 894.3L250 894.3Z"/>
<path stroke="#ff0000" stroke-width="1.49" d="M251.2 891.9L256.4 891.9"/>
<path stroke="#ff0000" stroke-width="1.22" d="M255 888.4L255 895.4"/>
<path stroke="#ffffff" stroke-width="1.49" fill="#000" d="M291.2 889.5L298.8 889.5L298.8 894.3L291.2 894.3Z"/>
<path stroke="#ff0000" stroke-width="1.49" d="M292.4 891.9L297.6 891.9"/>
<path stroke="#ff0000" stroke-width="1.22" d="M293.8 888.4L293.8 895.4"/>
<path stroke="#ffffff" stroke-width="1.49" fill="#000" d="M250 906.1L257.6 906.1L257.6 910.9L250 910.9Z"/>
<path stroke="#ff0000" stroke-width="1.49" d="M251.2 908.5L256.4 908.5"/>
<path stroke="#ff0000" stroke-width="1.22" d="M255 905L255 912"/>
<path stroke="#ffffff" stroke-width="1.49" fill="#000" d="M291.2 906.1L298.8 906.1L298.8 910.9L291.2 910.9Z"/>
<path stroke="#ff0000" stroke-width="1.49" d="M292.4 908.5L297.6 908.5"/>
<path stroke="#ff0000" stroke-width="1.22" d="M293.8 905L293.8 912"/>
<path stroke="#ffffff" stroke-width="1.22" fill="#eee" d="M261.7 886.4a1.5 1.5 0 1 0 3 0a1.5 1.5 0 1 0 -3 0M265.2 886.4a1.5 1.5 0 1 0 3 0a1.5 1.5 0 1 0 -3 0M280.4 886.4a1.5 1.5 0 1 0 3 0a1.5 1.5 0 1 0 -3 0M283.8 886.4a1.5 1.5 0 1 0 3 0a1.5 1.5 0 1 0 -3 0"/>
<path stroke="#0000ff" stroke-width="1.89" d="M267.1 892.2L282.1 892.2"/>
<path stroke-width="1.35" fill="#0000ff" d="M271.2 892.8L274.6 889L278 892.8ZM271.4 892.2L277.8 892.2L277.8 894.6L271.4 894.6Z"/>
<path stroke="#0000ff" stroke-width="1.89" d="M270.1 898.1L279.1 898.1"/>
<path stroke-width="1.35" fill="#0000ff" d="M271.2 898.7L274.6 894.9L278 898.7ZM271.4 898.1L277.8 898.1L277.8 900.5L271.4 900.5Z"/>
<path stroke="#0000ff" stroke-width="1.89" d="M269.6 907.8L279.6 907.8"/>
<path stroke-width="1.35" fill="#0000ff" d="M271.2 908.4L274.6 904.6L278 908.4ZM271.4 907.8L277.8 907.8L277.8 910.2L271.4 910.2Z"/>
<path stroke="#0000ff" stroke-width="1.89" d="M269.6 918.2L279.6 918.2"/>
<path stroke-width="1.35" fill="#0000ff" d="M271.2 918.8L274.6 915L278 918.8ZM271.4 918.2L277.8 918.2L277.8 920.6L271.4 920.6Z"/>
<path stroke="#ffffff" stroke-width="1.49" d="M255.6 916.1L317.8 916.1L319.9 918.2L319.9 923.7L317.8 925.8L255.6 925.8Z"/>
<path stroke="#ffffff" stroke-width="1.35" d="M319.2 916.1L348.9 916.1M319.2 925.1L348.9 925.1"/>
<path stroke="#ff0000" stroke-width="1.62" d="M261.8 919.8L319.2 919.8M261.8 923L319.2 923"/>
<path stroke="#ff0000" stroke-width="2.03" d="M285.3 921.3L319.2 921.3"/>
<path stroke="#c08000" stroke-width="1.35" d="M261.8 921.3L285.3 921.3"/>
<path stroke="#ff0000" stroke-width="1.35" stroke-dasharray="3 2" d="M274.6 923.7L274.6 929.9"/>
<path stroke="#0000ff" stroke-width="1.35" d="M83.3 102.3L100.8 102.3M100.8 102.3L356.7 445.3"/>
<text transform="translate(91.5 96.3) scale(0.95 1)" text-anchor="middle" font-size="10.2" fill="#0000ff">25</text>
<path stroke="#0000ff" stroke-width="1.35" d="M124.5 102.3L140.1 102.3M140.1 102.3L386.1 421.5"/>
<text transform="translate(131.5 96.3) scale(0.95 1)" text-anchor="middle" font-size="10.2" fill="#0000ff">26</text>
<path stroke="#0000ff" stroke-width="1.35" d="M173.5 102.3L192 102.3M192 102.3L392.1 416.8"/>
<text transform="translate(182 96.3) scale(0.95 1)" text-anchor="middle" font-size="10.2" fill="#0000ff">27</text>
<path stroke="#0000ff" stroke-width="1.35" d="M216.5 102.3L232.8 102.3M232.8 102.3L390.9 404.8"/>
<text transform="translate(226.5 96.3) scale(0.95 1)" text-anchor="middle" font-size="10.2" fill="#0000ff">28</text>
<path stroke="#0000ff" stroke-width="1.35" d="M267.3 102.3L284.9 102.3M284.9 102.3L391.7 391.3"/>
<text transform="translate(274 97.6) scale(0.95 1)" text-anchor="middle" font-size="10.2" fill="#0000ff">29</text>
<path stroke="#0000ff" stroke-width="1.35" d="M299.5 102.8L314.7 102.8M314.7 102.8L400 391.7"/>
<text transform="translate(306.5 99.3) scale(0.95 1)" text-anchor="middle" font-size="10.2" fill="#0000ff">30</text>
<path stroke="#0000ff" stroke-width="1.35" d="M83.3 161.4L100.8 161.4M100.8 161.4L340.6 457"/>
<text transform="translate(92 154.7) scale(0.95 1)" text-anchor="middle" font-size="10.2" fill="#0000ff">24</text>
<path stroke="#0000ff" stroke-width="1.35" d="M83.3 223L100.8 223M100.8 223L275.5 417"/>
<text transform="translate(94 212) scale(0.95 1)" text-anchor="middle" font-size="10.2" fill="#0000ff">23</text>
<path stroke="#0000ff" stroke-width="1.35" d="M83.3 271.6L100.8 271.6M100.8 271.6L273.8 420.5"/>
<text transform="translate(90.5 261.6) scale(0.95 1)" text-anchor="middle" font-size="10.2" fill="#0000ff">22</text>
<path stroke="#0000ff" stroke-width="1.35" d="M83.3 297.2L100.8 297.2M100.8 297.2L281 427.2"/>
<text transform="translate(91 291.7) scale(0.95 1)" text-anchor="middle" font-size="10.2" fill="#0000ff">21</text>
<path stroke="#0000ff" stroke-width="1.35" d="M670.7 102.3L684.3 102.3M670.7 102.3L629.4 314.9"/>
<text transform="translate(678.5 99.4) scale(0.95 1)" text-anchor="middle" font-size="10.2" fill="#0000ff">31</text>
<path stroke="#0000ff" stroke-width="1.35" d="M699.3 102.3L712.7 102.3M699.3 102.3L661.7 273.5"/>
<text transform="translate(706.5 99.4) scale(0.95 1)" text-anchor="middle" font-size="10.2" fill="#0000ff">32</text>
<path stroke="#0000ff" stroke-width="1.35" d="M728 102.3L744.6 102.3M728 102.3L662.5 271"/>
<text transform="translate(736.5 99.4) scale(0.95 1)" text-anchor="middle" font-size="10.2" fill="#0000ff">33</text>
<path stroke="#0000ff" stroke-width="1.35" d="M751.8 102.3L766 102.3M751.8 102.3L671 282.2"/>
<text transform="translate(759.5 99.4) scale(0.95 1)" text-anchor="middle" font-size="10.2" fill="#0000ff">34</text>
<path stroke="#0000ff" stroke-width="1.35" d="M774.2 102.3L786 102.3M774.2 102.3L695.7 290.2"/>
<text transform="translate(782.5 99.4) scale(0.95 1)" text-anchor="middle" font-size="10.2" fill="#0000ff">35</text>
<path stroke="#0000ff" stroke-width="1.35" d="M801.9 102.3L814.8 102.3M801.9 102.3L715 279.2"/>
<text transform="translate(809.5 99.4) scale(0.95 1)" text-anchor="middle" font-size="10.2" fill="#0000ff">36</text>
<path stroke="#0000ff" stroke-width="1.35" d="M837.3 102.3L857.6 102.3M837.3 102.3L712.1 320.8"/>
<text transform="translate(848.5 97.5) scale(0.95 1)" text-anchor="middle" font-size="10.2" fill="#0000ff">37</text>
<path stroke="#0000ff" stroke-width="1.35" d="M931.4 102.3L950.9 102.3M931.4 102.3L915 168"/>
<text transform="translate(942.5 98.9) scale(0.95 1)" text-anchor="middle" font-size="10.2" fill="#0000ff">38</text>
<path stroke="#0000ff" stroke-width="1.35" d="M977.6 102.3L998 102.3M977.6 102.3L949.6 197.3"/>
<text transform="translate(990 99.7) scale(0.95 1)" text-anchor="middle" font-size="10.2" fill="#0000ff">39</text>
<path stroke="#0000ff" stroke-width="1.35" d="M1016.5 102.3L1040.2 102.3M1016.5 102.3L898.2 410.2"/>
<text transform="translate(1028 99.7) scale(0.95 1)" text-anchor="middle" font-size="10.2" fill="#0000ff">40</text>
<path stroke="#0000ff" stroke-width="1.35" d="M1055.4 102.3L1079.7 102.3M1055.4 102.3L943 447.9"/>
<text transform="translate(1068.5 98.9) scale(0.95 1)" text-anchor="middle" font-size="10.2" fill="#0000ff">41</text>
<path stroke="#0000ff" stroke-width="1.35" d="M1094.2 102.3L1118 102.3M1094.2 102.3L993.6 364.4"/>
<text transform="translate(1107 99.7) scale(0.95 1)" text-anchor="middle" font-size="10.2" fill="#0000ff">42</text>
<path stroke="#0000ff" stroke-width="1.35" d="M1130.9 102.3L1151 102.3M1130.9 102.3L972.1 449"/>
<text transform="translate(1138 99.7) scale(0.95 1)" text-anchor="middle" font-size="10.2" fill="#0000ff">43</text>
<path stroke="#0000ff" stroke-width="1.35" d="M1203.5 102.3L1219.5 102.3M1203.5 102.3L1175.7 190.2"/>
<text transform="translate(1212.5 98.9) scale(0.95 1)" text-anchor="middle" font-size="10.2" fill="#0000ff">44</text>
<path stroke="#0000ff" stroke-width="1.35" d="M1236.7 102.3L1251.9 102.3M1236.7 102.3L1195 210.1"/>
<text transform="translate(1246 98.9) scale(0.95 1)" text-anchor="middle" font-size="10.2" fill="#0000ff">45</text>
<path stroke="#0000ff" stroke-width="1.35" d="M1262.7 102.3L1282.1 102.3M1262.7 102.3L1195 210.6"/>
<text transform="translate(1273.5 98.9) scale(0.95 1)" text-anchor="middle" font-size="10.2" fill="#0000ff">46</text>
<path stroke="#0000ff" stroke-width="1.35" d="M1295 102.3L1312.3 102.3M1295 102.3L1195.4 211.3"/>
<text transform="translate(1305 98.9) scale(0.95 1)" text-anchor="middle" font-size="10.2" fill="#0000ff">47</text>
<path stroke="#0000ff" stroke-width="1.35" d="M1331.7 102.3L1349.9 102.3M1331.7 102.3L1195 220.4"/>
<text transform="translate(1341 98.9) scale(0.95 1)" text-anchor="middle" font-size="10.2" fill="#0000ff">48</text>
<path stroke="#0000ff" stroke-width="1.35" d="M1362 102.3L1383.6 102.3M1362 102.3L1195 224.6"/>
<text transform="translate(1372.5 98.9) scale(0.95 1)" text-anchor="middle" font-size="10.2" fill="#0000ff">49</text>
<path stroke="#0000ff" stroke-width="1.35" d="M1422.3 102.3L1440.8 102.3M1422.3 102.3L1212.3 389.4"/>
<text transform="translate(1432 97.3) scale(0.95 1)" text-anchor="middle" font-size="10.2" fill="#0000ff">50</text>
<path stroke="#0000ff" stroke-width="1.35" d="M1422.3 143.5L1440.8 143.5M1422.3 143.5L1220.7 389.4"/>
<text transform="translate(1432 137.1) scale(0.95 1)" text-anchor="middle" font-size="10.2" fill="#0000ff">51</text>
<path stroke="#0000ff" stroke-width="1.35" d="M1422.3 173.3L1440.8 173.3M1422.3 173.3L1222.6 390.7"/>
<text transform="translate(1432 165.3) scale(0.95 1)" text-anchor="middle" font-size="10.2" fill="#0000ff">52</text>
<path stroke="#0000ff" stroke-width="1.35" d="M1422.3 211.4L1440.8 211.4M1422.3 211.4L1225.2 394.6"/>
<text transform="translate(1432 203.1) scale(0.95 1)" text-anchor="middle" font-size="10.2" fill="#0000ff">53</text>
<path stroke="#0000ff" stroke-width="1.35" d="M1422.3 244.3L1440.8 244.3M1422.3 244.3L1229.1 401.7"/>
<text transform="translate(1432 236.6) scale(0.95 1)" text-anchor="middle" font-size="10.2" fill="#0000ff">54</text>
<path stroke="#0000ff" stroke-width="1.35" d="M1422.3 278L1442.5 278M1422.3 278L1154 468.4"/>
<text transform="translate(1432 271.7) scale(0.95 1)" text-anchor="middle" font-size="10.2" fill="#0000ff">55</text>
<path stroke="#0000ff" stroke-width="1.35" d="M1422.3 312.3L1440.8 312.3M1422.3 312.3L1218.1 456.1"/>
<text transform="translate(1432 307.6) scale(0.95 1)" text-anchor="middle" font-size="10.2" fill="#0000ff">56</text>
<path stroke="#0000ff" stroke-width="1.35" d="M1422.3 337.1L1440.8 337.1M1422.3 337.1L1231 489.8"/>
<text transform="translate(1432 332.4) scale(0.95 1)" text-anchor="middle" font-size="10.2" fill="#0000ff">57</text>
<path stroke="#0000ff" stroke-width="1.35" d="M1422.3 366.1L1440.8 366.1M1422.3 366.1L1247.2 496.3"/>
<text transform="translate(1432 362) scale(0.95 1)" text-anchor="middle" font-size="10.2" fill="#0000ff">58</text>
<path stroke="#0000ff" stroke-width="1.35" d="M83.6 912.5L100 912.5M100 912.5L381.8 960.8"/>
<text transform="translate(91 911.7) scale(0.95 1)" text-anchor="middle" font-size="10.2" fill="#0000ff">1</text>
<path stroke="#0000ff" stroke-width="1.35" d="M83.6 898.3L100 898.3M100 898.3L260.5 923.7"/>
<text transform="translate(91 896.1) scale(0.95 1)" text-anchor="middle" font-size="10.2" fill="#0000ff">2</text>
<path stroke="#0000ff" stroke-width="1.35" d="M83.6 883.8L100 883.8M100 883.8L269.4 914.7"/>
<text transform="translate(91 879.8) scale(0.95 1)" text-anchor="middle" font-size="10.2" fill="#0000ff">3</text>
<path stroke="#0000ff" stroke-width="1.35" d="M83.6 868.9L100 868.9M100 868.9L270.1 907.8"/>
<text transform="translate(91 864.6) scale(0.95 1)" text-anchor="middle" font-size="10.2" fill="#0000ff">4</text>
<path stroke="#0000ff" stroke-width="1.35" d="M83.6 854.4L100 854.4M100 854.4L269.4 902.3"/>
<text transform="translate(91 851.2) scale(0.95 1)" text-anchor="middle" font-size="10.2" fill="#0000ff">5</text>
<path stroke="#0000ff" stroke-width="1.35" d="M83.6 839.9L100 839.9M100 839.9L264.6 889.2"/>
<text transform="translate(91 835.6) scale(0.95 1)" text-anchor="middle" font-size="10.2" fill="#0000ff">6</text>
<path stroke="#0000ff" stroke-width="1.35" d="M83.6 820.3L100 820.3M100 820.3L266.7 887.1"/>
<text transform="translate(91 813.8) scale(0.95 1)" text-anchor="middle" font-size="10.2" fill="#0000ff">7</text>
<path stroke="#0000ff" stroke-width="1.35" d="M83.6 802.2L100 802.2M100 802.2L267.4 885"/>
<text transform="translate(91 796.7) scale(0.95 1)" text-anchor="middle" font-size="10.2" fill="#0000ff">8</text>
<path stroke="#0000ff" stroke-width="1.35" d="M83.6 784L100 784M100 784L269.4 870.5"/>
<text transform="translate(91 779) scale(0.95 1)" text-anchor="middle" font-size="10.2" fill="#0000ff">9</text>
<path stroke="#0000ff" stroke-width="1.35" d="M83.6 766.6L100 766.6M100 766.6L265.3 862.9"/>
<text transform="translate(93 761.9) scale(0.95 1)" text-anchor="middle" font-size="10.2" fill="#0000ff">10</text>
<path stroke="#0000ff" stroke-width="1.35" d="M83.6 746.7L100 746.7M100 746.7L248 844.9"/>
<text transform="translate(93 738.7) scale(0.95 1)" text-anchor="middle" font-size="10.2" fill="#0000ff">11</text>
<path stroke="#0000ff" stroke-width="1.35" d="M83.6 722.4L100 722.4M100 722.4L234.2 835.3"/>
<text transform="translate(93 714.8) scale(0.95 1)" text-anchor="middle" font-size="10.2" fill="#0000ff">12</text>
<path stroke="#0000ff" stroke-width="1.35" d="M83.6 700.3L100 700.3M100 700.3L231.5 825.6"/>
<text transform="translate(93 693.7) scale(0.95 1)" text-anchor="middle" font-size="10.2" fill="#0000ff">13</text>
<path stroke="#0000ff" stroke-width="1.35" d="M83.6 678.9L100 678.9M100 678.9L223.2 825.6"/>
<text transform="translate(93 673.1) scale(0.95 1)" text-anchor="middle" font-size="10.2" fill="#0000ff">14</text>
<path stroke="#0000ff" stroke-width="1.35" d="M83.6 658.6L100 658.6M100 658.6L232.3 810.2"/>
<text transform="translate(93 650.6) scale(0.95 1)" text-anchor="middle" font-size="10.2" fill="#0000ff">15</text>
<path stroke="#0000ff" stroke-width="1.35" d="M83.6 635.3L100 635.3M100 635.3L217.1 799.3"/>
<text transform="translate(93 630.6) scale(0.95 1)" text-anchor="middle" font-size="10.2" fill="#0000ff">16</text>
<path stroke="#0000ff" stroke-width="1.35" d="M83.6 617.9L100 617.9M100 617.9L232.3 781.9"/>
<text transform="translate(93 612.1) scale(0.95 1)" text-anchor="middle" font-size="10.2" fill="#0000ff">17</text>
<path stroke="#0000ff" stroke-width="1.35" d="M83.6 594.4L100 594.4M100 594.4L226.9 770.3"/>
<text transform="translate(93 585.3) scale(0.95 1)" text-anchor="middle" font-size="10.2" fill="#0000ff">18</text>
<path stroke="#0000ff" stroke-width="1.35" d="M83.6 566.4L100 566.4M100 566.4L219.6 747.4"/>
<text transform="translate(93 563.5) scale(0.95 1)" text-anchor="middle" font-size="10.2" fill="#0000ff">19</text>
<path stroke="#0000ff" stroke-width="1.35" d="M83.6 542.5L100 542.5M100 542.5L262.5 695"/>
<text transform="translate(93 537) scale(0.95 1)" text-anchor="middle" font-size="10.2" fill="#0000ff">20</text>
<path stroke="#0000ff" stroke-width="1.49" d="M1472.6 677.3L1762 677.3M1472.6 688.5L1762 688.5M1472.6 699.7L1762 699.7M1472.6 710.8L1762 710.8M1472.6 722L1762 722M1472.6 733.2L1762 733.2M1472.6 744.4L1762 744.4M1472.6 755.5L1762 755.5M1472.6 766.7L1762 766.7M1472.6 777.9L1762 777.9M1472.6 789.1L1762 789.1M1472.6 800.3L1762 800.3M1472.6 811.4L1762 811.4M1472.6 822.6L1762 822.6M1472.6 833.8L1762 833.8M1472.6 845L1762 845M1472.6 856.1L1762 856.1M1472.6 867.3L1762 867.3M1472.6 878.5L1762 878.5M1472.6 889.7L1762 889.7M1472.6 900.9L1762 900.9M1472.6 912L1762 912M1472.6 923.2L1762 923.2M1472.6 934.4L1762 934.4M1472.6 945.6L1762 945.6M1472.6 956.8L1762 956.8M1472.6 967.9L1762 967.9M1472.6 979.1L1762 979.1M1472.6 990.3L1762 990.3M1472.6 1001.5L1762 1001.5M1472.6 1012.6L1762 1012.6M1472.6 1023.8L1762 1023.8M1472.6 1035L1762 1035M1472.6 1046.2L1762 1046.2M1472.6 1057.4L1762 1057.4M1472.6 1068.5L1762 1068.5M1472.6 1079.7L1762 1079.7M1472.6 1090.9L1762 1090.9M1472.6 677.3L1472.6 1090.9M1488.6 677.3L1488.6 1090.9M1575 677.3L1575 1090.9M1600.4 677.3L1600.4 1090.9M1680.4 677.3L1680.4 1090.9"/>
<text transform="translate(1480.6 685.9) scale(0.86 1)" text-anchor="middle" class="b" font-size="9" fill="#0000ff">36</text><text transform="translate(1528.2 685.9) scale(0.69 1)" class="b" font-size="7.4" fill="#0000ff">螺钉</text><text transform="translate(1587.7 685.4) scale(0.85 1)" text-anchor="middle" class="b" font-size="8.6" fill="#0000ff">4</text><text transform="translate(1480.6 697.1) scale(0.86 1)" text-anchor="middle" class="b" font-size="9" fill="#0000ff">35</text><text transform="translate(1525.6 697.1) scale(0.69 1)" class="b" font-size="7.4" fill="#0000ff">配电箱</text><text transform="translate(1587.7 696.6) scale(0.85 1)" text-anchor="middle" class="b" font-size="8.6" fill="#0000ff">1</text><text transform="translate(1640.9 695.9) scale(0.98 1)" text-anchor="middle" class="b" font-size="6.8" fill="#0000ff">HT200</text><text transform="translate(1480.6 708.2) scale(0.86 1)" text-anchor="middle" class="b" font-size="9" fill="#0000ff">34</text><text transform="translate(1525.6 708.2) scale(0.69 1)" class="b" font-size="7.4" fill="#0000ff">支撑板</text><text transform="translate(1587.7 707.7) scale(0.85 1)" text-anchor="middle" class="b" font-size="8.6" fill="#0000ff">1</text><text transform="translate(1640.9 707) scale(0.98 1)" text-anchor="middle" class="b" font-size="6.8" fill="#0000ff">HT200</text><text transform="translate(1480.6 719.4) scale(0.86 1)" text-anchor="middle" class="b" font-size="9" fill="#0000ff">33</text><text transform="translate(1515.7 719.4) scale(0.69 1)" class="b" font-size="7.4" fill="#0000ff">弹簧垫圈</text><text transform="translate(1536.2 719.8) scale(0.86 1)" class="b" font-size="8.8" fill="#0000ff">M20</text><text transform="translate(1587.7 718.9) scale(0.85 1)" text-anchor="middle" class="b" font-size="8.6" fill="#0000ff">1</text><text transform="translate(1640.9 718.2) scale(0.98 1)" text-anchor="middle" class="b" font-size="6.8" fill="#0000ff">65Mn</text><text transform="translate(1720.4 718.2) scale(1.03 1)" text-anchor="middle" class="b" font-size="6.8" fill="#0000ff">GB/T93-87</text><text transform="translate(1480.6 730.6) scale(0.86 1)" text-anchor="middle" class="b" font-size="9" fill="#0000ff">32</text><text transform="translate(1514.1 730.6) scale(0.69 1)" class="b" font-size="7.4" fill="#0000ff">螺钉</text><text transform="translate(1524.3 731) scale(0.86 1)" class="b" font-size="8.8" fill="#0000ff">M20X28</text><text transform="translate(1587.7 730.1) scale(0.85 1)" text-anchor="middle" class="b" font-size="8.6" fill="#0000ff">4</text><text transform="translate(1640.9 729.4) scale(0.98 1)" text-anchor="middle" class="b" font-size="6.8" fill="#0000ff">Q235</text><text transform="translate(1720.4 729.4) scale(1.03 1)" text-anchor="middle" class="b" font-size="6.8" fill="#0000ff">GB70-85</text><text transform="translate(1480.6 741.8) scale(0.86 1)" text-anchor="middle" class="b" font-size="9" fill="#0000ff">31</text><text transform="translate(1523.1 741.8) scale(0.69 1)" class="b" font-size="7.4" fill="#0000ff">偏块导板</text><text transform="translate(1587.7 741.3) scale(0.85 1)" text-anchor="middle" class="b" font-size="8.6" fill="#0000ff">1</text><text transform="translate(1640.9 740.6) scale(0.98 1)" text-anchor="middle" class="b" font-size="6.8" fill="#0000ff">Q235</text><text transform="translate(1480.6 752.9) scale(0.86 1)" text-anchor="middle" class="b" font-size="9" fill="#0000ff">30</text><text transform="translate(1523.1 752.9) scale(0.69 1)" class="b" font-size="7.4" fill="#0000ff">小滑圈轮</text><text transform="translate(1587.7 752.4) scale(0.85 1)" text-anchor="middle" class="b" font-size="8.6" fill="#0000ff">1</text><text transform="translate(1640.9 751.7) scale(0.98 1)" text-anchor="middle" class="b" font-size="6.8" fill="#0000ff">GCr15</text><text transform="translate(1480.6 764.1) scale(0.86 1)" text-anchor="middle" class="b" font-size="9" fill="#0000ff">29</text><text transform="translate(1516.7 764.1) scale(0.69 1)" class="b" font-size="7.4" fill="#0000ff">链</text><text transform="translate(1521.8 764.5) scale(0.86 1)" class="b" font-size="8.8" fill="#0000ff">M22X50</text><text transform="translate(1587.7 763.6) scale(0.85 1)" text-anchor="middle" class="b" font-size="8.6" fill="#0000ff">1</text><text transform="translate(1640.9 762.9) scale(0.98 1)" text-anchor="middle" class="b" font-size="6.8" fill="#0000ff">40</text><text transform="translate(1720.4 762.9) scale(1.03 1)" text-anchor="middle" class="b" font-size="6.8" fill="#0000ff">GB/T1244-1985</text><text transform="translate(1480.6 775.3) scale(0.86 1)" text-anchor="middle" class="b" font-size="9" fill="#0000ff">28</text><text transform="translate(1525.6 775.3) scale(0.69 1)" class="b" font-size="7.4" fill="#0000ff">支承轴</text><text transform="translate(1587.7 774.8) scale(0.85 1)" text-anchor="middle" class="b" font-size="8.6" fill="#0000ff">1</text><text transform="translate(1640.9 774.1) scale(0.98 1)" text-anchor="middle" class="b" font-size="6.8" fill="#0000ff">45</text><text transform="translate(1480.6 786.5) scale(0.86 1)" text-anchor="middle" class="b" font-size="9" fill="#0000ff">27</text><text transform="translate(1516.2 786.5) scale(0.69 1)" class="b" font-size="7.4" fill="#0000ff">螺钉</text><text transform="translate(1526.4 786.9) scale(0.86 1)" class="b" font-size="8.8" fill="#0000ff">M8X12</text><text transform="translate(1587.7 786) scale(0.85 1)" text-anchor="middle" class="b" font-size="8.6" fill="#0000ff">4</text><text transform="translate(1640.9 785.3) scale(0.98 1)" text-anchor="middle" class="b" font-size="6.8" fill="#0000ff">Q235</text><text transform="translate(1720.4 785.3) scale(1.03 1)" text-anchor="middle" class="b" font-size="6.8" fill="#0000ff">GB70-85</text><text transform="translate(1480.6 797.7) scale(0.86 1)" text-anchor="middle" class="b" font-size="9" fill="#0000ff">26</text><text transform="translate(1525.6 797.7) scale(0.69 1)" class="b" font-size="7.4" fill="#0000ff">大链轮</text><text transform="translate(1587.7 797.2) scale(0.85 1)" text-anchor="middle" class="b" font-size="8.6" fill="#0000ff">1</text><text transform="translate(1640.9 796.5) scale(0.98 1)" text-anchor="middle" class="b" font-size="6.8" fill="#0000ff">40</text><text transform="translate(1720.4 796.5) scale(1.03 1)" text-anchor="middle" class="b" font-size="6.8" fill="#0000ff">GB/T1244-1985</text><text transform="translate(1480.6 808.8) scale(0.86 1)" text-anchor="middle" class="b" font-size="9" fill="#0000ff">25</text><text transform="translate(1514.1 808.8) scale(0.69 1)" class="b" font-size="7.4" fill="#0000ff">螺栓</text><text transform="translate(1524.3 809.2) scale(0.86 1)" class="b" font-size="8.8" fill="#0000ff">M14X50</text><text transform="translate(1587.7 808.3) scale(0.85 1)" text-anchor="middle" class="b" font-size="8.6" fill="#0000ff">10</text><text transform="translate(1640.9 807.6) scale(0.98 1)" text-anchor="middle" class="b" font-size="6.8" fill="#0000ff">Q235</text><text transform="translate(1720.4 807.6) scale(1.03 1)" text-anchor="middle" class="b" font-size="6.8" fill="#0000ff">GB/T5782-00</text><text transform="translate(1480.6 820) scale(0.86 1)" text-anchor="middle" class="b" font-size="9" fill="#0000ff">24</text><text transform="translate(1523.1 820) scale(0.69 1)" class="b" font-size="7.4" fill="#0000ff">张紧装置</text><text transform="translate(1587.7 819.5) scale(0.85 1)" text-anchor="middle" class="b" font-size="8.6" fill="#0000ff">1</text><text transform="translate(1480.6 831.2) scale(0.86 1)" text-anchor="middle" class="b" font-size="9" fill="#0000ff">23</text><text transform="translate(1516.7 831.2) scale(0.69 1)" class="b" font-size="7.4" fill="#0000ff">键</text><text transform="translate(1521.8 831.6) scale(0.86 1)" class="b" font-size="8.8" fill="#0000ff">M12X22</text><text transform="translate(1587.7 830.7) scale(0.85 1)" text-anchor="middle" class="b" font-size="8.6" fill="#0000ff">1</text><text transform="translate(1640.9 830) scale(0.98 1)" text-anchor="middle" class="b" font-size="6.8" fill="#0000ff">45</text><text transform="translate(1720.4 830) scale(1.03 1)" text-anchor="middle" class="b" font-size="6.8" fill="#0000ff">GB1096-79</text><text transform="translate(1480.6 842.4) scale(0.86 1)" text-anchor="middle" class="b" font-size="9" fill="#0000ff">22</text><text transform="translate(1525.6 842.4) scale(0.69 1)" class="b" font-size="7.4" fill="#0000ff">小链轮</text><text transform="translate(1587.7 841.9) scale(0.85 1)" text-anchor="middle" class="b" font-size="8.6" fill="#0000ff">1</text><text transform="translate(1640.9 841.2) scale(0.98 1)" text-anchor="middle" class="b" font-size="6.8" fill="#0000ff">40</text><text transform="translate(1720.4 841.2) scale(1.03 1)" text-anchor="middle" class="b" font-size="6.8" fill="#0000ff">GB/T1244-1985</text><text transform="translate(1480.6 853.5) scale(0.86 1)" text-anchor="middle" class="b" font-size="9" fill="#0000ff">21</text><text transform="translate(1528.2 853.5) scale(0.69 1)" class="b" font-size="7.4" fill="#0000ff">主轴</text><text transform="translate(1587.7 853) scale(0.85 1)" text-anchor="middle" class="b" font-size="8.6" fill="#0000ff">1</text><text transform="translate(1640.9 852.3) scale(0.98 1)" text-anchor="middle" class="b" font-size="6.8" fill="#0000ff">45</text><text transform="translate(1480.6 864.7) scale(0.86 1)" text-anchor="middle" class="b" font-size="9" fill="#0000ff">20</text><text transform="translate(1514.1 864.7) scale(0.69 1)" class="b" font-size="7.4" fill="#0000ff">螺栓</text><text transform="translate(1524.3 865.1) scale(0.86 1)" class="b" font-size="8.8" fill="#0000ff">M18X52</text><text transform="translate(1587.7 864.2) scale(0.85 1)" text-anchor="middle" class="b" font-size="8.6" fill="#0000ff">4</text><text transform="translate(1640.9 863.5) scale(0.98 1)" text-anchor="middle" class="b" font-size="6.8" fill="#0000ff">Q235</text><text transform="translate(1720.4 863.5) scale(1.03 1)" text-anchor="middle" class="b" font-size="6.8" fill="#0000ff">GB/T5782-00</text><text transform="translate(1480.6 875.9) scale(0.86 1)" text-anchor="middle" class="b" font-size="9" fill="#0000ff">19</text><text transform="translate(1509 875.9) scale(0.69 1)" class="b" font-size="7.4" fill="#0000ff">地脚螺栓</text><text transform="translate(1529.4 876.3) scale(0.86 1)" class="b" font-size="8.8" fill="#0000ff">M22X40</text><text transform="translate(1587.7 875.4) scale(0.85 1)" text-anchor="middle" class="b" font-size="8.6" fill="#0000ff">8</text><text transform="translate(1640.9 874.7) scale(0.98 1)" text-anchor="middle" class="b" font-size="6.8" fill="#0000ff">Q235</text><text transform="translate(1480.6 887.1) scale(0.86 1)" text-anchor="middle" class="b" font-size="9" fill="#0000ff">18</text><text transform="translate(1506.1 887.5) scale(0.86 1)" class="b" font-size="8.8" fill="#0000ff">Y</text><text transform="translate(1514.5 887.1) scale(0.69 1)" class="b" font-size="7.4" fill="#0000ff">系列三相异步电动机</text><text transform="translate(1587.7 886.6) scale(0.85 1)" text-anchor="middle" class="b" font-size="8.6" fill="#0000ff">1</text><text transform="translate(1720.4 885.9) scale(1.03 1)" text-anchor="middle" class="b" font-size="6.8" fill="#0000ff">Y132M-8</text><text transform="translate(1480.6 898.3) scale(0.86 1)" text-anchor="middle" class="b" font-size="9" fill="#0000ff">17</text><text transform="translate(1516.2 898.3) scale(0.69 1)" class="b" font-size="7.4" fill="#0000ff">螺栓</text><text transform="translate(1526.4 898.7) scale(0.86 1)" class="b" font-size="8.8" fill="#0000ff">M8X56</text><text transform="translate(1587.7 897.8) scale(0.85 1)" text-anchor="middle" class="b" font-size="8.6" fill="#0000ff">4</text><text transform="translate(1640.9 897.1) scale(0.98 1)" text-anchor="middle" class="b" font-size="6.8" fill="#0000ff">Q235</text><text transform="translate(1720.4 897.1) scale(1.03 1)" text-anchor="middle" class="b" font-size="6.8" fill="#0000ff">GB/T5782-00</text><text transform="translate(1480.6 909.4) scale(0.86 1)" text-anchor="middle" class="b" font-size="9" fill="#0000ff">16</text><text transform="translate(1525.6 909.4) scale(0.69 1)" class="b" font-size="7.4" fill="#0000ff">联轴器</text><text transform="translate(1587.7 908.9) scale(0.85 1)" text-anchor="middle" class="b" font-size="8.6" fill="#0000ff">1</text><text transform="translate(1640.9 908.2) scale(0.98 1)" text-anchor="middle" class="b" font-size="6.8" fill="#0000ff">45</text><text transform="translate(1720.4 908.2) scale(1.03 1)" text-anchor="middle" class="b" font-size="6.8" fill="#0000ff">GB/T5843-86</text><text transform="translate(1480.6 920.6) scale(0.86 1)" text-anchor="middle" class="b" font-size="9" fill="#0000ff">15</text><text transform="translate(1525.6 920.6) scale(0.69 1)" class="b" font-size="7.4" fill="#0000ff">减速器</text><text transform="translate(1587.7 920.1) scale(0.85 1)" text-anchor="middle" class="b" font-size="8.6" fill="#0000ff">1</text><text transform="translate(1640.9 919.4) scale(0.98 1)" text-anchor="middle" class="b" font-size="6.8" fill="#0000ff">HT200</text><text transform="translate(1720.4 919.4) scale(1.03 1)" text-anchor="middle" class="b" font-size="6.8" fill="#0000ff">JB/T8853-2001</text><text transform="translate(1480.6 931.8) scale(0.86 1)" text-anchor="middle" class="b" font-size="9" fill="#0000ff">14</text><text transform="translate(1516.2 931.8) scale(0.69 1)" class="b" font-size="7.4" fill="#0000ff">螺栓</text><text transform="translate(1526.4 932.2) scale(0.86 1)" class="b" font-size="8.8" fill="#0000ff">M8X50</text><text transform="translate(1587.7 931.3) scale(0.85 1)" text-anchor="middle" class="b" font-size="8.6" fill="#0000ff">4</text><text transform="translate(1640.9 930.6) scale(0.98 1)" text-anchor="middle" class="b" font-size="6.8" fill="#0000ff">Q235</text><text transform="translate(1720.4 930.6) scale(1.03 1)" text-anchor="middle" class="b" font-size="6.8" fill="#0000ff">GB/T5782-00</text><text transform="translate(1480.6 943) scale(0.86 1)" text-anchor="middle" class="b" font-size="9" fill="#0000ff">13</text><text transform="translate(1525.6 943) scale(0.69 1)" class="b" font-size="7.4" fill="#0000ff">联轴器</text><text transform="translate(1587.7 942.5) scale(0.85 1)" text-anchor="middle" class="b" font-size="8.6" fill="#0000ff">1</text><text transform="translate(1640.9 941.8) scale(0.98 1)" text-anchor="middle" class="b" font-size="6.8" fill="#0000ff">45</text><text transform="translate(1720.4 941.8) scale(1.03 1)" text-anchor="middle" class="b" font-size="6.8" fill="#0000ff">GB/T5843-86</text><text transform="translate(1480.6 954.1) scale(0.86 1)" text-anchor="middle" class="b" font-size="9" fill="#0000ff">12</text><text transform="translate(1528.2 954.1) scale(0.69 1)" class="b" font-size="7.4" fill="#0000ff">毡圈</text><text transform="translate(1587.7 953.6) scale(0.85 1)" text-anchor="middle" class="b" font-size="8.6" fill="#0000ff">1</text><text transform="translate(1640.9 952.9) scale(0.98 1)" text-anchor="middle" class="b" font-size="6.8" fill="#0000ff">半粗毡</text><text transform="translate(1720.4 952.9) scale(1.03 1)" text-anchor="middle" class="b" font-size="6.8" fill="#0000ff">JB/ZQ4606-86</text><text transform="translate(1480.6 965.3) scale(0.86 1)" text-anchor="middle" class="b" font-size="9" fill="#0000ff">11</text><text transform="translate(1523.1 965.3) scale(0.69 1)" class="b" font-size="7.4" fill="#0000ff">轴承端盖</text><text transform="translate(1587.7 964.8) scale(0.85 1)" text-anchor="middle" class="b" font-size="8.6" fill="#0000ff">2</text><text transform="translate(1640.9 964.1) scale(0.98 1)" text-anchor="middle" class="b" font-size="6.8" fill="#0000ff">HT200</text><text transform="translate(1480.6 976.5) scale(0.86 1)" text-anchor="middle" class="b" font-size="9" fill="#0000ff">10</text><text transform="translate(1517.8 976.5) scale(0.69 1)" class="b" font-size="7.4" fill="#0000ff">弹簧垫圈</text><text transform="translate(1538.3 976.9) scale(0.86 1)" class="b" font-size="8.8" fill="#0000ff">M8</text><text transform="translate(1587.7 976) scale(0.85 1)" text-anchor="middle" class="b" font-size="8.6" fill="#0000ff">1</text><text transform="translate(1640.9 975.3) scale(0.98 1)" text-anchor="middle" class="b" font-size="6.8" fill="#0000ff">65Mn</text><text transform="translate(1720.4 975.3) scale(1.03 1)" text-anchor="middle" class="b" font-size="6.8" fill="#0000ff">GB/T93-87</text><text transform="translate(1480.6 987.7) scale(0.86 1)" text-anchor="middle" class="b" font-size="9" fill="#0000ff">9</text><text transform="translate(1516.2 987.7) scale(0.69 1)" class="b" font-size="7.4" fill="#0000ff">螺钉</text><text transform="translate(1526.4 988.1) scale(0.86 1)" class="b" font-size="8.8" fill="#0000ff">M8X16</text><text transform="translate(1587.7 987.2) scale(0.85 1)" text-anchor="middle" class="b" font-size="8.6" fill="#0000ff">4</text><text transform="translate(1640.9 986.5) scale(0.98 1)" text-anchor="middle" class="b" font-size="6.8" fill="#0000ff">Q235</text><text transform="translate(1720.4 986.5) scale(1.03 1)" text-anchor="middle" class="b" font-size="6.8" fill="#0000ff">GB70-85</text><text transform="translate(1480.6 998.9) scale(0.86 1)" text-anchor="middle" class="b" font-size="9" fill="#0000ff">8</text><text transform="translate(1528.2 998.9) scale(0.69 1)" class="b" font-size="7.4" fill="#0000ff">套筒</text><text transform="translate(1587.7 998.4) scale(0.85 1)" text-anchor="middle" class="b" font-size="8.6" fill="#0000ff">1</text><text transform="translate(1640.9 997.7) scale(0.98 1)" text-anchor="middle" class="b" font-size="6.8" fill="#0000ff">45</text><text transform="translate(1720.4 997.7) scale(1.03 1)" text-anchor="middle" class="b" font-size="6.8" fill="#0000ff">GB/T848-85</text><text transform="translate(1480.6 1010) scale(0.86 1)" text-anchor="middle" class="b" font-size="9" fill="#0000ff">7</text><text transform="translate(1516.2 1010) scale(0.69 1)" class="b" font-size="7.4" fill="#0000ff">螺栓</text><text transform="translate(1526.4 1010.4) scale(0.86 1)" class="b" font-size="8.8" fill="#0000ff">M8X22</text><text transform="translate(1587.7 1009.5) scale(0.85 1)" text-anchor="middle" class="b" font-size="8.6" fill="#0000ff">4</text><text transform="translate(1640.9 1008.8) scale(0.98 1)" text-anchor="middle" class="b" font-size="6.8" fill="#0000ff">Q235</text><text transform="translate(1720.4 1008.8) scale(1.03 1)" text-anchor="middle" class="b" font-size="6.8" fill="#0000ff">GB/T5782-00</text><text transform="translate(1480.6 1021.2) scale(0.86 1)" text-anchor="middle" class="b" font-size="9" fill="#0000ff">6</text><text transform="translate(1528.2 1021.2) scale(0.69 1)" class="b" font-size="7.4" fill="#0000ff">套筒</text><text transform="translate(1587.7 1020.7) scale(0.85 1)" text-anchor="middle" class="b" font-size="8.6" fill="#0000ff">1</text><text transform="translate(1640.9 1020) scale(0.98 1)" text-anchor="middle" class="b" font-size="6.8" fill="#0000ff">45</text><text transform="translate(1480.6 1032.4) scale(0.86 1)" text-anchor="middle" class="b" font-size="9" fill="#0000ff">5</text><text transform="translate(1520.5 1032.4) scale(0.69 1)" class="b" font-size="7.4" fill="#0000ff">深沟球轴承</text><text transform="translate(1587.7 1031.9) scale(0.85 1)" text-anchor="middle" class="b" font-size="8.6" fill="#0000ff">2</text><text transform="translate(1720.4 1031.2) scale(1.03 1)" text-anchor="middle" class="b" font-size="6.8" fill="#0000ff">GB/T276-94</text><text transform="translate(1480.6 1043.6) scale(0.86 1)" text-anchor="middle" class="b" font-size="9" fill="#0000ff">4</text><text transform="translate(1523.1 1043.6) scale(0.69 1)" class="b" font-size="7.4" fill="#0000ff">轴承支座</text><text transform="translate(1587.7 1043.1) scale(0.85 1)" text-anchor="middle" class="b" font-size="8.6" fill="#0000ff">2</text><text transform="translate(1640.9 1042.4) scale(0.98 1)" text-anchor="middle" class="b" font-size="6.8" fill="#0000ff">HT150</text><text transform="translate(1480.6 1054.8) scale(0.86 1)" text-anchor="middle" class="b" font-size="9" fill="#0000ff">3</text><text transform="translate(1523.1 1054.8) scale(0.69 1)" class="b" font-size="7.4" fill="#0000ff">滚子链条</text><text transform="translate(1587.7 1054.3) scale(0.85 1)" text-anchor="middle" class="b" font-size="8.6" fill="#0000ff">1</text><text transform="translate(1640.9 1053.6) scale(0.98 1)" text-anchor="middle" class="b" font-size="6.8" fill="#0000ff">Q235</text><text transform="translate(1720.4 1053.6) scale(1.03 1)" text-anchor="middle" class="b" font-size="6.8" fill="#0000ff">GB/T1243.1-1983</text><text transform="translate(1480.6 1065.9) scale(0.86 1)" text-anchor="middle" class="b" font-size="9" fill="#0000ff">2</text><text transform="translate(1523.1 1065.9) scale(0.69 1)" class="b" font-size="7.4" fill="#0000ff">链条罩板</text><text transform="translate(1587.7 1065.4) scale(0.85 1)" text-anchor="middle" class="b" font-size="8.6" fill="#0000ff">1</text><text transform="translate(1480.6 1077.1) scale(0.86 1)" text-anchor="middle" class="b" font-size="9" fill="#0000ff">1</text><text transform="translate(1523.1 1077.1) scale(0.69 1)" class="b" font-size="7.4" fill="#0000ff">传动系统</text><text transform="translate(1587.7 1076.6) scale(0.85 1)" text-anchor="middle" class="b" font-size="8.6" fill="#0000ff">1</text><text transform="translate(1480.6 1088.1) scale(0.7 1)" text-anchor="middle" class="b" font-size="6.4" fill="#0000ff">序号</text><text transform="translate(1527.8 1088.1) scale(0.8 1)" text-anchor="middle" class="b" font-size="6.8" fill="#0000ff">名  称</text><text transform="translate(1587.7 1088.1) scale(0.8 1)" text-anchor="middle" class="b" font-size="6.4" fill="#0000ff">数量</text><text transform="translate(1641.4 1088.1) scale(0.8 1)" text-anchor="middle" class="b" font-size="6.8" fill="#0000ff">材  料</text><text transform="translate(1724.4 1088.1) scale(0.8 1)" text-anchor="middle" class="b" font-size="6.8" fill="#0000ff">备  注</text>
<path stroke="#0000ff" stroke-width="1.49" d="M1185.6 934.4L1472.6 934.4M1185.6 945.6L1472.6 945.6M1185.6 956.8L1472.6 956.8M1185.6 967.9L1472.6 967.9M1185.6 979.1L1472.6 979.1M1185.6 990.3L1472.6 990.3M1185.6 1001.5L1472.6 1001.5M1185.6 1012.6L1472.6 1012.6M1185.6 1023.8L1472.6 1023.8M1185.6 1035L1472.6 1035M1185.6 1046.2L1472.6 1046.2M1185.6 1057.4L1472.6 1057.4M1185.6 1068.5L1472.6 1068.5M1185.6 1079.7L1472.6 1079.7M1185.6 1090.9L1472.6 1090.9M1185.6 1102.1L1472.6 1102.1M1185.6 1113.2L1472.6 1113.2M1185.6 1124.4L1472.6 1124.4M1185.6 1135.6L1472.6 1135.6M1185.6 1146.8L1472.6 1146.8M1185.6 1158L1472.6 1158M1185.6 934.4L1185.6 1160M1201.4 934.4L1201.4 1160M1287.5 934.4L1287.5 1160M1313.4 934.4L1313.4 1160M1392.5 934.4L1392.5 1160"/>
<text transform="translate(1193.5 943) scale(0.86 1)" text-anchor="middle" class="b" font-size="9" fill="#0000ff">58</text><text transform="translate(1228.4 943) scale(0.69 1)" class="b" font-size="7.4" fill="#0000ff">弹簧垫圈</text><text transform="translate(1248.8 943.4) scale(0.86 1)" class="b" font-size="8.8" fill="#0000ff">M22</text><text transform="translate(1300.5 942.5) scale(0.85 1)" text-anchor="middle" class="b" font-size="8.6" fill="#0000ff">8</text><text transform="translate(1355.5 941.8) scale(0.98 1)" text-anchor="middle" class="b" font-size="6.8" fill="#0000ff">65Mn</text><text transform="translate(1431.5 941.8) scale(1.03 1)" text-anchor="middle" class="b" font-size="6.8" fill="#0000ff">GB/T93-87</text><text transform="translate(1193.5 954.1) scale(0.86 1)" text-anchor="middle" class="b" font-size="9" fill="#0000ff">57</text><text transform="translate(1235.3 954.1) scale(0.69 1)" class="b" font-size="7.4" fill="#0000ff">底板</text><text transform="translate(1252.4 954.5) scale(0.86 1)" class="b" font-size="8.8" fill="#0000ff">2</text><text transform="translate(1300.5 953.6) scale(0.85 1)" text-anchor="middle" class="b" font-size="8.6" fill="#0000ff">1</text><text transform="translate(1355.5 952.9) scale(0.98 1)" text-anchor="middle" class="b" font-size="6.8" fill="#0000ff">HT150</text><text transform="translate(1193.5 965.3) scale(0.86 1)" text-anchor="middle" class="b" font-size="9" fill="#0000ff">56</text><text transform="translate(1235.3 965.3) scale(0.69 1)" class="b" font-size="7.4" fill="#0000ff">底板</text><text transform="translate(1252.4 965.7) scale(0.86 1)" class="b" font-size="8.8" fill="#0000ff">1</text><text transform="translate(1300.5 964.8) scale(0.85 1)" text-anchor="middle" class="b" font-size="8.6" fill="#0000ff">1</text><text transform="translate(1355.5 964.1) scale(0.98 1)" text-anchor="middle" class="b" font-size="6.8" fill="#0000ff">HT150</text><text transform="translate(1193.5 976.5) scale(0.86 1)" text-anchor="middle" class="b" font-size="9" fill="#0000ff">55</text><text transform="translate(1226.8 976.5) scale(0.69 1)" class="b" font-size="7.4" fill="#0000ff">螺栓</text><text transform="translate(1237 976.9) scale(0.86 1)" class="b" font-size="8.8" fill="#0000ff">M18X50</text><text transform="translate(1300.5 976) scale(0.85 1)" text-anchor="middle" class="b" font-size="8.6" fill="#0000ff">4</text><text transform="translate(1355.5 975.3) scale(0.98 1)" text-anchor="middle" class="b" font-size="6.8" fill="#0000ff">Q235</text><text transform="translate(1431.5 975.3) scale(1.03 1)" text-anchor="middle" class="b" font-size="6.8" fill="#0000ff">GB/T5782-00</text><text transform="translate(1193.5 987.7) scale(0.86 1)" text-anchor="middle" class="b" font-size="9" fill="#0000ff">54</text><text transform="translate(1243.4 987.7) scale(0.69 1)" class="b" font-size="7.4" fill="#0000ff">轴</text><text transform="translate(1300.5 987.2) scale(0.85 1)" text-anchor="middle" class="b" font-size="8.6" fill="#0000ff">1</text><text transform="translate(1355.5 986.5) scale(0.98 1)" text-anchor="middle" class="b" font-size="6.8" fill="#0000ff">45</text><text transform="translate(1193.5 998.9) scale(0.86 1)" text-anchor="middle" class="b" font-size="9" fill="#0000ff">53</text><text transform="translate(1238.3 998.9) scale(0.69 1)" class="b" font-size="7.4" fill="#0000ff">密封圈</text><text transform="translate(1300.5 998.4) scale(0.85 1)" text-anchor="middle" class="b" font-size="8.6" fill="#0000ff">4</text><text transform="translate(1193.5 1010) scale(0.86 1)" text-anchor="middle" class="b" font-size="9" fill="#0000ff">52</text><text transform="translate(1235.7 1010) scale(0.69 1)" class="b" font-size="7.4" fill="#0000ff">轴承端盖</text><text transform="translate(1300.5 1009.5) scale(0.85 1)" text-anchor="middle" class="b" font-size="8.6" fill="#0000ff">4</text><text transform="translate(1355.5 1008.8) scale(0.98 1)" text-anchor="middle" class="b" font-size="6.8" fill="#0000ff">HT150</text><text transform="translate(1431.5 1008.8) scale(1.03 1)" text-anchor="middle" class="b" font-size="6.8" fill="#0000ff">GB/T276-94</text><text transform="translate(1193.5 1021.2) scale(0.86 1)" text-anchor="middle" class="b" font-size="9" fill="#0000ff">51</text><text transform="translate(1240.8 1021.2) scale(0.69 1)" class="b" font-size="7.4" fill="#0000ff">垫圈</text><text transform="translate(1300.5 1020.7) scale(0.85 1)" text-anchor="middle" class="b" font-size="8.6" fill="#0000ff">4</text><text transform="translate(1193.5 1032.4) scale(0.86 1)" text-anchor="middle" class="b" font-size="9" fill="#0000ff">50</text><text transform="translate(1240.8 1032.4) scale(0.69 1)" class="b" font-size="7.4" fill="#0000ff">支座</text><text transform="translate(1300.5 1031.9) scale(0.85 1)" text-anchor="middle" class="b" font-size="8.6" fill="#0000ff">4</text><text transform="translate(1355.5 1031.2) scale(0.98 1)" text-anchor="middle" class="b" font-size="6.8" fill="#0000ff">HT150</text><text transform="translate(1193.5 1043.6) scale(0.86 1)" text-anchor="middle" class="b" font-size="9" fill="#0000ff">49</text><text transform="translate(1240.8 1043.6) scale(0.69 1)" class="b" font-size="7.4" fill="#0000ff">滑座</text><text transform="translate(1300.5 1043.1) scale(0.85 1)" text-anchor="middle" class="b" font-size="8.6" fill="#0000ff">1</text><text transform="translate(1355.5 1042.4) scale(0.98 1)" text-anchor="middle" class="b" font-size="6.8" fill="#0000ff">Q235</text><text transform="translate(1193.5 1054.8) scale(0.86 1)" text-anchor="middle" class="b" font-size="9" fill="#0000ff">48</text><text transform="translate(1228.9 1054.8) scale(0.69 1)" class="b" font-size="7.4" fill="#0000ff">螺钉</text><text transform="translate(1239.1 1055.2) scale(0.86 1)" class="b" font-size="8.8" fill="#0000ff">M8X12</text><text transform="translate(1300.5 1054.3) scale(0.85 1)" text-anchor="middle" class="b" font-size="8.6" fill="#0000ff">4</text><text transform="translate(1355.5 1053.6) scale(0.98 1)" text-anchor="middle" class="b" font-size="6.8" fill="#0000ff">Q235</text><text transform="translate(1431.5 1053.6) scale(1.03 1)" text-anchor="middle" class="b" font-size="6.8" fill="#0000ff">GB/T819.1-00</text><text transform="translate(1193.5 1065.9) scale(0.86 1)" text-anchor="middle" class="b" font-size="9" fill="#0000ff">47</text><text transform="translate(1238.3 1065.9) scale(0.69 1)" class="b" font-size="7.4" fill="#0000ff">进口板</text><text transform="translate(1300.5 1065.4) scale(0.85 1)" text-anchor="middle" class="b" font-size="8.6" fill="#0000ff">1</text><text transform="translate(1355.5 1064.7) scale(0.98 1)" text-anchor="middle" class="b" font-size="6.8" fill="#0000ff">Q235</text><text transform="translate(1193.5 1077.1) scale(0.86 1)" text-anchor="middle" class="b" font-size="9" fill="#0000ff">46</text><text transform="translate(1235.7 1077.1) scale(0.69 1)" class="b" font-size="7.4" fill="#0000ff">弹簧垫圈</text><text transform="translate(1300.5 1076.6) scale(0.85 1)" text-anchor="middle" class="b" font-size="8.6" fill="#0000ff">4</text><text transform="translate(1355.5 1075.9) scale(0.98 1)" text-anchor="middle" class="b" font-size="6.8" fill="#0000ff">65Mn</text><text transform="translate(1431.5 1075.9) scale(1.03 1)" text-anchor="middle" class="b" font-size="6.8" fill="#0000ff">GB/T93-87</text><text transform="translate(1193.5 1088.3) scale(0.86 1)" text-anchor="middle" class="b" font-size="9" fill="#0000ff">45</text><text transform="translate(1226.8 1088.3) scale(0.69 1)" class="b" font-size="7.4" fill="#0000ff">螺钉</text><text transform="translate(1237 1088.7) scale(0.86 1)" class="b" font-size="8.8" fill="#0000ff">M10X24</text><text transform="translate(1300.5 1087.8) scale(0.85 1)" text-anchor="middle" class="b" font-size="8.6" fill="#0000ff">4</text><text transform="translate(1355.5 1087.1) scale(0.98 1)" text-anchor="middle" class="b" font-size="6.8" fill="#0000ff">Q235</text><text transform="translate(1431.5 1087.1) scale(1.03 1)" text-anchor="middle" class="b" font-size="6.8" fill="#0000ff">GB70-85</text><text transform="translate(1193.5 1099.5) scale(0.86 1)" text-anchor="middle" class="b" font-size="9" fill="#0000ff">44</text><text transform="translate(1238.3 1099.5) scale(0.69 1)" class="b" font-size="7.4" fill="#0000ff">支撑板</text><text transform="translate(1300.5 1099) scale(0.85 1)" text-anchor="middle" class="b" font-size="8.6" fill="#0000ff">2</text><text transform="translate(1355.5 1098.3) scale(0.98 1)" text-anchor="middle" class="b" font-size="6.8" fill="#0000ff">Q235</text><text transform="translate(1193.5 1110.6) scale(0.86 1)" text-anchor="middle" class="b" font-size="9" fill="#0000ff">43</text><text transform="translate(1235.7 1110.6) scale(0.69 1)" class="b" font-size="7.4" fill="#0000ff">电机支座</text><text transform="translate(1300.5 1110.1) scale(0.85 1)" text-anchor="middle" class="b" font-size="8.6" fill="#0000ff">4</text><text transform="translate(1355.5 1109.4) scale(0.98 1)" text-anchor="middle" class="b" font-size="6.8" fill="#0000ff">HT150</text><text transform="translate(1193.5 1121.8) scale(0.86 1)" text-anchor="middle" class="b" font-size="9" fill="#0000ff">42</text><text transform="translate(1240.8 1121.8) scale(0.69 1)" class="b" font-size="7.4" fill="#0000ff">导轨</text><text transform="translate(1300.5 1121.3) scale(0.85 1)" text-anchor="middle" class="b" font-size="8.6" fill="#0000ff">1</text><text transform="translate(1355.5 1120.6) scale(0.98 1)" text-anchor="middle" class="b" font-size="6.8" fill="#0000ff">Q235</text><text transform="translate(1193.5 1133) scale(0.86 1)" text-anchor="middle" class="b" font-size="9" fill="#0000ff">41</text><text transform="translate(1228.4 1133) scale(0.69 1)" class="b" font-size="7.4" fill="#0000ff">弹簧垫圈</text><text transform="translate(1248.8 1133.4) scale(0.86 1)" class="b" font-size="8.8" fill="#0000ff">M18</text><text transform="translate(1300.5 1132.5) scale(0.85 1)" text-anchor="middle" class="b" font-size="8.6" fill="#0000ff">12</text><text transform="translate(1355.5 1131.8) scale(0.98 1)" text-anchor="middle" class="b" font-size="6.8" fill="#0000ff">65Mn</text><text transform="translate(1431.5 1131.8) scale(1.03 1)" text-anchor="middle" class="b" font-size="6.8" fill="#0000ff">GB/T93-87</text><text transform="translate(1193.5 1144.2) scale(0.86 1)" text-anchor="middle" class="b" font-size="9" fill="#0000ff">40</text><text transform="translate(1240.8 1144.2) scale(0.69 1)" class="b" font-size="7.4" fill="#0000ff">垫圈</text><text transform="translate(1300.5 1143.7) scale(0.85 1)" text-anchor="middle" class="b" font-size="8.6" fill="#0000ff">1</text><text transform="translate(1355.5 1143) scale(0.98 1)" text-anchor="middle" class="b" font-size="6.8" fill="#0000ff">Q235</text><text transform="translate(1193.5 1155.4) scale(0.86 1)" text-anchor="middle" class="b" font-size="9" fill="#0000ff">39</text><text transform="translate(1240.8 1155.4) scale(0.69 1)" class="b" font-size="7.4" fill="#0000ff">滚筒</text><text transform="translate(1300.5 1154.9) scale(0.85 1)" text-anchor="middle" class="b" font-size="8.6" fill="#0000ff">1</text><text transform="translate(1355.5 1154.2) scale(0.98 1)" text-anchor="middle" class="b" font-size="6.8" fill="#0000ff">Q235</text><text transform="translate(1193.5 1166.5) scale(0.86 1)" text-anchor="middle" class="b" font-size="9" fill="#0000ff">38</text><text transform="translate(1228.4 1166.5) scale(0.69 1)" class="b" font-size="7.4" fill="#0000ff">弹簧垫圈</text><text transform="translate(1248.8 1166.9) scale(0.86 1)" class="b" font-size="8.8" fill="#0000ff">M22</text><text transform="translate(1300.5 1166) scale(0.85 1)" text-anchor="middle" class="b" font-size="8.6" fill="#0000ff">8</text><text transform="translate(1355.5 1165.3) scale(0.98 1)" text-anchor="middle" class="b" font-size="6.8" fill="#0000ff">65Mn</text><text transform="translate(1431.5 1165.3) scale(1.03 1)" text-anchor="middle" class="b" font-size="6.8" fill="#0000ff">GB/T93-87</text>
<path stroke="#0000ff" stroke-width="1.49" d="M1472.6 1090.9L1472.6 1160M1574.9 1090.9L1574.9 1160M1600.4 1090.9L1600.4 1160M1680.4 1090.9L1680.4 1160M1488.6 1090.9L1488.6 1135.5M1472.6 1101.6L1600.4 1101.6M1472.6 1112.7L1600.4 1112.7M1472.6 1124.4L1762 1124.4M1472.6 1135.5L1680.4 1135.5M1472.6 1146.9L1600.4 1146.9M1600.4 1151.2L1762 1151.2M1504.4 1090.9L1504.4 1135.5M1530.1 1090.9L1530.1 1135.5M1555.4 1090.9L1555.4 1135.5M1491.6 1135.5L1491.6 1160M1510.9 1135.5L1510.9 1160M1536.4 1135.5L1536.4 1160M1555.4 1135.5L1555.4 1160M1642 1135.5L1642 1160M1661.7 1135.5L1661.7 1160M1610.4 1151.2L1610.4 1160M1621.5 1151.2L1621.5 1160M1631.4 1151.2L1631.4 1160"/>
<path stroke-width="1.35" fill="#0000ff" d="M1475.9 1126.4L1485.1 1126.4L1485.1 1130.8L1475.9 1130.8ZM1491.1 1126.4L1501 1126.4L1501 1130.8L1491.1 1130.8ZM1509.9 1126.4L1524.1 1126.4L1524.1 1130.8L1509.9 1130.8ZM1532.1 1126.4L1555.4 1126.4L1555.4 1130.8L1532.1 1130.8ZM1560 1126.4L1569.1 1126.4L1569.1 1130.8L1560 1130.8ZM1577.1 1126.4L1600.4 1126.4L1600.4 1130.8L1577.1 1130.8ZM1475.9 1138L1489.9 1138L1489.9 1142.7L1475.9 1142.7ZM1540 1138L1553.7 1138L1553.7 1142.7L1540 1142.7ZM1557.1 1138L1574.9 1138L1574.9 1142.7L1557.1 1142.7ZM1577.1 1138L1600.4 1138L1600.4 1142.7L1577.1 1142.7ZM1607 1141.2L1639 1141.2L1639 1145.8L1607 1145.8ZM1646 1141.2L1658.8 1141.2L1658.8 1145.8L1646 1145.8ZM1663.9 1141.2L1678 1141.2L1678 1145.8L1663.9 1145.8Z"/>
<text transform="translate(1722 1109.6) scale(0.76 1)" text-anchor="middle" class="f b" font-size="15.5" fill="#0000ff">蔬菜清洗机</text><text x="1663" y="1162" class="b" font-size="11.5" fill="#0000ff">1:6</text><text transform="translate(1691.5 1162.3) scale(0.86 1)" class="b" font-size="11.5" fill="#0000ff">N00020111 0</text><text transform="translate(1140.8 678) scale(0.655 1)" text-anchor="middle" class="b" font-size="17.5" fill="#0000ff">技术要求</text><text transform="translate(977.9 699.3) scale(0.67 1)" class="b" font-size="12" fill="#0000ff">1、</text><text transform="translate(990.6 699.3) scale(0.712 1)" class="b" font-size="12" fill="#0000ff">滚筒中心线对机座上检查面的不平行度允差调正到</text><text transform="translate(1179.2 699.3) scale(0.9 1)" class="b" font-size="12" fill="#0000ff">0.5:1000</text><text transform="translate(1221.8 699.3) scale(0.712 1)" class="b" font-size="12" fill="#0000ff">以内</text><text transform="translate(977.9 718.6) scale(0.67 1)" class="b" font-size="12" fill="#0000ff">2、</text><text transform="translate(990.6 718.6) scale(0.712 1)" class="b" font-size="12" fill="#0000ff">左右轮罩与滚筒外圈间隙小于</text><text transform="translate(1102.3 718.6) scale(0.9 1)" class="b" font-size="12" fill="#0000ff">2</text><text transform="translate(1108.9 718.6) scale(0.712 1)" class="b" font-size="12" fill="#0000ff">毫米</text><text transform="translate(977.9 737.9) scale(0.67 1)" class="b" font-size="12" fill="#0000ff">3、</text><text transform="translate(990.6 737.9) scale(0.712 1)" class="b" font-size="12" fill="#0000ff">筒体定位凸台右端斜面与托轮接触处应配合</text><text transform="translate(977.9 757.2) scale(0.67 1)" class="b" font-size="12" fill="#0000ff">4、</text><text transform="translate(990.6 757.2) scale(0.712 1)" class="b" font-size="12" fill="#0000ff">检查锥形体与固定板间的间隙，应保持</text><text transform="translate(1136.4 757.2) scale(0.9 1)" class="b" font-size="12" fill="#0000ff">13.5</text><text transform="translate(1158.1 757.2) scale(0.712 1)" class="b" font-size="12" fill="#0000ff">毫米</text><text transform="translate(977.9 776.5) scale(0.67 1)" class="b" font-size="12" fill="#0000ff">5、</text><text transform="translate(990.6 776.5) scale(0.712 1)" class="b" font-size="12" fill="#0000ff">端盖的旋转应水平移动，推拉端盖应灵活不别劲</text><text transform="translate(977.9 795.8) scale(0.67 1)" class="b" font-size="12" fill="#0000ff">6、</text><text transform="translate(990.6 795.8) scale(0.712 1)" class="b" font-size="12" fill="#0000ff">齿条与齿轮在停车的啮合为齿条下端节一个齿</text><text transform="translate(977.9 815.1) scale(0.67 1)" class="b" font-size="12" fill="#0000ff">7、</text><text transform="translate(990.6 815.1) scale(0.712 1)" class="b" font-size="12" fill="#0000ff">装套电线用的各种金属弯管，均在现场与有关零件配合钻孔固定</text>
</g>
<rect x="1759.2" y="0" width="1.8" height="1089" fill="#8c8c8c"/>
<rect x="1759.2" y="1089" width="1.8" height="69" fill="#dcdcdc"/>
</svg>
</body></html>
